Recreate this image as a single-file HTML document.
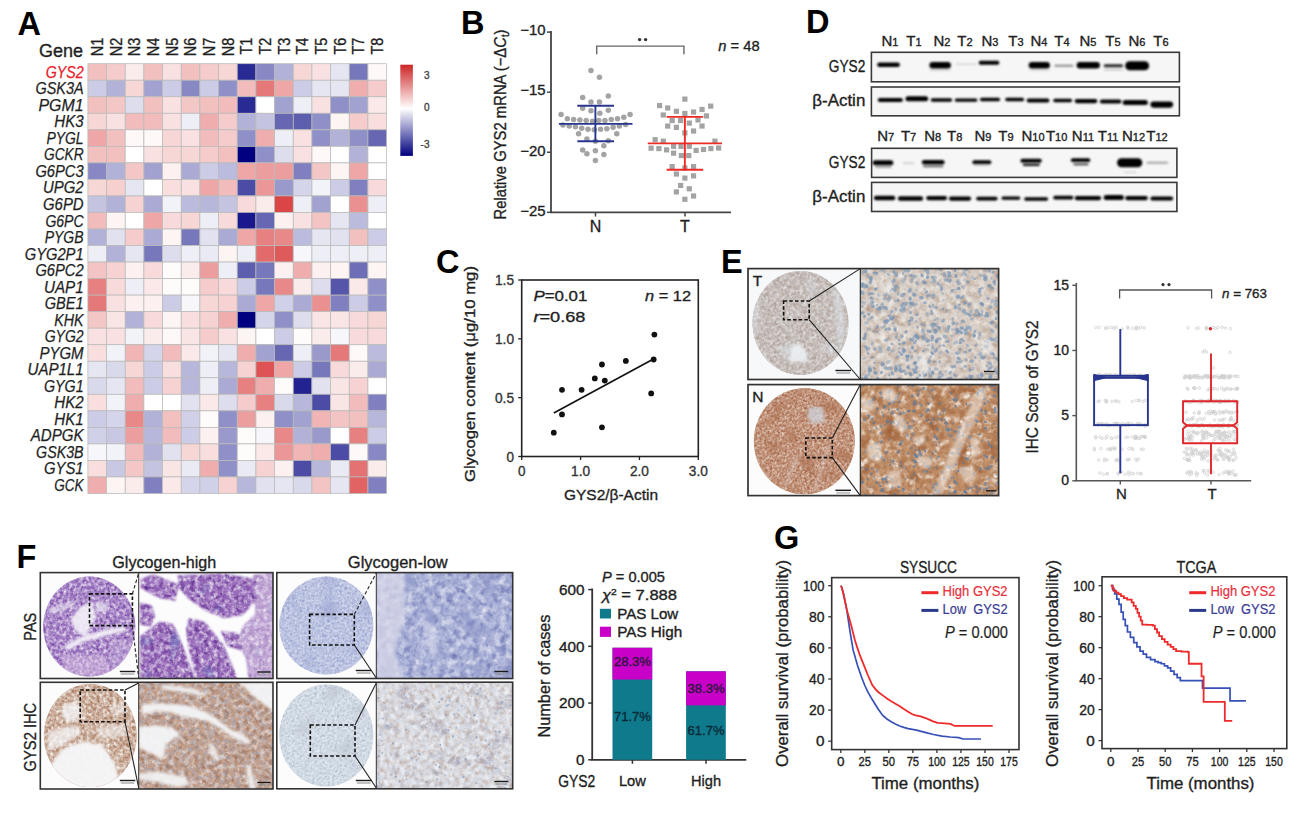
<!DOCTYPE html>
<html><head><meta charset="utf-8"><style>
html,body{margin:0;padding:0;background:#fff;width:1307px;height:813px;overflow:hidden;}
svg{display:block;font-family:"Liberation Sans", sans-serif;}
</style></head><body>
<svg width="1307" height="813" viewBox="0 0 1307 813">
<rect width="1307" height="813" fill="#fff"/>
<text x="17.50" y="34.50" font-size="32.5" text-anchor="start" fill="#000" font-weight="bold" >A</text>
<text x="83.00" y="56.50" font-size="18.5" text-anchor="end" fill="#1f1f1f" stroke="#1f1f1f" stroke-width="0.35" textLength="44" lengthAdjust="spacingAndGlyphs" >Gene</text>
<text transform="translate(103.04,37.70) rotate(-90)" x="0" y="0" font-size="17" text-anchor="end" fill="#1f1f1f" stroke="#1f1f1f" stroke-width="0.35" textLength="18.5" lengthAdjust="spacingAndGlyphs" >N1</text>
<text transform="translate(121.70,37.70) rotate(-90)" x="0" y="0" font-size="17" text-anchor="end" fill="#1f1f1f" stroke="#1f1f1f" stroke-width="0.35" textLength="18.5" lengthAdjust="spacingAndGlyphs" >N2</text>
<text transform="translate(140.38,37.70) rotate(-90)" x="0" y="0" font-size="17" text-anchor="end" fill="#1f1f1f" stroke="#1f1f1f" stroke-width="0.35" textLength="18.5" lengthAdjust="spacingAndGlyphs" >N3</text>
<text transform="translate(159.05,37.70) rotate(-90)" x="0" y="0" font-size="17" text-anchor="end" fill="#1f1f1f" stroke="#1f1f1f" stroke-width="0.35" textLength="18.5" lengthAdjust="spacingAndGlyphs" >N4</text>
<text transform="translate(177.72,37.70) rotate(-90)" x="0" y="0" font-size="17" text-anchor="end" fill="#1f1f1f" stroke="#1f1f1f" stroke-width="0.35" textLength="18.5" lengthAdjust="spacingAndGlyphs" >N5</text>
<text transform="translate(196.39,37.70) rotate(-90)" x="0" y="0" font-size="17" text-anchor="end" fill="#1f1f1f" stroke="#1f1f1f" stroke-width="0.35" textLength="18.5" lengthAdjust="spacingAndGlyphs" >N6</text>
<text transform="translate(215.06,37.70) rotate(-90)" x="0" y="0" font-size="17" text-anchor="end" fill="#1f1f1f" stroke="#1f1f1f" stroke-width="0.35" textLength="18.5" lengthAdjust="spacingAndGlyphs" >N7</text>
<text transform="translate(233.73,37.70) rotate(-90)" x="0" y="0" font-size="17" text-anchor="end" fill="#1f1f1f" stroke="#1f1f1f" stroke-width="0.35" textLength="18.5" lengthAdjust="spacingAndGlyphs" >N8</text>
<text transform="translate(252.40,37.70) rotate(-90)" x="0" y="0" font-size="17" text-anchor="end" fill="#1f1f1f" stroke="#1f1f1f" stroke-width="0.35" textLength="16.9" lengthAdjust="spacingAndGlyphs" >T1</text>
<text transform="translate(271.06,37.70) rotate(-90)" x="0" y="0" font-size="17" text-anchor="end" fill="#1f1f1f" stroke="#1f1f1f" stroke-width="0.35" textLength="16.9" lengthAdjust="spacingAndGlyphs" >T2</text>
<text transform="translate(289.74,37.70) rotate(-90)" x="0" y="0" font-size="17" text-anchor="end" fill="#1f1f1f" stroke="#1f1f1f" stroke-width="0.35" textLength="16.9" lengthAdjust="spacingAndGlyphs" >T3</text>
<text transform="translate(308.41,37.70) rotate(-90)" x="0" y="0" font-size="17" text-anchor="end" fill="#1f1f1f" stroke="#1f1f1f" stroke-width="0.35" textLength="16.9" lengthAdjust="spacingAndGlyphs" >T4</text>
<text transform="translate(327.08,37.70) rotate(-90)" x="0" y="0" font-size="17" text-anchor="end" fill="#1f1f1f" stroke="#1f1f1f" stroke-width="0.35" textLength="16.9" lengthAdjust="spacingAndGlyphs" >T5</text>
<text transform="translate(345.75,37.70) rotate(-90)" x="0" y="0" font-size="17" text-anchor="end" fill="#1f1f1f" stroke="#1f1f1f" stroke-width="0.35" textLength="16.9" lengthAdjust="spacingAndGlyphs" >T6</text>
<text transform="translate(364.42,37.70) rotate(-90)" x="0" y="0" font-size="17" text-anchor="end" fill="#1f1f1f" stroke="#1f1f1f" stroke-width="0.35" textLength="16.9" lengthAdjust="spacingAndGlyphs" >T7</text>
<text transform="translate(383.09,37.70) rotate(-90)" x="0" y="0" font-size="17" text-anchor="end" fill="#1f1f1f" stroke="#1f1f1f" stroke-width="0.35" textLength="16.9" lengthAdjust="spacingAndGlyphs" >T8</text>
<text x="83.60" y="77.77" font-size="16" text-anchor="end" fill="#e8202a" stroke="#e8202a" stroke-width="0.25" font-style="italic" textLength="37.9" lengthAdjust="spacingAndGlyphs" >GYS2</text>
<text x="83.60" y="94.30" font-size="16" text-anchor="end" fill="#1f1f1f" stroke="#1f1f1f" stroke-width="0.25" font-style="italic" textLength="48.2" lengthAdjust="spacingAndGlyphs" >GSK3A</text>
<text x="83.60" y="110.83" font-size="16" text-anchor="end" fill="#1f1f1f" stroke="#1f1f1f" stroke-width="0.25" font-style="italic" textLength="45.1" lengthAdjust="spacingAndGlyphs" >PGM1</text>
<text x="83.60" y="127.36" font-size="16" text-anchor="end" fill="#1f1f1f" stroke="#1f1f1f" stroke-width="0.25" font-style="italic" textLength="29.3" lengthAdjust="spacingAndGlyphs" >HK3</text>
<text x="83.60" y="143.89" font-size="16" text-anchor="end" fill="#1f1f1f" stroke="#1f1f1f" stroke-width="0.25" font-style="italic" textLength="37.2" lengthAdjust="spacingAndGlyphs" >PYGL</text>
<text x="83.60" y="160.42" font-size="16" text-anchor="end" fill="#1f1f1f" stroke="#1f1f1f" stroke-width="0.25" font-style="italic" textLength="39.6" lengthAdjust="spacingAndGlyphs" >GCKR</text>
<text x="83.60" y="176.95" font-size="16" text-anchor="end" fill="#1f1f1f" stroke="#1f1f1f" stroke-width="0.25" font-style="italic" textLength="48.2" lengthAdjust="spacingAndGlyphs" >G6PC3</text>
<text x="83.60" y="193.48" font-size="16" text-anchor="end" fill="#1f1f1f" stroke="#1f1f1f" stroke-width="0.25" font-style="italic" textLength="40.6" lengthAdjust="spacingAndGlyphs" >UPG2</text>
<text x="83.60" y="210.00" font-size="16" text-anchor="end" fill="#1f1f1f" stroke="#1f1f1f" stroke-width="0.25" font-style="italic" textLength="40.6" lengthAdjust="spacingAndGlyphs" >G6PD</text>
<text x="83.60" y="226.54" font-size="16" text-anchor="end" fill="#1f1f1f" stroke="#1f1f1f" stroke-width="0.25" font-style="italic" textLength="38.2" lengthAdjust="spacingAndGlyphs" >G6PC</text>
<text x="83.60" y="243.06" font-size="16" text-anchor="end" fill="#1f1f1f" stroke="#1f1f1f" stroke-width="0.25" font-style="italic" textLength="38.9" lengthAdjust="spacingAndGlyphs" >PYGB</text>
<text x="83.60" y="259.60" font-size="16" text-anchor="end" fill="#1f1f1f" stroke="#1f1f1f" stroke-width="0.25" font-style="italic" textLength="58.9" lengthAdjust="spacingAndGlyphs" >GYG2P1</text>
<text x="83.60" y="276.12" font-size="16" text-anchor="end" fill="#1f1f1f" stroke="#1f1f1f" stroke-width="0.25" font-style="italic" textLength="48.2" lengthAdjust="spacingAndGlyphs" >G6PC2</text>
<text x="83.60" y="292.66" font-size="16" text-anchor="end" fill="#1f1f1f" stroke="#1f1f1f" stroke-width="0.25" font-style="italic" textLength="39.6" lengthAdjust="spacingAndGlyphs" >UAP1</text>
<text x="83.60" y="309.19" font-size="16" text-anchor="end" fill="#1f1f1f" stroke="#1f1f1f" stroke-width="0.25" font-style="italic" textLength="38.9" lengthAdjust="spacingAndGlyphs" >GBE1</text>
<text x="83.60" y="325.72" font-size="16" text-anchor="end" fill="#1f1f1f" stroke="#1f1f1f" stroke-width="0.25" font-style="italic" textLength="29.3" lengthAdjust="spacingAndGlyphs" >KHK</text>
<text x="83.60" y="342.25" font-size="16" text-anchor="end" fill="#1f1f1f" stroke="#1f1f1f" stroke-width="0.25" font-style="italic" textLength="38.9" lengthAdjust="spacingAndGlyphs" >GYG2</text>
<text x="83.60" y="358.78" font-size="16" text-anchor="end" fill="#1f1f1f" stroke="#1f1f1f" stroke-width="0.25" font-style="italic" textLength="44.1" lengthAdjust="spacingAndGlyphs" >PYGM</text>
<text x="83.60" y="375.31" font-size="16" text-anchor="end" fill="#1f1f1f" stroke="#1f1f1f" stroke-width="0.25" font-style="italic" textLength="56.1" lengthAdjust="spacingAndGlyphs" >UAP1L1</text>
<text x="83.60" y="391.84" font-size="16" text-anchor="end" fill="#1f1f1f" stroke="#1f1f1f" stroke-width="0.25" font-style="italic" textLength="39.6" lengthAdjust="spacingAndGlyphs" >GYG1</text>
<text x="83.60" y="408.37" font-size="16" text-anchor="end" fill="#1f1f1f" stroke="#1f1f1f" stroke-width="0.25" font-style="italic" textLength="29.3" lengthAdjust="spacingAndGlyphs" >HK2</text>
<text x="83.60" y="424.90" font-size="16" text-anchor="end" fill="#1f1f1f" stroke="#1f1f1f" stroke-width="0.25" font-style="italic" textLength="29.3" lengthAdjust="spacingAndGlyphs" >HK1</text>
<text x="83.60" y="441.43" font-size="16" text-anchor="end" fill="#1f1f1f" stroke="#1f1f1f" stroke-width="0.25" font-style="italic" textLength="52.8" lengthAdjust="spacingAndGlyphs" >ADPGK</text>
<text x="83.60" y="457.96" font-size="16" text-anchor="end" fill="#1f1f1f" stroke="#1f1f1f" stroke-width="0.25" font-style="italic" textLength="47.5" lengthAdjust="spacingAndGlyphs" >GSK3B</text>
<text x="83.60" y="474.49" font-size="16" text-anchor="end" fill="#1f1f1f" stroke="#1f1f1f" stroke-width="0.25" font-style="italic" textLength="39.6" lengthAdjust="spacingAndGlyphs" >GYS1</text>
<text x="83.60" y="491.02" font-size="16" text-anchor="end" fill="#1f1f1f" stroke="#1f1f1f" stroke-width="0.25" font-style="italic" textLength="29.3" lengthAdjust="spacingAndGlyphs" >GCK</text>
<g stroke="#b4b4b4" stroke-width="0.8">
<rect x="87.90" y="63.70" width="18.67" height="16.53" fill="#f3c0c0" stroke="#bababa" stroke-width="0.75" />
<rect x="106.57" y="63.70" width="18.67" height="16.53" fill="#f5cbcb" stroke="#bababa" stroke-width="0.75" />
<rect x="125.24" y="63.70" width="18.67" height="16.53" fill="#fbecec" stroke="#bababa" stroke-width="0.75" />
<rect x="143.91" y="63.70" width="18.67" height="16.53" fill="#f3c0c0" stroke="#bababa" stroke-width="0.75" />
<rect x="162.58" y="63.70" width="18.67" height="16.53" fill="#f9e1e1" stroke="#bababa" stroke-width="0.75" />
<rect x="181.25" y="63.70" width="18.67" height="16.53" fill="#f3c0c0" stroke="#bababa" stroke-width="0.75" />
<rect x="199.92" y="63.70" width="18.67" height="16.53" fill="#f5cbcb" stroke="#bababa" stroke-width="0.75" />
<rect x="218.59" y="63.70" width="18.67" height="16.53" fill="#f7d6d6" stroke="#bababa" stroke-width="0.75" />
<rect x="237.26" y="63.70" width="18.67" height="16.53" fill="#2a2a95" stroke="#bababa" stroke-width="0.75" />
<rect x="255.93" y="63.70" width="18.67" height="16.53" fill="#8888c4" stroke="#bababa" stroke-width="0.75" />
<rect x="274.60" y="63.70" width="18.67" height="16.53" fill="#b2b2d9" stroke="#bababa" stroke-width="0.75" />
<rect x="293.27" y="63.70" width="18.67" height="16.53" fill="#f7d6d6" stroke="#bababa" stroke-width="0.75" />
<rect x="311.94" y="63.70" width="18.67" height="16.53" fill="#f9e1e1" stroke="#bababa" stroke-width="0.75" />
<rect x="330.61" y="63.70" width="18.67" height="16.53" fill="#e6e6f2" stroke="#bababa" stroke-width="0.75" />
<rect x="349.28" y="63.70" width="18.67" height="16.53" fill="#7777bb" stroke="#bababa" stroke-width="0.75" />
<rect x="367.95" y="63.70" width="18.67" height="16.53" fill="#fef8f8" stroke="#bababa" stroke-width="0.75" />
<rect x="87.90" y="80.23" width="18.67" height="16.53" fill="#cccce6" stroke="#bababa" stroke-width="0.75" />
<rect x="106.57" y="80.23" width="18.67" height="16.53" fill="#b2b2d9" stroke="#bababa" stroke-width="0.75" />
<rect x="125.24" y="80.23" width="18.67" height="16.53" fill="#f7d6d6" stroke="#bababa" stroke-width="0.75" />
<rect x="143.91" y="80.23" width="18.67" height="16.53" fill="#a2a2d0" stroke="#bababa" stroke-width="0.75" />
<rect x="162.58" y="80.23" width="18.67" height="16.53" fill="#cccce6" stroke="#bababa" stroke-width="0.75" />
<rect x="181.25" y="80.23" width="18.67" height="16.53" fill="#8888c4" stroke="#bababa" stroke-width="0.75" />
<rect x="199.92" y="80.23" width="18.67" height="16.53" fill="#cccce6" stroke="#bababa" stroke-width="0.75" />
<rect x="218.59" y="80.23" width="18.67" height="16.53" fill="#9090c8" stroke="#bababa" stroke-width="0.75" />
<rect x="237.26" y="80.23" width="18.67" height="16.53" fill="#f2bcbc" stroke="#bababa" stroke-width="0.75" />
<rect x="255.93" y="80.23" width="18.67" height="16.53" fill="#e57979" stroke="#bababa" stroke-width="0.75" />
<rect x="274.60" y="80.23" width="18.67" height="16.53" fill="#eea6a6" stroke="#bababa" stroke-width="0.75" />
<rect x="293.27" y="80.23" width="18.67" height="16.53" fill="#cccce6" stroke="#bababa" stroke-width="0.75" />
<rect x="311.94" y="80.23" width="18.67" height="16.53" fill="#e6e6f2" stroke="#bababa" stroke-width="0.75" />
<rect x="330.61" y="80.23" width="18.67" height="16.53" fill="#e6e6f2" stroke="#bababa" stroke-width="0.75" />
<rect x="349.28" y="80.23" width="18.67" height="16.53" fill="#efadad" stroke="#bababa" stroke-width="0.75" />
<rect x="367.95" y="80.23" width="18.67" height="16.53" fill="#f5cbcb" stroke="#bababa" stroke-width="0.75" />
<rect x="87.90" y="96.76" width="18.67" height="16.53" fill="#f3c0c0" stroke="#bababa" stroke-width="0.75" />
<rect x="106.57" y="96.76" width="18.67" height="16.53" fill="#f4c7c7" stroke="#bababa" stroke-width="0.75" />
<rect x="125.24" y="96.76" width="18.67" height="16.53" fill="#ddddee" stroke="#bababa" stroke-width="0.75" />
<rect x="143.91" y="96.76" width="18.67" height="16.53" fill="#f3c0c0" stroke="#bababa" stroke-width="0.75" />
<rect x="162.58" y="96.76" width="18.67" height="16.53" fill="#f9e1e1" stroke="#bababa" stroke-width="0.75" />
<rect x="181.25" y="96.76" width="18.67" height="16.53" fill="#f4c7c7" stroke="#bababa" stroke-width="0.75" />
<rect x="199.92" y="96.76" width="18.67" height="16.53" fill="#f3c0c0" stroke="#bababa" stroke-width="0.75" />
<rect x="218.59" y="96.76" width="18.67" height="16.53" fill="#f2bcbc" stroke="#bababa" stroke-width="0.75" />
<rect x="237.26" y="96.76" width="18.67" height="16.53" fill="#2a2a95" stroke="#bababa" stroke-width="0.75" />
<rect x="255.93" y="96.76" width="18.67" height="16.53" fill="#ffffff" stroke="#bababa" stroke-width="0.75" />
<rect x="274.60" y="96.76" width="18.67" height="16.53" fill="#a2a2d0" stroke="#bababa" stroke-width="0.75" />
<rect x="293.27" y="96.76" width="18.67" height="16.53" fill="#eeeef7" stroke="#bababa" stroke-width="0.75" />
<rect x="311.94" y="96.76" width="18.67" height="16.53" fill="#f9e1e1" stroke="#bababa" stroke-width="0.75" />
<rect x="330.61" y="96.76" width="18.67" height="16.53" fill="#9090c8" stroke="#bababa" stroke-width="0.75" />
<rect x="349.28" y="96.76" width="18.67" height="16.53" fill="#a2a2d0" stroke="#bababa" stroke-width="0.75" />
<rect x="367.95" y="96.76" width="18.67" height="16.53" fill="#fbe9e9" stroke="#bababa" stroke-width="0.75" />
<rect x="87.90" y="113.29" width="18.67" height="16.53" fill="#f7d6d6" stroke="#bababa" stroke-width="0.75" />
<rect x="106.57" y="113.29" width="18.67" height="16.53" fill="#f9e1e1" stroke="#bababa" stroke-width="0.75" />
<rect x="125.24" y="113.29" width="18.67" height="16.53" fill="#f2bcbc" stroke="#bababa" stroke-width="0.75" />
<rect x="143.91" y="113.29" width="18.67" height="16.53" fill="#f2bcbc" stroke="#bababa" stroke-width="0.75" />
<rect x="162.58" y="113.29" width="18.67" height="16.53" fill="#f9e1e1" stroke="#bababa" stroke-width="0.75" />
<rect x="181.25" y="113.29" width="18.67" height="16.53" fill="#eeeef7" stroke="#bababa" stroke-width="0.75" />
<rect x="199.92" y="113.29" width="18.67" height="16.53" fill="#efadad" stroke="#bababa" stroke-width="0.75" />
<rect x="218.59" y="113.29" width="18.67" height="16.53" fill="#f5cbcb" stroke="#bababa" stroke-width="0.75" />
<rect x="237.26" y="113.29" width="18.67" height="16.53" fill="#b2b2d9" stroke="#bababa" stroke-width="0.75" />
<rect x="255.93" y="113.29" width="18.67" height="16.53" fill="#c4c4e1" stroke="#bababa" stroke-width="0.75" />
<rect x="274.60" y="113.29" width="18.67" height="16.53" fill="#6666b3" stroke="#bababa" stroke-width="0.75" />
<rect x="293.27" y="113.29" width="18.67" height="16.53" fill="#5e5eaf" stroke="#bababa" stroke-width="0.75" />
<rect x="311.94" y="113.29" width="18.67" height="16.53" fill="#9090c8" stroke="#bababa" stroke-width="0.75" />
<rect x="330.61" y="113.29" width="18.67" height="16.53" fill="#fdf4f4" stroke="#bababa" stroke-width="0.75" />
<rect x="349.28" y="113.29" width="18.67" height="16.53" fill="#f5cbcb" stroke="#bababa" stroke-width="0.75" />
<rect x="367.95" y="113.29" width="18.67" height="16.53" fill="#f9dede" stroke="#bababa" stroke-width="0.75" />
<rect x="87.90" y="129.82" width="18.67" height="16.53" fill="#eea6a6" stroke="#bababa" stroke-width="0.75" />
<rect x="106.57" y="129.82" width="18.67" height="16.53" fill="#f3c0c0" stroke="#bababa" stroke-width="0.75" />
<rect x="125.24" y="129.82" width="18.67" height="16.53" fill="#fef8f8" stroke="#bababa" stroke-width="0.75" />
<rect x="143.91" y="129.82" width="18.67" height="16.53" fill="#fef8f8" stroke="#bababa" stroke-width="0.75" />
<rect x="162.58" y="129.82" width="18.67" height="16.53" fill="#f7d6d6" stroke="#bababa" stroke-width="0.75" />
<rect x="181.25" y="129.82" width="18.67" height="16.53" fill="#f9e1e1" stroke="#bababa" stroke-width="0.75" />
<rect x="199.92" y="129.82" width="18.67" height="16.53" fill="#f2bcbc" stroke="#bababa" stroke-width="0.75" />
<rect x="218.59" y="129.82" width="18.67" height="16.53" fill="#f5cbcb" stroke="#bababa" stroke-width="0.75" />
<rect x="237.26" y="129.82" width="18.67" height="16.53" fill="#9090c8" stroke="#bababa" stroke-width="0.75" />
<rect x="255.93" y="129.82" width="18.67" height="16.53" fill="#efadad" stroke="#bababa" stroke-width="0.75" />
<rect x="274.60" y="129.82" width="18.67" height="16.53" fill="#eeeef7" stroke="#bababa" stroke-width="0.75" />
<rect x="293.27" y="129.82" width="18.67" height="16.53" fill="#f9e1e1" stroke="#bababa" stroke-width="0.75" />
<rect x="311.94" y="129.82" width="18.67" height="16.53" fill="#9090c8" stroke="#bababa" stroke-width="0.75" />
<rect x="330.61" y="129.82" width="18.67" height="16.53" fill="#b2b2d9" stroke="#bababa" stroke-width="0.75" />
<rect x="349.28" y="129.82" width="18.67" height="16.53" fill="#9090c8" stroke="#bababa" stroke-width="0.75" />
<rect x="367.95" y="129.82" width="18.67" height="16.53" fill="#6666b3" stroke="#bababa" stroke-width="0.75" />
<rect x="87.90" y="146.35" width="18.67" height="16.53" fill="#f3c0c0" stroke="#bababa" stroke-width="0.75" />
<rect x="106.57" y="146.35" width="18.67" height="16.53" fill="#f3c0c0" stroke="#bababa" stroke-width="0.75" />
<rect x="125.24" y="146.35" width="18.67" height="16.53" fill="#ffffff" stroke="#bababa" stroke-width="0.75" />
<rect x="143.91" y="146.35" width="18.67" height="16.53" fill="#f9e1e1" stroke="#bababa" stroke-width="0.75" />
<rect x="162.58" y="146.35" width="18.67" height="16.53" fill="#f7d6d6" stroke="#bababa" stroke-width="0.75" />
<rect x="181.25" y="146.35" width="18.67" height="16.53" fill="#f7d6d6" stroke="#bababa" stroke-width="0.75" />
<rect x="199.92" y="146.35" width="18.67" height="16.53" fill="#f5cbcb" stroke="#bababa" stroke-width="0.75" />
<rect x="218.59" y="146.35" width="18.67" height="16.53" fill="#f3c0c0" stroke="#bababa" stroke-width="0.75" />
<rect x="237.26" y="146.35" width="18.67" height="16.53" fill="#000080" stroke="#bababa" stroke-width="0.75" />
<rect x="255.93" y="146.35" width="18.67" height="16.53" fill="#9090c8" stroke="#bababa" stroke-width="0.75" />
<rect x="274.60" y="146.35" width="18.67" height="16.53" fill="#ddddee" stroke="#bababa" stroke-width="0.75" />
<rect x="293.27" y="146.35" width="18.67" height="16.53" fill="#f9e1e1" stroke="#bababa" stroke-width="0.75" />
<rect x="311.94" y="146.35" width="18.67" height="16.53" fill="#fef8f8" stroke="#bababa" stroke-width="0.75" />
<rect x="330.61" y="146.35" width="18.67" height="16.53" fill="#ffffff" stroke="#bababa" stroke-width="0.75" />
<rect x="349.28" y="146.35" width="18.67" height="16.53" fill="#b2b2d9" stroke="#bababa" stroke-width="0.75" />
<rect x="367.95" y="146.35" width="18.67" height="16.53" fill="#ffffff" stroke="#bababa" stroke-width="0.75" />
<rect x="87.90" y="162.88" width="18.67" height="16.53" fill="#8888c4" stroke="#bababa" stroke-width="0.75" />
<rect x="106.57" y="162.88" width="18.67" height="16.53" fill="#b2b2d9" stroke="#bababa" stroke-width="0.75" />
<rect x="125.24" y="162.88" width="18.67" height="16.53" fill="#f4c7c7" stroke="#bababa" stroke-width="0.75" />
<rect x="143.91" y="162.88" width="18.67" height="16.53" fill="#a2a2d0" stroke="#bababa" stroke-width="0.75" />
<rect x="162.58" y="162.88" width="18.67" height="16.53" fill="#fcf0f0" stroke="#bababa" stroke-width="0.75" />
<rect x="181.25" y="162.88" width="18.67" height="16.53" fill="#aaaad5" stroke="#bababa" stroke-width="0.75" />
<rect x="199.92" y="162.88" width="18.67" height="16.53" fill="#cccce6" stroke="#bababa" stroke-width="0.75" />
<rect x="218.59" y="162.88" width="18.67" height="16.53" fill="#bbbbdd" stroke="#bababa" stroke-width="0.75" />
<rect x="237.26" y="162.88" width="18.67" height="16.53" fill="#eea6a6" stroke="#bababa" stroke-width="0.75" />
<rect x="255.93" y="162.88" width="18.67" height="16.53" fill="#ec9e9e" stroke="#bababa" stroke-width="0.75" />
<rect x="274.60" y="162.88" width="18.67" height="16.53" fill="#ec9e9e" stroke="#bababa" stroke-width="0.75" />
<rect x="293.27" y="162.88" width="18.67" height="16.53" fill="#8080c0" stroke="#bababa" stroke-width="0.75" />
<rect x="311.94" y="162.88" width="18.67" height="16.53" fill="#f4c7c7" stroke="#bababa" stroke-width="0.75" />
<rect x="330.61" y="162.88" width="18.67" height="16.53" fill="#fdf4f4" stroke="#bababa" stroke-width="0.75" />
<rect x="349.28" y="162.88" width="18.67" height="16.53" fill="#eea6a6" stroke="#bababa" stroke-width="0.75" />
<rect x="367.95" y="162.88" width="18.67" height="16.53" fill="#ffffff" stroke="#bababa" stroke-width="0.75" />
<rect x="87.90" y="179.41" width="18.67" height="16.53" fill="#f7d6d6" stroke="#bababa" stroke-width="0.75" />
<rect x="106.57" y="179.41" width="18.67" height="16.53" fill="#f6cfcf" stroke="#bababa" stroke-width="0.75" />
<rect x="125.24" y="179.41" width="18.67" height="16.53" fill="#e6e6f2" stroke="#bababa" stroke-width="0.75" />
<rect x="143.91" y="179.41" width="18.67" height="16.53" fill="#ffffff" stroke="#bababa" stroke-width="0.75" />
<rect x="162.58" y="179.41" width="18.67" height="16.53" fill="#f9dede" stroke="#bababa" stroke-width="0.75" />
<rect x="181.25" y="179.41" width="18.67" height="16.53" fill="#f9e1e1" stroke="#bababa" stroke-width="0.75" />
<rect x="199.92" y="179.41" width="18.67" height="16.53" fill="#eea6a6" stroke="#bababa" stroke-width="0.75" />
<rect x="218.59" y="179.41" width="18.67" height="16.53" fill="#f2bcbc" stroke="#bababa" stroke-width="0.75" />
<rect x="237.26" y="179.41" width="18.67" height="16.53" fill="#4c4ca6" stroke="#bababa" stroke-width="0.75" />
<rect x="255.93" y="179.41" width="18.67" height="16.53" fill="#eb9797" stroke="#bababa" stroke-width="0.75" />
<rect x="274.60" y="179.41" width="18.67" height="16.53" fill="#9999cc" stroke="#bababa" stroke-width="0.75" />
<rect x="293.27" y="179.41" width="18.67" height="16.53" fill="#d4d4ea" stroke="#bababa" stroke-width="0.75" />
<rect x="311.94" y="179.41" width="18.67" height="16.53" fill="#f2f2f9" stroke="#bababa" stroke-width="0.75" />
<rect x="330.61" y="179.41" width="18.67" height="16.53" fill="#cccce6" stroke="#bababa" stroke-width="0.75" />
<rect x="349.28" y="179.41" width="18.67" height="16.53" fill="#8080c0" stroke="#bababa" stroke-width="0.75" />
<rect x="367.95" y="179.41" width="18.67" height="16.53" fill="#f8dada" stroke="#bababa" stroke-width="0.75" />
<rect x="87.90" y="195.94" width="18.67" height="16.53" fill="#c4c4e1" stroke="#bababa" stroke-width="0.75" />
<rect x="106.57" y="195.94" width="18.67" height="16.53" fill="#b2b2d9" stroke="#bababa" stroke-width="0.75" />
<rect x="125.24" y="195.94" width="18.67" height="16.53" fill="#f6d2d2" stroke="#bababa" stroke-width="0.75" />
<rect x="143.91" y="195.94" width="18.67" height="16.53" fill="#aaaad5" stroke="#bababa" stroke-width="0.75" />
<rect x="162.58" y="195.94" width="18.67" height="16.53" fill="#f2f2f9" stroke="#bababa" stroke-width="0.75" />
<rect x="181.25" y="195.94" width="18.67" height="16.53" fill="#bbbbdd" stroke="#bababa" stroke-width="0.75" />
<rect x="199.92" y="195.94" width="18.67" height="16.53" fill="#b7b7db" stroke="#bababa" stroke-width="0.75" />
<rect x="218.59" y="195.94" width="18.67" height="16.53" fill="#c4c4e1" stroke="#bababa" stroke-width="0.75" />
<rect x="237.26" y="195.94" width="18.67" height="16.53" fill="#f8dada" stroke="#bababa" stroke-width="0.75" />
<rect x="255.93" y="195.94" width="18.67" height="16.53" fill="#fbecec" stroke="#bababa" stroke-width="0.75" />
<rect x="274.60" y="195.94" width="18.67" height="16.53" fill="#db4545" stroke="#bababa" stroke-width="0.75" />
<rect x="293.27" y="195.94" width="18.67" height="16.53" fill="#eeeef7" stroke="#bababa" stroke-width="0.75" />
<rect x="311.94" y="195.94" width="18.67" height="16.53" fill="#a2a2d0" stroke="#bababa" stroke-width="0.75" />
<rect x="330.61" y="195.94" width="18.67" height="16.53" fill="#ffffff" stroke="#bababa" stroke-width="0.75" />
<rect x="349.28" y="195.94" width="18.67" height="16.53" fill="#ea9090" stroke="#bababa" stroke-width="0.75" />
<rect x="367.95" y="195.94" width="18.67" height="16.53" fill="#eeeef7" stroke="#bababa" stroke-width="0.75" />
<rect x="87.90" y="212.47" width="18.67" height="16.53" fill="#f2bcbc" stroke="#bababa" stroke-width="0.75" />
<rect x="106.57" y="212.47" width="18.67" height="16.53" fill="#fdf4f4" stroke="#bababa" stroke-width="0.75" />
<rect x="125.24" y="212.47" width="18.67" height="16.53" fill="#ffffff" stroke="#bababa" stroke-width="0.75" />
<rect x="143.91" y="212.47" width="18.67" height="16.53" fill="#eea6a6" stroke="#bababa" stroke-width="0.75" />
<rect x="162.58" y="212.47" width="18.67" height="16.53" fill="#f8dada" stroke="#bababa" stroke-width="0.75" />
<rect x="181.25" y="212.47" width="18.67" height="16.53" fill="#f7d6d6" stroke="#bababa" stroke-width="0.75" />
<rect x="199.92" y="212.47" width="18.67" height="16.53" fill="#eeeef7" stroke="#bababa" stroke-width="0.75" />
<rect x="218.59" y="212.47" width="18.67" height="16.53" fill="#f8dada" stroke="#bababa" stroke-width="0.75" />
<rect x="237.26" y="212.47" width="18.67" height="16.53" fill="#19198d" stroke="#bababa" stroke-width="0.75" />
<rect x="255.93" y="212.47" width="18.67" height="16.53" fill="#6666b3" stroke="#bababa" stroke-width="0.75" />
<rect x="274.60" y="212.47" width="18.67" height="16.53" fill="#fcf0f0" stroke="#bababa" stroke-width="0.75" />
<rect x="293.27" y="212.47" width="18.67" height="16.53" fill="#f9e1e1" stroke="#bababa" stroke-width="0.75" />
<rect x="311.94" y="212.47" width="18.67" height="16.53" fill="#f4c4c4" stroke="#bababa" stroke-width="0.75" />
<rect x="330.61" y="212.47" width="18.67" height="16.53" fill="#e6e6f2" stroke="#bababa" stroke-width="0.75" />
<rect x="349.28" y="212.47" width="18.67" height="16.53" fill="#bbbbdd" stroke="#bababa" stroke-width="0.75" />
<rect x="367.95" y="212.47" width="18.67" height="16.53" fill="#ffffff" stroke="#bababa" stroke-width="0.75" />
<rect x="87.90" y="229.00" width="18.67" height="16.53" fill="#b2b2d9" stroke="#bababa" stroke-width="0.75" />
<rect x="106.57" y="229.00" width="18.67" height="16.53" fill="#e1e1f0" stroke="#bababa" stroke-width="0.75" />
<rect x="125.24" y="229.00" width="18.67" height="16.53" fill="#f5cbcb" stroke="#bababa" stroke-width="0.75" />
<rect x="143.91" y="229.00" width="18.67" height="16.53" fill="#aaaad5" stroke="#bababa" stroke-width="0.75" />
<rect x="162.58" y="229.00" width="18.67" height="16.53" fill="#fdf4f4" stroke="#bababa" stroke-width="0.75" />
<rect x="181.25" y="229.00" width="18.67" height="16.53" fill="#7777bb" stroke="#bababa" stroke-width="0.75" />
<rect x="199.92" y="229.00" width="18.67" height="16.53" fill="#e1e1f0" stroke="#bababa" stroke-width="0.75" />
<rect x="218.59" y="229.00" width="18.67" height="16.53" fill="#aaaad5" stroke="#bababa" stroke-width="0.75" />
<rect x="237.26" y="229.00" width="18.67" height="16.53" fill="#eea6a6" stroke="#bababa" stroke-width="0.75" />
<rect x="255.93" y="229.00" width="18.67" height="16.53" fill="#e78181" stroke="#bababa" stroke-width="0.75" />
<rect x="274.60" y="229.00" width="18.67" height="16.53" fill="#e88888" stroke="#bababa" stroke-width="0.75" />
<rect x="293.27" y="229.00" width="18.67" height="16.53" fill="#bbbbdd" stroke="#bababa" stroke-width="0.75" />
<rect x="311.94" y="229.00" width="18.67" height="16.53" fill="#e6e6f2" stroke="#bababa" stroke-width="0.75" />
<rect x="330.61" y="229.00" width="18.67" height="16.53" fill="#e1e1f0" stroke="#bababa" stroke-width="0.75" />
<rect x="349.28" y="229.00" width="18.67" height="16.53" fill="#f3c0c0" stroke="#bababa" stroke-width="0.75" />
<rect x="367.95" y="229.00" width="18.67" height="16.53" fill="#cccce6" stroke="#bababa" stroke-width="0.75" />
<rect x="87.90" y="245.53" width="18.67" height="16.53" fill="#eeeef7" stroke="#bababa" stroke-width="0.75" />
<rect x="106.57" y="245.53" width="18.67" height="16.53" fill="#b2b2d9" stroke="#bababa" stroke-width="0.75" />
<rect x="125.24" y="245.53" width="18.67" height="16.53" fill="#e6e6f2" stroke="#bababa" stroke-width="0.75" />
<rect x="143.91" y="245.53" width="18.67" height="16.53" fill="#7777bb" stroke="#bababa" stroke-width="0.75" />
<rect x="162.58" y="245.53" width="18.67" height="16.53" fill="#ddddee" stroke="#bababa" stroke-width="0.75" />
<rect x="181.25" y="245.53" width="18.67" height="16.53" fill="#eeeef7" stroke="#bababa" stroke-width="0.75" />
<rect x="199.92" y="245.53" width="18.67" height="16.53" fill="#eaeaf4" stroke="#bababa" stroke-width="0.75" />
<rect x="218.59" y="245.53" width="18.67" height="16.53" fill="#fdf4f4" stroke="#bababa" stroke-width="0.75" />
<rect x="237.26" y="245.53" width="18.67" height="16.53" fill="#eeeef7" stroke="#bababa" stroke-width="0.75" />
<rect x="255.93" y="245.53" width="18.67" height="16.53" fill="#e26a6a" stroke="#bababa" stroke-width="0.75" />
<rect x="274.60" y="245.53" width="18.67" height="16.53" fill="#df5b5b" stroke="#bababa" stroke-width="0.75" />
<rect x="293.27" y="245.53" width="18.67" height="16.53" fill="#f6f6fb" stroke="#bababa" stroke-width="0.75" />
<rect x="311.94" y="245.53" width="18.67" height="16.53" fill="#eeeef7" stroke="#bababa" stroke-width="0.75" />
<rect x="330.61" y="245.53" width="18.67" height="16.53" fill="#eeeef7" stroke="#bababa" stroke-width="0.75" />
<rect x="349.28" y="245.53" width="18.67" height="16.53" fill="#eeeef7" stroke="#bababa" stroke-width="0.75" />
<rect x="367.95" y="245.53" width="18.67" height="16.53" fill="#eeeef7" stroke="#bababa" stroke-width="0.75" />
<rect x="87.90" y="262.06" width="18.67" height="16.53" fill="#f4c4c4" stroke="#bababa" stroke-width="0.75" />
<rect x="106.57" y="262.06" width="18.67" height="16.53" fill="#f6d2d2" stroke="#bababa" stroke-width="0.75" />
<rect x="125.24" y="262.06" width="18.67" height="16.53" fill="#fcf0f0" stroke="#bababa" stroke-width="0.75" />
<rect x="143.91" y="262.06" width="18.67" height="16.53" fill="#f8dada" stroke="#bababa" stroke-width="0.75" />
<rect x="162.58" y="262.06" width="18.67" height="16.53" fill="#fefbfb" stroke="#bababa" stroke-width="0.75" />
<rect x="181.25" y="262.06" width="18.67" height="16.53" fill="#fbecec" stroke="#bababa" stroke-width="0.75" />
<rect x="199.92" y="262.06" width="18.67" height="16.53" fill="#ec9e9e" stroke="#bababa" stroke-width="0.75" />
<rect x="218.59" y="262.06" width="18.67" height="16.53" fill="#eeeef7" stroke="#bababa" stroke-width="0.75" />
<rect x="237.26" y="262.06" width="18.67" height="16.53" fill="#5e5eaf" stroke="#bababa" stroke-width="0.75" />
<rect x="255.93" y="262.06" width="18.67" height="16.53" fill="#7777bb" stroke="#bababa" stroke-width="0.75" />
<rect x="274.60" y="262.06" width="18.67" height="16.53" fill="#fcf0f0" stroke="#bababa" stroke-width="0.75" />
<rect x="293.27" y="262.06" width="18.67" height="16.53" fill="#efadad" stroke="#bababa" stroke-width="0.75" />
<rect x="311.94" y="262.06" width="18.67" height="16.53" fill="#fcf0f0" stroke="#bababa" stroke-width="0.75" />
<rect x="330.61" y="262.06" width="18.67" height="16.53" fill="#fdf4f4" stroke="#bababa" stroke-width="0.75" />
<rect x="349.28" y="262.06" width="18.67" height="16.53" fill="#6e6eb7" stroke="#bababa" stroke-width="0.75" />
<rect x="367.95" y="262.06" width="18.67" height="16.53" fill="#fdf4f4" stroke="#bababa" stroke-width="0.75" />
<rect x="87.90" y="278.59" width="18.67" height="16.53" fill="#e78181" stroke="#bababa" stroke-width="0.75" />
<rect x="106.57" y="278.59" width="18.67" height="16.53" fill="#f8dada" stroke="#bababa" stroke-width="0.75" />
<rect x="125.24" y="278.59" width="18.67" height="16.53" fill="#eeeef7" stroke="#bababa" stroke-width="0.75" />
<rect x="143.91" y="278.59" width="18.67" height="16.53" fill="#fbe9e9" stroke="#bababa" stroke-width="0.75" />
<rect x="162.58" y="278.59" width="18.67" height="16.53" fill="#fefbfb" stroke="#bababa" stroke-width="0.75" />
<rect x="181.25" y="278.59" width="18.67" height="16.53" fill="#fefbfb" stroke="#bababa" stroke-width="0.75" />
<rect x="199.92" y="278.59" width="18.67" height="16.53" fill="#f5cbcb" stroke="#bababa" stroke-width="0.75" />
<rect x="218.59" y="278.59" width="18.67" height="16.53" fill="#f8dada" stroke="#bababa" stroke-width="0.75" />
<rect x="237.26" y="278.59" width="18.67" height="16.53" fill="#cccce6" stroke="#bababa" stroke-width="0.75" />
<rect x="255.93" y="278.59" width="18.67" height="16.53" fill="#7777bb" stroke="#bababa" stroke-width="0.75" />
<rect x="274.60" y="278.59" width="18.67" height="16.53" fill="#e88888" stroke="#bababa" stroke-width="0.75" />
<rect x="293.27" y="278.59" width="18.67" height="16.53" fill="#fbecec" stroke="#bababa" stroke-width="0.75" />
<rect x="311.94" y="278.59" width="18.67" height="16.53" fill="#ddddee" stroke="#bababa" stroke-width="0.75" />
<rect x="330.61" y="278.59" width="18.67" height="16.53" fill="#5555aa" stroke="#bababa" stroke-width="0.75" />
<rect x="349.28" y="278.59" width="18.67" height="16.53" fill="#fbe9e9" stroke="#bababa" stroke-width="0.75" />
<rect x="367.95" y="278.59" width="18.67" height="16.53" fill="#9090c8" stroke="#bababa" stroke-width="0.75" />
<rect x="87.90" y="295.12" width="18.67" height="16.53" fill="#e57979" stroke="#bababa" stroke-width="0.75" />
<rect x="106.57" y="295.12" width="18.67" height="16.53" fill="#f9e1e1" stroke="#bababa" stroke-width="0.75" />
<rect x="125.24" y="295.12" width="18.67" height="16.53" fill="#fcf0f0" stroke="#bababa" stroke-width="0.75" />
<rect x="143.91" y="295.12" width="18.67" height="16.53" fill="#fcf0f0" stroke="#bababa" stroke-width="0.75" />
<rect x="162.58" y="295.12" width="18.67" height="16.53" fill="#cccce6" stroke="#bababa" stroke-width="0.75" />
<rect x="181.25" y="295.12" width="18.67" height="16.53" fill="#f6f6fb" stroke="#bababa" stroke-width="0.75" />
<rect x="199.92" y="295.12" width="18.67" height="16.53" fill="#f7d6d6" stroke="#bababa" stroke-width="0.75" />
<rect x="218.59" y="295.12" width="18.67" height="16.53" fill="#f6d2d2" stroke="#bababa" stroke-width="0.75" />
<rect x="237.26" y="295.12" width="18.67" height="16.53" fill="#aaaad5" stroke="#bababa" stroke-width="0.75" />
<rect x="255.93" y="295.12" width="18.67" height="16.53" fill="#eea6a6" stroke="#bababa" stroke-width="0.75" />
<rect x="274.60" y="295.12" width="18.67" height="16.53" fill="#d0d0e8" stroke="#bababa" stroke-width="0.75" />
<rect x="293.27" y="295.12" width="18.67" height="16.53" fill="#aaaad5" stroke="#bababa" stroke-width="0.75" />
<rect x="311.94" y="295.12" width="18.67" height="16.53" fill="#ea9090" stroke="#bababa" stroke-width="0.75" />
<rect x="330.61" y="295.12" width="18.67" height="16.53" fill="#8080c0" stroke="#bababa" stroke-width="0.75" />
<rect x="349.28" y="295.12" width="18.67" height="16.53" fill="#cccce6" stroke="#bababa" stroke-width="0.75" />
<rect x="367.95" y="295.12" width="18.67" height="16.53" fill="#9090c8" stroke="#bababa" stroke-width="0.75" />
<rect x="87.90" y="311.65" width="18.67" height="16.53" fill="#f4c7c7" stroke="#bababa" stroke-width="0.75" />
<rect x="106.57" y="311.65" width="18.67" height="16.53" fill="#fae5e5" stroke="#bababa" stroke-width="0.75" />
<rect x="125.24" y="311.65" width="18.67" height="16.53" fill="#b2b2d9" stroke="#bababa" stroke-width="0.75" />
<rect x="143.91" y="311.65" width="18.67" height="16.53" fill="#f8dada" stroke="#bababa" stroke-width="0.75" />
<rect x="162.58" y="311.65" width="18.67" height="16.53" fill="#fdf4f4" stroke="#bababa" stroke-width="0.75" />
<rect x="181.25" y="311.65" width="18.67" height="16.53" fill="#f9dede" stroke="#bababa" stroke-width="0.75" />
<rect x="199.92" y="311.65" width="18.67" height="16.53" fill="#f6d2d2" stroke="#bababa" stroke-width="0.75" />
<rect x="218.59" y="311.65" width="18.67" height="16.53" fill="#efadad" stroke="#bababa" stroke-width="0.75" />
<rect x="237.26" y="311.65" width="18.67" height="16.53" fill="#000080" stroke="#bababa" stroke-width="0.75" />
<rect x="255.93" y="311.65" width="18.67" height="16.53" fill="#d4d4ea" stroke="#bababa" stroke-width="0.75" />
<rect x="274.60" y="311.65" width="18.67" height="16.53" fill="#9090c8" stroke="#bababa" stroke-width="0.75" />
<rect x="293.27" y="311.65" width="18.67" height="16.53" fill="#ddddee" stroke="#bababa" stroke-width="0.75" />
<rect x="311.94" y="311.65" width="18.67" height="16.53" fill="#fae5e5" stroke="#bababa" stroke-width="0.75" />
<rect x="330.61" y="311.65" width="18.67" height="16.53" fill="#fae5e5" stroke="#bababa" stroke-width="0.75" />
<rect x="349.28" y="311.65" width="18.67" height="16.53" fill="#f8dada" stroke="#bababa" stroke-width="0.75" />
<rect x="367.95" y="311.65" width="18.67" height="16.53" fill="#f7d6d6" stroke="#bababa" stroke-width="0.75" />
<rect x="87.90" y="328.18" width="18.67" height="16.53" fill="#f9e1e1" stroke="#bababa" stroke-width="0.75" />
<rect x="106.57" y="328.18" width="18.67" height="16.53" fill="#f9e1e1" stroke="#bababa" stroke-width="0.75" />
<rect x="125.24" y="328.18" width="18.67" height="16.53" fill="#f2f2f9" stroke="#bababa" stroke-width="0.75" />
<rect x="143.91" y="328.18" width="18.67" height="16.53" fill="#fbecec" stroke="#bababa" stroke-width="0.75" />
<rect x="162.58" y="328.18" width="18.67" height="16.53" fill="#fef8f8" stroke="#bababa" stroke-width="0.75" />
<rect x="181.25" y="328.18" width="18.67" height="16.53" fill="#fae5e5" stroke="#bababa" stroke-width="0.75" />
<rect x="199.92" y="328.18" width="18.67" height="16.53" fill="#f5cbcb" stroke="#bababa" stroke-width="0.75" />
<rect x="218.59" y="328.18" width="18.67" height="16.53" fill="#f9e1e1" stroke="#bababa" stroke-width="0.75" />
<rect x="237.26" y="328.18" width="18.67" height="16.53" fill="#fdf4f4" stroke="#bababa" stroke-width="0.75" />
<rect x="255.93" y="328.18" width="18.67" height="16.53" fill="#ffffff" stroke="#bababa" stroke-width="0.75" />
<rect x="274.60" y="328.18" width="18.67" height="16.53" fill="#cccce6" stroke="#bababa" stroke-width="0.75" />
<rect x="293.27" y="328.18" width="18.67" height="16.53" fill="#fefbfb" stroke="#bababa" stroke-width="0.75" />
<rect x="311.94" y="328.18" width="18.67" height="16.53" fill="#fbecec" stroke="#bababa" stroke-width="0.75" />
<rect x="330.61" y="328.18" width="18.67" height="16.53" fill="#f6f6fb" stroke="#bababa" stroke-width="0.75" />
<rect x="349.28" y="328.18" width="18.67" height="16.53" fill="#f8dada" stroke="#bababa" stroke-width="0.75" />
<rect x="367.95" y="328.18" width="18.67" height="16.53" fill="#f8dada" stroke="#bababa" stroke-width="0.75" />
<rect x="87.90" y="344.71" width="18.67" height="16.53" fill="#f9dede" stroke="#bababa" stroke-width="0.75" />
<rect x="106.57" y="344.71" width="18.67" height="16.53" fill="#f2f2f9" stroke="#bababa" stroke-width="0.75" />
<rect x="125.24" y="344.71" width="18.67" height="16.53" fill="#f1b5b5" stroke="#bababa" stroke-width="0.75" />
<rect x="143.91" y="344.71" width="18.67" height="16.53" fill="#d4d4ea" stroke="#bababa" stroke-width="0.75" />
<rect x="162.58" y="344.71" width="18.67" height="16.53" fill="#f2bcbc" stroke="#bababa" stroke-width="0.75" />
<rect x="181.25" y="344.71" width="18.67" height="16.53" fill="#fbe9e9" stroke="#bababa" stroke-width="0.75" />
<rect x="199.92" y="344.71" width="18.67" height="16.53" fill="#f2f2f9" stroke="#bababa" stroke-width="0.75" />
<rect x="218.59" y="344.71" width="18.67" height="16.53" fill="#e6e6f2" stroke="#bababa" stroke-width="0.75" />
<rect x="237.26" y="344.71" width="18.67" height="16.53" fill="#efadad" stroke="#bababa" stroke-width="0.75" />
<rect x="255.93" y="344.71" width="18.67" height="16.53" fill="#a2a2d0" stroke="#bababa" stroke-width="0.75" />
<rect x="274.60" y="344.71" width="18.67" height="16.53" fill="#6666b3" stroke="#bababa" stroke-width="0.75" />
<rect x="293.27" y="344.71" width="18.67" height="16.53" fill="#eeeef7" stroke="#bababa" stroke-width="0.75" />
<rect x="311.94" y="344.71" width="18.67" height="16.53" fill="#9999cc" stroke="#bababa" stroke-width="0.75" />
<rect x="330.61" y="344.71" width="18.67" height="16.53" fill="#e57979" stroke="#bababa" stroke-width="0.75" />
<rect x="349.28" y="344.71" width="18.67" height="16.53" fill="#fef8f8" stroke="#bababa" stroke-width="0.75" />
<rect x="367.95" y="344.71" width="18.67" height="16.53" fill="#bbbbdd" stroke="#bababa" stroke-width="0.75" />
<rect x="87.90" y="361.24" width="18.67" height="16.53" fill="#e6e6f2" stroke="#bababa" stroke-width="0.75" />
<rect x="106.57" y="361.24" width="18.67" height="16.53" fill="#d9d9ec" stroke="#bababa" stroke-width="0.75" />
<rect x="125.24" y="361.24" width="18.67" height="16.53" fill="#f7d6d6" stroke="#bababa" stroke-width="0.75" />
<rect x="143.91" y="361.24" width="18.67" height="16.53" fill="#cccce6" stroke="#bababa" stroke-width="0.75" />
<rect x="162.58" y="361.24" width="18.67" height="16.53" fill="#f9dede" stroke="#bababa" stroke-width="0.75" />
<rect x="181.25" y="361.24" width="18.67" height="16.53" fill="#b7b7db" stroke="#bababa" stroke-width="0.75" />
<rect x="199.92" y="361.24" width="18.67" height="16.53" fill="#eeeef7" stroke="#bababa" stroke-width="0.75" />
<rect x="218.59" y="361.24" width="18.67" height="16.53" fill="#b7b7db" stroke="#bababa" stroke-width="0.75" />
<rect x="237.26" y="361.24" width="18.67" height="16.53" fill="#f6d2d2" stroke="#bababa" stroke-width="0.75" />
<rect x="255.93" y="361.24" width="18.67" height="16.53" fill="#de5454" stroke="#bababa" stroke-width="0.75" />
<rect x="274.60" y="361.24" width="18.67" height="16.53" fill="#eea6a6" stroke="#bababa" stroke-width="0.75" />
<rect x="293.27" y="361.24" width="18.67" height="16.53" fill="#cccce6" stroke="#bababa" stroke-width="0.75" />
<rect x="311.94" y="361.24" width="18.67" height="16.53" fill="#7777bb" stroke="#bababa" stroke-width="0.75" />
<rect x="330.61" y="361.24" width="18.67" height="16.53" fill="#f8dada" stroke="#bababa" stroke-width="0.75" />
<rect x="349.28" y="361.24" width="18.67" height="16.53" fill="#fbecec" stroke="#bababa" stroke-width="0.75" />
<rect x="367.95" y="361.24" width="18.67" height="16.53" fill="#aaaad5" stroke="#bababa" stroke-width="0.75" />
<rect x="87.90" y="377.77" width="18.67" height="16.53" fill="#d9d9ec" stroke="#bababa" stroke-width="0.75" />
<rect x="106.57" y="377.77" width="18.67" height="16.53" fill="#e6e6f2" stroke="#bababa" stroke-width="0.75" />
<rect x="125.24" y="377.77" width="18.67" height="16.53" fill="#f2bcbc" stroke="#bababa" stroke-width="0.75" />
<rect x="143.91" y="377.77" width="18.67" height="16.53" fill="#cccce6" stroke="#bababa" stroke-width="0.75" />
<rect x="162.58" y="377.77" width="18.67" height="16.53" fill="#f6d2d2" stroke="#bababa" stroke-width="0.75" />
<rect x="181.25" y="377.77" width="18.67" height="16.53" fill="#b7b7db" stroke="#bababa" stroke-width="0.75" />
<rect x="199.92" y="377.77" width="18.67" height="16.53" fill="#eeeef7" stroke="#bababa" stroke-width="0.75" />
<rect x="218.59" y="377.77" width="18.67" height="16.53" fill="#aaaad5" stroke="#bababa" stroke-width="0.75" />
<rect x="237.26" y="377.77" width="18.67" height="16.53" fill="#e78181" stroke="#bababa" stroke-width="0.75" />
<rect x="255.93" y="377.77" width="18.67" height="16.53" fill="#efadad" stroke="#bababa" stroke-width="0.75" />
<rect x="274.60" y="377.77" width="18.67" height="16.53" fill="#fefbfb" stroke="#bababa" stroke-width="0.75" />
<rect x="293.27" y="377.77" width="18.67" height="16.53" fill="#222291" stroke="#bababa" stroke-width="0.75" />
<rect x="311.94" y="377.77" width="18.67" height="16.53" fill="#e1e1f0" stroke="#bababa" stroke-width="0.75" />
<rect x="330.61" y="377.77" width="18.67" height="16.53" fill="#fae5e5" stroke="#bababa" stroke-width="0.75" />
<rect x="349.28" y="377.77" width="18.67" height="16.53" fill="#f6d2d2" stroke="#bababa" stroke-width="0.75" />
<rect x="367.95" y="377.77" width="18.67" height="16.53" fill="#ffffff" stroke="#bababa" stroke-width="0.75" />
<rect x="87.90" y="394.30" width="18.67" height="16.53" fill="#f9dede" stroke="#bababa" stroke-width="0.75" />
<rect x="106.57" y="394.30" width="18.67" height="16.53" fill="#f2f2f9" stroke="#bababa" stroke-width="0.75" />
<rect x="125.24" y="394.30" width="18.67" height="16.53" fill="#efadad" stroke="#bababa" stroke-width="0.75" />
<rect x="143.91" y="394.30" width="18.67" height="16.53" fill="#ffffff" stroke="#bababa" stroke-width="0.75" />
<rect x="162.58" y="394.30" width="18.67" height="16.53" fill="#ffffff" stroke="#bababa" stroke-width="0.75" />
<rect x="181.25" y="394.30" width="18.67" height="16.53" fill="#e1e1f0" stroke="#bababa" stroke-width="0.75" />
<rect x="199.92" y="394.30" width="18.67" height="16.53" fill="#fbe9e9" stroke="#bababa" stroke-width="0.75" />
<rect x="218.59" y="394.30" width="18.67" height="16.53" fill="#ddddee" stroke="#bababa" stroke-width="0.75" />
<rect x="237.26" y="394.30" width="18.67" height="16.53" fill="#f5cbcb" stroke="#bababa" stroke-width="0.75" />
<rect x="255.93" y="394.30" width="18.67" height="16.53" fill="#e78181" stroke="#bababa" stroke-width="0.75" />
<rect x="274.60" y="394.30" width="18.67" height="16.53" fill="#d9d9ec" stroke="#bababa" stroke-width="0.75" />
<rect x="293.27" y="394.30" width="18.67" height="16.53" fill="#b7b7db" stroke="#bababa" stroke-width="0.75" />
<rect x="311.94" y="394.30" width="18.67" height="16.53" fill="#4c4ca6" stroke="#bababa" stroke-width="0.75" />
<rect x="330.61" y="394.30" width="18.67" height="16.53" fill="#fae5e5" stroke="#bababa" stroke-width="0.75" />
<rect x="349.28" y="394.30" width="18.67" height="16.53" fill="#f2bcbc" stroke="#bababa" stroke-width="0.75" />
<rect x="367.95" y="394.30" width="18.67" height="16.53" fill="#8080c0" stroke="#bababa" stroke-width="0.75" />
<rect x="87.90" y="410.83" width="18.67" height="16.53" fill="#cccce6" stroke="#bababa" stroke-width="0.75" />
<rect x="106.57" y="410.83" width="18.67" height="16.53" fill="#d4d4ea" stroke="#bababa" stroke-width="0.75" />
<rect x="125.24" y="410.83" width="18.67" height="16.53" fill="#e88888" stroke="#bababa" stroke-width="0.75" />
<rect x="143.91" y="410.83" width="18.67" height="16.53" fill="#b2b2d9" stroke="#bababa" stroke-width="0.75" />
<rect x="162.58" y="410.83" width="18.67" height="16.53" fill="#f3c0c0" stroke="#bababa" stroke-width="0.75" />
<rect x="181.25" y="410.83" width="18.67" height="16.53" fill="#d0d0e8" stroke="#bababa" stroke-width="0.75" />
<rect x="199.92" y="410.83" width="18.67" height="16.53" fill="#fefbfb" stroke="#bababa" stroke-width="0.75" />
<rect x="218.59" y="410.83" width="18.67" height="16.53" fill="#9090c8" stroke="#bababa" stroke-width="0.75" />
<rect x="237.26" y="410.83" width="18.67" height="16.53" fill="#ec9e9e" stroke="#bababa" stroke-width="0.75" />
<rect x="255.93" y="410.83" width="18.67" height="16.53" fill="#fcf0f0" stroke="#bababa" stroke-width="0.75" />
<rect x="274.60" y="410.83" width="18.67" height="16.53" fill="#9090c8" stroke="#bababa" stroke-width="0.75" />
<rect x="293.27" y="410.83" width="18.67" height="16.53" fill="#a2a2d0" stroke="#bababa" stroke-width="0.75" />
<rect x="311.94" y="410.83" width="18.67" height="16.53" fill="#f1b5b5" stroke="#bababa" stroke-width="0.75" />
<rect x="330.61" y="410.83" width="18.67" height="16.53" fill="#f4c4c4" stroke="#bababa" stroke-width="0.75" />
<rect x="349.28" y="410.83" width="18.67" height="16.53" fill="#f3c0c0" stroke="#bababa" stroke-width="0.75" />
<rect x="367.95" y="410.83" width="18.67" height="16.53" fill="#b7b7db" stroke="#bababa" stroke-width="0.75" />
<rect x="87.90" y="427.36" width="18.67" height="16.53" fill="#d0d0e8" stroke="#bababa" stroke-width="0.75" />
<rect x="106.57" y="427.36" width="18.67" height="16.53" fill="#c8c8e3" stroke="#bababa" stroke-width="0.75" />
<rect x="125.24" y="427.36" width="18.67" height="16.53" fill="#ec9e9e" stroke="#bababa" stroke-width="0.75" />
<rect x="143.91" y="427.36" width="18.67" height="16.53" fill="#b7b7db" stroke="#bababa" stroke-width="0.75" />
<rect x="162.58" y="427.36" width="18.67" height="16.53" fill="#f2bcbc" stroke="#bababa" stroke-width="0.75" />
<rect x="181.25" y="427.36" width="18.67" height="16.53" fill="#cccce6" stroke="#bababa" stroke-width="0.75" />
<rect x="199.92" y="427.36" width="18.67" height="16.53" fill="#fcf0f0" stroke="#bababa" stroke-width="0.75" />
<rect x="218.59" y="427.36" width="18.67" height="16.53" fill="#9999cc" stroke="#bababa" stroke-width="0.75" />
<rect x="237.26" y="427.36" width="18.67" height="16.53" fill="#fefbfb" stroke="#bababa" stroke-width="0.75" />
<rect x="255.93" y="427.36" width="18.67" height="16.53" fill="#f6f6fb" stroke="#bababa" stroke-width="0.75" />
<rect x="274.60" y="427.36" width="18.67" height="16.53" fill="#e88888" stroke="#bababa" stroke-width="0.75" />
<rect x="293.27" y="427.36" width="18.67" height="16.53" fill="#b2b2d9" stroke="#bababa" stroke-width="0.75" />
<rect x="311.94" y="427.36" width="18.67" height="16.53" fill="#9999cc" stroke="#bababa" stroke-width="0.75" />
<rect x="330.61" y="427.36" width="18.67" height="16.53" fill="#ffffff" stroke="#bababa" stroke-width="0.75" />
<rect x="349.28" y="427.36" width="18.67" height="16.53" fill="#e78181" stroke="#bababa" stroke-width="0.75" />
<rect x="367.95" y="427.36" width="18.67" height="16.53" fill="#cccce6" stroke="#bababa" stroke-width="0.75" />
<rect x="87.90" y="443.89" width="18.67" height="16.53" fill="#f6f6fb" stroke="#bababa" stroke-width="0.75" />
<rect x="106.57" y="443.89" width="18.67" height="16.53" fill="#f2f2f9" stroke="#bababa" stroke-width="0.75" />
<rect x="125.24" y="443.89" width="18.67" height="16.53" fill="#f2bcbc" stroke="#bababa" stroke-width="0.75" />
<rect x="143.91" y="443.89" width="18.67" height="16.53" fill="#b2b2d9" stroke="#bababa" stroke-width="0.75" />
<rect x="162.58" y="443.89" width="18.67" height="16.53" fill="#e1e1f0" stroke="#bababa" stroke-width="0.75" />
<rect x="181.25" y="443.89" width="18.67" height="16.53" fill="#f7d6d6" stroke="#bababa" stroke-width="0.75" />
<rect x="199.92" y="443.89" width="18.67" height="16.53" fill="#f9dede" stroke="#bababa" stroke-width="0.75" />
<rect x="218.59" y="443.89" width="18.67" height="16.53" fill="#9090c8" stroke="#bababa" stroke-width="0.75" />
<rect x="237.26" y="443.89" width="18.67" height="16.53" fill="#fefbfb" stroke="#bababa" stroke-width="0.75" />
<rect x="255.93" y="443.89" width="18.67" height="16.53" fill="#fbe9e9" stroke="#bababa" stroke-width="0.75" />
<rect x="274.60" y="443.89" width="18.67" height="16.53" fill="#eb9797" stroke="#bababa" stroke-width="0.75" />
<rect x="293.27" y="443.89" width="18.67" height="16.53" fill="#f1b5b5" stroke="#bababa" stroke-width="0.75" />
<rect x="311.94" y="443.89" width="18.67" height="16.53" fill="#efadad" stroke="#bababa" stroke-width="0.75" />
<rect x="330.61" y="443.89" width="18.67" height="16.53" fill="#4c4ca6" stroke="#bababa" stroke-width="0.75" />
<rect x="349.28" y="443.89" width="18.67" height="16.53" fill="#fef8f8" stroke="#bababa" stroke-width="0.75" />
<rect x="367.95" y="443.89" width="18.67" height="16.53" fill="#8888c4" stroke="#bababa" stroke-width="0.75" />
<rect x="87.90" y="460.42" width="18.67" height="16.53" fill="#f9dede" stroke="#bababa" stroke-width="0.75" />
<rect x="106.57" y="460.42" width="18.67" height="16.53" fill="#c8c8e3" stroke="#bababa" stroke-width="0.75" />
<rect x="125.24" y="460.42" width="18.67" height="16.53" fill="#f4c7c7" stroke="#bababa" stroke-width="0.75" />
<rect x="143.91" y="460.42" width="18.67" height="16.53" fill="#c4c4e1" stroke="#bababa" stroke-width="0.75" />
<rect x="162.58" y="460.42" width="18.67" height="16.53" fill="#fae5e5" stroke="#bababa" stroke-width="0.75" />
<rect x="181.25" y="460.42" width="18.67" height="16.53" fill="#eaeaf4" stroke="#bababa" stroke-width="0.75" />
<rect x="199.92" y="460.42" width="18.67" height="16.53" fill="#efadad" stroke="#bababa" stroke-width="0.75" />
<rect x="218.59" y="460.42" width="18.67" height="16.53" fill="#9090c8" stroke="#bababa" stroke-width="0.75" />
<rect x="237.26" y="460.42" width="18.67" height="16.53" fill="#eaeaf4" stroke="#bababa" stroke-width="0.75" />
<rect x="255.93" y="460.42" width="18.67" height="16.53" fill="#f6d2d2" stroke="#bababa" stroke-width="0.75" />
<rect x="274.60" y="460.42" width="18.67" height="16.53" fill="#fcf0f0" stroke="#bababa" stroke-width="0.75" />
<rect x="293.27" y="460.42" width="18.67" height="16.53" fill="#4c4ca6" stroke="#bababa" stroke-width="0.75" />
<rect x="311.94" y="460.42" width="18.67" height="16.53" fill="#b7b7db" stroke="#bababa" stroke-width="0.75" />
<rect x="330.61" y="460.42" width="18.67" height="16.53" fill="#eaeaf4" stroke="#bababa" stroke-width="0.75" />
<rect x="349.28" y="460.42" width="18.67" height="16.53" fill="#e47272" stroke="#bababa" stroke-width="0.75" />
<rect x="367.95" y="460.42" width="18.67" height="16.53" fill="#fbecec" stroke="#bababa" stroke-width="0.75" />
<rect x="87.90" y="476.95" width="18.67" height="16.53" fill="#efadad" stroke="#bababa" stroke-width="0.75" />
<rect x="106.57" y="476.95" width="18.67" height="16.53" fill="#fdf4f4" stroke="#bababa" stroke-width="0.75" />
<rect x="125.24" y="476.95" width="18.67" height="16.53" fill="#fbecec" stroke="#bababa" stroke-width="0.75" />
<rect x="143.91" y="476.95" width="18.67" height="16.53" fill="#8080c0" stroke="#bababa" stroke-width="0.75" />
<rect x="162.58" y="476.95" width="18.67" height="16.53" fill="#fbe9e9" stroke="#bababa" stroke-width="0.75" />
<rect x="181.25" y="476.95" width="18.67" height="16.53" fill="#d4d4ea" stroke="#bababa" stroke-width="0.75" />
<rect x="199.92" y="476.95" width="18.67" height="16.53" fill="#d0d0e8" stroke="#bababa" stroke-width="0.75" />
<rect x="218.59" y="476.95" width="18.67" height="16.53" fill="#f6d2d2" stroke="#bababa" stroke-width="0.75" />
<rect x="237.26" y="476.95" width="18.67" height="16.53" fill="#b7b7db" stroke="#bababa" stroke-width="0.75" />
<rect x="255.93" y="476.95" width="18.67" height="16.53" fill="#e1e1f0" stroke="#bababa" stroke-width="0.75" />
<rect x="274.60" y="476.95" width="18.67" height="16.53" fill="#e6e6f2" stroke="#bababa" stroke-width="0.75" />
<rect x="293.27" y="476.95" width="18.67" height="16.53" fill="#d9d9ec" stroke="#bababa" stroke-width="0.75" />
<rect x="311.94" y="476.95" width="18.67" height="16.53" fill="#f4c4c4" stroke="#bababa" stroke-width="0.75" />
<rect x="330.61" y="476.95" width="18.67" height="16.53" fill="#e6e6f2" stroke="#bababa" stroke-width="0.75" />
<rect x="349.28" y="476.95" width="18.67" height="16.53" fill="#e16363" stroke="#bababa" stroke-width="0.75" />
<rect x="367.95" y="476.95" width="18.67" height="16.53" fill="#8080c0" stroke="#bababa" stroke-width="0.75" />
</g>
<defs><linearGradient id="cb" x1="0" y1="0" x2="0" y2="1"><stop offset="0" stop-color="#cd2626"/><stop offset="0.48" stop-color="#ffffff"/><stop offset="1" stop-color="#000080"/></linearGradient></defs>
<rect x="400.30" y="64.70" width="12.60" height="91.20" fill="url(#cb)" stroke="none" stroke-width="1" />
<text x="426.70" y="78.50" font-size="10" text-anchor="middle" fill="#444" stroke="#444" stroke-width="0.35" >3</text>
<text x="426.70" y="110.50" font-size="10" text-anchor="middle" fill="#444" stroke="#444" stroke-width="0.35" >0</text>
<text x="425.00" y="148.00" font-size="10" text-anchor="middle" fill="#444" stroke="#444" stroke-width="0.35" >-3</text>
<text x="461.00" y="34.00" font-size="32.5" text-anchor="start" fill="#000" font-weight="bold" >B</text>
<line x1="551.00" y1="31.00" x2="551.00" y2="212.40" stroke="#444" stroke-width="1.8" />
<line x1="550.00" y1="212.40" x2="731.00" y2="212.40" stroke="#444" stroke-width="1.8" />
<line x1="547.00" y1="32.10" x2="551.00" y2="32.10" stroke="#444" stroke-width="1.5" />
<text x="545.50" y="35.40" font-size="14.5" text-anchor="end" fill="#1f1f1f" stroke="#1f1f1f" stroke-width="0.35" textLength="25.3" lengthAdjust="spacingAndGlyphs" >−10</text>
<line x1="547.00" y1="92.17" x2="551.00" y2="92.17" stroke="#444" stroke-width="1.5" />
<text x="545.50" y="95.47" font-size="14.5" text-anchor="end" fill="#1f1f1f" stroke="#1f1f1f" stroke-width="0.35" textLength="25.3" lengthAdjust="spacingAndGlyphs" >−15</text>
<line x1="547.00" y1="152.23" x2="551.00" y2="152.23" stroke="#444" stroke-width="1.5" />
<text x="545.50" y="155.53" font-size="14.5" text-anchor="end" fill="#1f1f1f" stroke="#1f1f1f" stroke-width="0.35" textLength="25.3" lengthAdjust="spacingAndGlyphs" >−20</text>
<line x1="547.00" y1="212.30" x2="551.00" y2="212.30" stroke="#444" stroke-width="1.5" />
<text x="545.50" y="215.60" font-size="14.5" text-anchor="end" fill="#1f1f1f" stroke="#1f1f1f" stroke-width="0.35" textLength="25.3" lengthAdjust="spacingAndGlyphs" >−25</text>
<line x1="595.50" y1="212.40" x2="595.50" y2="216.50" stroke="#444" stroke-width="1.5" />
<text x="595.50" y="231.80" font-size="16" text-anchor="middle" fill="#1f1f1f" stroke="#1f1f1f" stroke-width="0.35" >N</text>
<line x1="685.00" y1="212.40" x2="685.00" y2="216.50" stroke="#444" stroke-width="1.5" />
<text x="685.00" y="231.80" font-size="16" text-anchor="middle" fill="#1f1f1f" stroke="#1f1f1f" stroke-width="0.35" >T</text>
<polyline points="596.7,54.2 596.7,46.1 683.9,46.1 683.9,54.2" fill="none" stroke="#666" stroke-width="1.4"/>
<circle cx="639.6" cy="39.6" r="1.7" fill="#333"/><circle cx="645.6" cy="39.6" r="1.7" fill="#333"/>
<text x="718.30" y="50.60" font-size="15" text-anchor="start" fill="#1f1f1f" stroke="#1f1f1f" stroke-width="0.35" textLength="41.3" lengthAdjust="spacingAndGlyphs" ><tspan font-style="italic">n</tspan> = 48</text>
<text transform="translate(505.50,124.50) rotate(-90)" x="0" y="0" font-size="16" text-anchor="middle" fill="#1f1f1f" stroke="#1f1f1f" stroke-width="0.35" textLength="190" lengthAdjust="spacingAndGlyphs" >Relative GYS2 mRNA (−Δ<tspan font-style="italic">C</tspan><tspan font-size="10" dy="3">t</tspan><tspan dy="-3">)</tspan></text>
<g fill="#a3a3a3">
<circle cx="590.96" cy="70.52" r="2.75"/>
<circle cx="599.45" cy="77.16" r="2.75"/>
<circle cx="582.66" cy="97.45" r="2.75"/>
<circle cx="608.30" cy="95.98" r="2.75"/>
<circle cx="590.96" cy="102.07" r="2.75"/>
<circle cx="599.45" cy="102.07" r="2.75"/>
<circle cx="582.66" cy="108.34" r="2.75"/>
<circle cx="590.96" cy="110.74" r="2.75"/>
<circle cx="599.82" cy="113.14" r="2.75"/>
<circle cx="608.30" cy="110.18" r="2.75"/>
<circle cx="561.07" cy="114.61" r="2.75"/>
<circle cx="567.34" cy="118.67" r="2.75"/>
<circle cx="573.62" cy="119.41" r="2.75"/>
<circle cx="579.89" cy="119.96" r="2.75"/>
<circle cx="586.16" cy="120.52" r="2.75"/>
<circle cx="592.44" cy="121.25" r="2.75"/>
<circle cx="598.71" cy="120.52" r="2.75"/>
<circle cx="604.98" cy="120.52" r="2.75"/>
<circle cx="611.25" cy="119.41" r="2.75"/>
<circle cx="617.53" cy="118.67" r="2.75"/>
<circle cx="623.80" cy="117.20" r="2.75"/>
<circle cx="630.07" cy="114.61" r="2.75"/>
<circle cx="562.92" cy="124.94" r="2.75"/>
<circle cx="569.19" cy="126.05" r="2.75"/>
<circle cx="575.46" cy="126.79" r="2.75"/>
<circle cx="581.73" cy="128.27" r="2.75"/>
<circle cx="588.01" cy="129.19" r="2.75"/>
<circle cx="594.28" cy="129.74" r="2.75"/>
<circle cx="600.55" cy="129.19" r="2.75"/>
<circle cx="606.83" cy="128.63" r="2.75"/>
<circle cx="613.10" cy="127.34" r="2.75"/>
<circle cx="619.37" cy="126.05" r="2.75"/>
<circle cx="625.65" cy="124.58" r="2.75"/>
<circle cx="578.60" cy="133.80" r="2.75"/>
<circle cx="616.79" cy="133.80" r="2.75"/>
<circle cx="586.90" cy="138.97" r="2.75"/>
<circle cx="608.30" cy="140.81" r="2.75"/>
<circle cx="595.39" cy="141.18" r="2.75"/>
<circle cx="603.87" cy="145.79" r="2.75"/>
<circle cx="582.66" cy="150.04" r="2.75"/>
<circle cx="586.90" cy="153.73" r="2.75"/>
<circle cx="595.39" cy="150.77" r="2.75"/>
<circle cx="603.87" cy="154.46" r="2.75"/>
<circle cx="595.39" cy="160.55" r="2.75"/>
<rect x="682.27" y="96.51" width="5.2" height="5.2"/>
<rect x="656.99" y="102.97" width="5.2" height="5.2"/>
<rect x="665.11" y="105.37" width="5.2" height="5.2"/>
<rect x="708.10" y="103.53" width="5.2" height="5.2"/>
<rect x="673.78" y="108.69" width="5.2" height="5.2"/>
<rect x="682.27" y="110.91" width="5.2" height="5.2"/>
<rect x="690.94" y="109.43" width="5.2" height="5.2"/>
<rect x="699.43" y="106.85" width="5.2" height="5.2"/>
<rect x="660.68" y="112.38" width="5.2" height="5.2"/>
<rect x="703.86" y="113.30" width="5.2" height="5.2"/>
<rect x="669.54" y="117.92" width="5.2" height="5.2"/>
<rect x="678.03" y="117.92" width="5.2" height="5.2"/>
<rect x="686.70" y="120.50" width="5.2" height="5.2"/>
<rect x="695.37" y="117.36" width="5.2" height="5.2"/>
<rect x="665.11" y="123.45" width="5.2" height="5.2"/>
<rect x="673.78" y="124.74" width="5.2" height="5.2"/>
<rect x="699.43" y="123.45" width="5.2" height="5.2"/>
<rect x="682.27" y="130.28" width="5.2" height="5.2"/>
<rect x="690.94" y="128.43" width="5.2" height="5.2"/>
<rect x="652.57" y="137.10" width="5.2" height="5.2"/>
<rect x="660.68" y="138.58" width="5.2" height="5.2"/>
<rect x="712.34" y="138.58" width="5.2" height="5.2"/>
<rect x="648.51" y="145.59" width="5.2" height="5.2"/>
<rect x="656.26" y="145.96" width="5.2" height="5.2"/>
<rect x="664.01" y="147.25" width="5.2" height="5.2"/>
<rect x="671.02" y="143.75" width="5.2" height="5.2"/>
<rect x="678.40" y="143.75" width="5.2" height="5.2"/>
<rect x="686.70" y="143.75" width="5.2" height="5.2"/>
<rect x="693.53" y="147.81" width="5.2" height="5.2"/>
<rect x="700.91" y="146.88" width="5.2" height="5.2"/>
<rect x="708.29" y="145.96" width="5.2" height="5.2"/>
<rect x="716.03" y="145.41" width="5.2" height="5.2"/>
<rect x="671.02" y="150.57" width="5.2" height="5.2"/>
<rect x="678.77" y="152.97" width="5.2" height="5.2"/>
<rect x="686.15" y="152.97" width="5.2" height="5.2"/>
<rect x="669.54" y="164.04" width="5.2" height="5.2"/>
<rect x="682.27" y="165.33" width="5.2" height="5.2"/>
<rect x="690.94" y="164.04" width="5.2" height="5.2"/>
<rect x="673.78" y="171.42" width="5.2" height="5.2"/>
<rect x="682.27" y="175.48" width="5.2" height="5.2"/>
<rect x="690.94" y="173.27" width="5.2" height="5.2"/>
<rect x="678.03" y="182.86" width="5.2" height="5.2"/>
<rect x="686.70" y="186.18" width="5.2" height="5.2"/>
<rect x="673.78" y="189.32" width="5.2" height="5.2"/>
<rect x="690.94" y="193.38" width="5.2" height="5.2"/>
<rect x="682.27" y="196.70" width="5.2" height="5.2"/>
</g>
<line x1="558.86" y1="123.84" x2="632.47" y2="123.84" stroke="#28348f" stroke-width="1.9" />
<line x1="577.31" y1="105.76" x2="614.02" y2="105.76" stroke="#28348f" stroke-width="1.9" />
<line x1="577.31" y1="141.18" x2="614.02" y2="141.18" stroke="#28348f" stroke-width="1.9" />
<line x1="595.39" y1="105.76" x2="595.39" y2="141.18" stroke="#28348f" stroke-width="1.9" />
<line x1="647.79" y1="143.39" x2="721.96" y2="143.39" stroke="#ee2a24" stroke-width="1.9" />
<line x1="666.61" y1="116.83" x2="703.14" y2="116.83" stroke="#ee2a24" stroke-width="1.9" />
<line x1="666.61" y1="169.78" x2="703.14" y2="169.78" stroke="#ee2a24" stroke-width="1.9" />
<line x1="684.87" y1="116.83" x2="684.87" y2="169.78" stroke="#ee2a24" stroke-width="1.9" />
<text x="436.00" y="273.00" font-size="32.5" text-anchor="start" fill="#000" font-weight="bold" >C</text>
<rect x="521.70" y="280.00" width="176.60" height="176.50" fill="none" stroke="#222" stroke-width="1.6" />
<line x1="518.20" y1="456.50" x2="521.70" y2="456.50" stroke="#222" stroke-width="1.3" />
<text x="514.00" y="461.70" font-size="14.5" text-anchor="end" fill="#333" stroke="#333" stroke-width="0.35" textLength="7.5" lengthAdjust="spacingAndGlyphs" >0</text>
<line x1="518.20" y1="397.67" x2="521.70" y2="397.67" stroke="#222" stroke-width="1.3" />
<text x="514.00" y="402.87" font-size="14.5" text-anchor="end" fill="#333" stroke="#333" stroke-width="0.35" textLength="19" lengthAdjust="spacingAndGlyphs" >0.5</text>
<line x1="518.20" y1="338.83" x2="521.70" y2="338.83" stroke="#222" stroke-width="1.3" />
<text x="514.00" y="344.03" font-size="14.5" text-anchor="end" fill="#333" stroke="#333" stroke-width="0.35" textLength="19" lengthAdjust="spacingAndGlyphs" >1.0</text>
<line x1="518.20" y1="280.00" x2="521.70" y2="280.00" stroke="#222" stroke-width="1.3" />
<text x="514.00" y="285.20" font-size="14.5" text-anchor="end" fill="#333" stroke="#333" stroke-width="0.35" textLength="19" lengthAdjust="spacingAndGlyphs" >1.5</text>
<line x1="521.70" y1="456.50" x2="521.70" y2="460.00" stroke="#222" stroke-width="1.3" />
<text x="521.70" y="475.80" font-size="14.5" text-anchor="middle" fill="#333" stroke="#333" stroke-width="0.35" textLength="7.5" lengthAdjust="spacingAndGlyphs" >0</text>
<line x1="580.57" y1="456.50" x2="580.57" y2="460.00" stroke="#222" stroke-width="1.3" />
<text x="580.57" y="475.80" font-size="14.5" text-anchor="middle" fill="#333" stroke="#333" stroke-width="0.35" textLength="19" lengthAdjust="spacingAndGlyphs" >1.0</text>
<line x1="639.43" y1="456.50" x2="639.43" y2="460.00" stroke="#222" stroke-width="1.3" />
<text x="639.43" y="475.80" font-size="14.5" text-anchor="middle" fill="#333" stroke="#333" stroke-width="0.35" textLength="19" lengthAdjust="spacingAndGlyphs" >2.0</text>
<line x1="698.30" y1="456.50" x2="698.30" y2="460.00" stroke="#222" stroke-width="1.3" />
<text x="698.30" y="475.80" font-size="14.5" text-anchor="middle" fill="#333" stroke="#333" stroke-width="0.35" textLength="19" lengthAdjust="spacingAndGlyphs" >3.0</text>
<text x="611.00" y="499.50" font-size="15.5" text-anchor="middle" fill="#1f1f1f" stroke="#1f1f1f" stroke-width="0.35" textLength="94" lengthAdjust="spacingAndGlyphs" >GYS2/β-Actin</text>
<text transform="translate(475.00,374.00) rotate(-90)" x="0" y="0" font-size="15" text-anchor="middle" fill="#1f1f1f" stroke="#1f1f1f" stroke-width="0.35" textLength="216" lengthAdjust="spacingAndGlyphs" >Glycogen content (μg/10 mg)</text>
<text x="533.40" y="300.50" font-size="15" text-anchor="start" fill="#1f1f1f" stroke="#1f1f1f" stroke-width="0.35" textLength="54" lengthAdjust="spacingAndGlyphs" ><tspan font-style="italic">P</tspan>=0.01</text>
<text x="533.40" y="322.00" font-size="15" text-anchor="start" fill="#1f1f1f" stroke="#1f1f1f" stroke-width="0.35" textLength="52" lengthAdjust="spacingAndGlyphs" ><tspan font-style="italic">r</tspan>=0.68</text>
<text x="645.00" y="300.50" font-size="15" text-anchor="start" fill="#1f1f1f" stroke="#1f1f1f" stroke-width="0.35" textLength="46" lengthAdjust="spacingAndGlyphs" ><tspan font-style="italic">n</tspan> = 12</text>
<circle cx="553.79" cy="432.64" r="2.9" fill="#111"/>
<circle cx="561.99" cy="389.83" r="2.9" fill="#111"/>
<circle cx="561.99" cy="414.45" r="2.9" fill="#111"/>
<circle cx="581.61" cy="389.83" r="2.9" fill="#111"/>
<circle cx="594.81" cy="378.41" r="2.9" fill="#111"/>
<circle cx="601.95" cy="364.50" r="2.9" fill="#111"/>
<circle cx="604.80" cy="380.55" r="2.9" fill="#111"/>
<circle cx="601.95" cy="427.29" r="2.9" fill="#111"/>
<circle cx="625.85" cy="360.93" r="2.9" fill="#111"/>
<circle cx="654.39" cy="334.53" r="2.9" fill="#111"/>
<circle cx="653.68" cy="359.50" r="2.9" fill="#111"/>
<circle cx="651.18" cy="393.40" r="2.9" fill="#111"/>
<line x1="553.79" y1="413.02" x2="654.39" y2="358.43" stroke="#111" stroke-width="1.6" />
<text x="806.00" y="33.30" font-size="32.5" text-anchor="start" fill="#000" font-weight="bold" >D</text>
<rect x="871.40" y="52.30" width="308.00" height="29.50" fill="#f6f6f6" stroke="#3a3a3a" stroke-width="1.6" />
<rect x="871.40" y="87.00" width="308.00" height="28.80" fill="#f6f6f6" stroke="#3a3a3a" stroke-width="1.6" />
<rect x="871.60" y="148.30" width="305.30" height="29.10" fill="#f6f6f6" stroke="#3a3a3a" stroke-width="1.6" />
<rect x="871.60" y="182.40" width="305.30" height="29.10" fill="#f6f6f6" stroke="#3a3a3a" stroke-width="1.6" />
<text x="890.00" y="45.50" font-size="15" text-anchor="middle" fill="#222" stroke="#222" stroke-width="0.35" >N<tspan font-size="11">1</tspan></text>
<text x="914.00" y="45.50" font-size="15" text-anchor="middle" fill="#222" stroke="#222" stroke-width="0.35" >T<tspan font-size="11">1</tspan></text>
<text x="942.00" y="45.50" font-size="15" text-anchor="middle" fill="#222" stroke="#222" stroke-width="0.35" >N<tspan font-size="11">2</tspan></text>
<text x="965.00" y="45.50" font-size="15" text-anchor="middle" fill="#222" stroke="#222" stroke-width="0.35" >T<tspan font-size="11">2</tspan></text>
<text x="990.00" y="45.50" font-size="15" text-anchor="middle" fill="#222" stroke="#222" stroke-width="0.35" >N<tspan font-size="11">3</tspan></text>
<text x="1016.00" y="45.50" font-size="15" text-anchor="middle" fill="#222" stroke="#222" stroke-width="0.35" >T<tspan font-size="11">3</tspan></text>
<text x="1039.00" y="45.50" font-size="15" text-anchor="middle" fill="#222" stroke="#222" stroke-width="0.35" >N<tspan font-size="11">4</tspan></text>
<text x="1062.00" y="45.50" font-size="15" text-anchor="middle" fill="#222" stroke="#222" stroke-width="0.35" >T<tspan font-size="11">4</tspan></text>
<text x="1088.00" y="45.50" font-size="15" text-anchor="middle" fill="#222" stroke="#222" stroke-width="0.35" >N<tspan font-size="11">5</tspan></text>
<text x="1113.00" y="45.50" font-size="15" text-anchor="middle" fill="#222" stroke="#222" stroke-width="0.35" >T<tspan font-size="11">5</tspan></text>
<text x="1137.00" y="45.50" font-size="15" text-anchor="middle" fill="#222" stroke="#222" stroke-width="0.35" >N<tspan font-size="11">6</tspan></text>
<text x="1161.00" y="45.50" font-size="15" text-anchor="middle" fill="#222" stroke="#222" stroke-width="0.35" >T<tspan font-size="11">6</tspan></text>
<text x="885.70" y="140.50" font-size="15" text-anchor="middle" fill="#222" stroke="#222" stroke-width="0.35" >N<tspan font-size="11">7</tspan></text>
<text x="908.60" y="140.50" font-size="15" text-anchor="middle" fill="#222" stroke="#222" stroke-width="0.35" >T<tspan font-size="11">7</tspan></text>
<text x="932.70" y="140.50" font-size="15" text-anchor="middle" fill="#222" stroke="#222" stroke-width="0.35" >N<tspan font-size="11">8</tspan></text>
<text x="954.70" y="140.50" font-size="15" text-anchor="middle" fill="#222" stroke="#222" stroke-width="0.35" >T<tspan font-size="11">8</tspan></text>
<text x="983.00" y="140.50" font-size="15" text-anchor="middle" fill="#222" stroke="#222" stroke-width="0.35" >N<tspan font-size="11">9</tspan></text>
<text x="1006.00" y="140.50" font-size="15" text-anchor="middle" fill="#222" stroke="#222" stroke-width="0.35" >T<tspan font-size="11">9</tspan></text>
<text x="1033.00" y="140.50" font-size="15" text-anchor="middle" fill="#222" stroke="#222" stroke-width="0.35" >N<tspan font-size="11">10</tspan></text>
<text x="1056.60" y="140.50" font-size="15" text-anchor="middle" fill="#222" stroke="#222" stroke-width="0.35" >T<tspan font-size="11">10</tspan></text>
<text x="1083.00" y="140.50" font-size="15" text-anchor="middle" fill="#222" stroke="#222" stroke-width="0.35" >N<tspan font-size="11">11</tspan></text>
<text x="1108.00" y="140.50" font-size="15" text-anchor="middle" fill="#222" stroke="#222" stroke-width="0.35" >T<tspan font-size="11">11</tspan></text>
<text x="1133.50" y="140.50" font-size="15" text-anchor="middle" fill="#222" stroke="#222" stroke-width="0.35" >N<tspan font-size="11">12</tspan></text>
<text x="1157.00" y="140.50" font-size="15" text-anchor="middle" fill="#222" stroke="#222" stroke-width="0.35" >T<tspan font-size="11">12</tspan></text>
<text x="865.30" y="72.00" font-size="16" text-anchor="end" fill="#1f1f1f" stroke="#1f1f1f" stroke-width="0.35" textLength="36.5" lengthAdjust="spacingAndGlyphs" >GYS2</text>
<text x="865.30" y="106.30" font-size="16" text-anchor="end" fill="#1f1f1f" stroke="#1f1f1f" stroke-width="0.35" textLength="53" lengthAdjust="spacingAndGlyphs" >β-Actin</text>
<text x="865.30" y="167.50" font-size="16" text-anchor="end" fill="#1f1f1f" stroke="#1f1f1f" stroke-width="0.35" textLength="36.5" lengthAdjust="spacingAndGlyphs" >GYS2</text>
<text x="865.30" y="201.80" font-size="16" text-anchor="end" fill="#1f1f1f" stroke="#1f1f1f" stroke-width="0.35" textLength="53" lengthAdjust="spacingAndGlyphs" >β-Actin</text>
<defs><filter id="blur1" x="-20%" y="-100%" width="140%" height="300%"><feGaussianBlur stdDeviation="1.0"/></filter></defs>
<rect x="877.17" y="62.42" width="22.73" height="4.55" rx="2.27" ry="2.27" fill="#000" fill-opacity="1.0" filter="url(#blur1)"/>
<rect x="929.44" y="61.92" width="21.46" height="6.57" rx="3.28" ry="3.28" fill="#000" fill-opacity="1.0" filter="url(#blur1)"/>
<rect x="955.96" y="63.43" width="20.20" height="1.52" rx="0.76" ry="0.76" fill="#000" fill-opacity="0.15" filter="url(#blur1)"/>
<rect x="978.69" y="60.66" width="20.71" height="4.04" rx="2.02" ry="2.02" fill="#000" fill-opacity="1.0" filter="url(#blur1)"/>
<rect x="1028.69" y="61.92" width="21.21" height="6.57" rx="3.28" ry="3.28" fill="#000" fill-opacity="1.0" filter="url(#blur1)"/>
<rect x="1054.44" y="64.70" width="18.94" height="2.02" rx="1.01" ry="1.01" fill="#000" fill-opacity="0.45" filter="url(#blur1)"/>
<rect x="1076.67" y="61.92" width="23.23" height="6.57" rx="3.28" ry="3.28" fill="#000" fill-opacity="1.0" filter="url(#blur1)"/>
<rect x="1103.69" y="64.19" width="19.44" height="3.03" rx="1.52" ry="1.52" fill="#000" fill-opacity="0.85" filter="url(#blur1)"/>
<rect x="1125.15" y="61.16" width="23.99" height="9.09" rx="4.55" ry="4.55" fill="#000" fill-opacity="1.0" filter="url(#blur1)"/>
<rect x="929.44" y="69.49" width="21.46" height="1.52" rx="0.76" ry="0.76" fill="#000" fill-opacity="0.15" filter="url(#blur1)"/>
<rect x="1028.69" y="69.49" width="21.21" height="1.52" rx="0.76" ry="0.76" fill="#000" fill-opacity="0.12" filter="url(#blur1)"/>
<rect x="1103.69" y="69.00" width="19.44" height="1.50" rx="0.75" ry="0.75" fill="#000" fill-opacity="0.2" filter="url(#blur1)"/>
<rect x="877.68" y="98.03" width="25.25" height="4.04" rx="2.02" ry="2.02" fill="#000" fill-opacity="1.0" filter="url(#blur1)"/>
<rect x="905.45" y="96.26" width="22.73" height="5.05" rx="2.53" ry="2.53" fill="#000" fill-opacity="1.0" filter="url(#blur1)"/>
<rect x="930.71" y="98.28" width="21.46" height="3.54" rx="1.77" ry="1.77" fill="#000" fill-opacity="1.0" filter="url(#blur1)"/>
<rect x="954.70" y="98.41" width="22.73" height="3.28" rx="1.64" ry="1.64" fill="#000" fill-opacity="1.0" filter="url(#blur1)"/>
<rect x="979.95" y="97.78" width="20.20" height="3.54" rx="1.77" ry="1.77" fill="#000" fill-opacity="1.0" filter="url(#blur1)"/>
<rect x="1005.20" y="97.78" width="18.94" height="3.54" rx="1.77" ry="1.77" fill="#000" fill-opacity="1.0" filter="url(#blur1)"/>
<rect x="1026.67" y="98.54" width="22.73" height="4.04" rx="2.02" ry="2.02" fill="#000" fill-opacity="1.0" filter="url(#blur1)"/>
<rect x="1053.18" y="98.79" width="18.94" height="3.54" rx="1.77" ry="1.77" fill="#000" fill-opacity="1.0" filter="url(#blur1)"/>
<rect x="1074.65" y="98.91" width="22.73" height="4.29" rx="2.15" ry="2.15" fill="#000" fill-opacity="1.0" filter="url(#blur1)"/>
<rect x="1099.90" y="99.55" width="21.46" height="4.04" rx="2.02" ry="2.02" fill="#000" fill-opacity="1.0" filter="url(#blur1)"/>
<rect x="1122.63" y="100.05" width="25.25" height="5.05" rx="2.53" ry="2.53" fill="#000" fill-opacity="1.0" filter="url(#blur1)"/>
<rect x="1150.40" y="101.57" width="22.73" height="6.06" rx="3.03" ry="3.03" fill="#000" fill-opacity="1.0" filter="url(#blur1)"/>
<rect x="872.63" y="160.20" width="20.71" height="5.05" rx="2.53" ry="2.53" fill="#000" fill-opacity="1.0" filter="url(#blur1)"/>
<rect x="875.15" y="165.76" width="16.41" height="2.02" rx="1.01" ry="1.01" fill="#000" fill-opacity="0.4" filter="url(#blur1)"/>
<rect x="902.93" y="162.47" width="11.36" height="1.52" rx="0.76" ry="0.76" fill="#000" fill-opacity="0.2" filter="url(#blur1)"/>
<rect x="921.87" y="159.95" width="22.73" height="4.55" rx="2.27" ry="2.27" fill="#000" fill-opacity="1.0" filter="url(#blur1)"/>
<rect x="923.13" y="165.25" width="20.20" height="2.02" rx="1.01" ry="1.01" fill="#000" fill-opacity="0.6" filter="url(#blur1)"/>
<rect x="972.37" y="160.33" width="18.94" height="3.79" rx="1.89" ry="1.89" fill="#000" fill-opacity="1.0" filter="url(#blur1)"/>
<rect x="973.64" y="164.50" width="16.41" height="1.50" rx="0.75" ry="0.75" fill="#000" fill-opacity="0.25" filter="url(#blur1)"/>
<rect x="1020.35" y="158.69" width="21.46" height="4.04" rx="2.02" ry="2.02" fill="#000" fill-opacity="1.0" filter="url(#blur1)"/>
<rect x="1022.88" y="163.48" width="16.92" height="2.53" rx="1.26" ry="1.26" fill="#000" fill-opacity="0.9" filter="url(#blur1)"/>
<rect x="1070.86" y="158.31" width="19.44" height="3.79" rx="1.89" ry="1.89" fill="#000" fill-opacity="1.0" filter="url(#blur1)"/>
<rect x="1073.38" y="163.23" width="15.15" height="2.02" rx="1.01" ry="1.01" fill="#000" fill-opacity="0.75" filter="url(#blur1)"/>
<rect x="1117.07" y="158.18" width="25.25" height="9.09" rx="4.55" ry="4.55" fill="#000" fill-opacity="1.0" filter="url(#blur1)"/>
<rect x="1146.62" y="161.72" width="21.46" height="2.02" rx="1.01" ry="1.01" fill="#000" fill-opacity="0.35" filter="url(#blur1)"/>
<rect x="1123.89" y="171.57" width="12.63" height="1.52" rx="0.76" ry="0.76" fill="#000" fill-opacity="0.15" filter="url(#blur1)"/>
<rect x="873.89" y="195.81" width="21.46" height="4.55" rx="2.27" ry="2.27" fill="#000" fill-opacity="1.0" filter="url(#blur1)"/>
<rect x="897.88" y="196.31" width="25.25" height="4.55" rx="2.27" ry="2.27" fill="#000" fill-opacity="1.0" filter="url(#blur1)"/>
<rect x="926.16" y="195.93" width="20.96" height="4.29" rx="2.15" ry="2.15" fill="#000" fill-opacity="1.0" filter="url(#blur1)"/>
<rect x="948.89" y="196.44" width="22.22" height="4.29" rx="2.15" ry="2.15" fill="#000" fill-opacity="1.0" filter="url(#blur1)"/>
<rect x="976.16" y="196.69" width="21.46" height="3.79" rx="1.89" ry="1.89" fill="#000" fill-opacity="1.0" filter="url(#blur1)"/>
<rect x="1001.41" y="196.44" width="18.94" height="3.28" rx="1.64" ry="1.64" fill="#000" fill-opacity="1.0" filter="url(#blur1)"/>
<rect x="1024.14" y="197.32" width="23.99" height="3.54" rx="1.77" ry="1.77" fill="#000" fill-opacity="1.0" filter="url(#blur1)"/>
<rect x="1053.18" y="195.68" width="20.20" height="3.79" rx="1.89" ry="1.89" fill="#000" fill-opacity="1.0" filter="url(#blur1)"/>
<rect x="1074.65" y="195.93" width="26.52" height="4.29" rx="2.15" ry="2.15" fill="#000" fill-opacity="1.0" filter="url(#blur1)"/>
<rect x="1103.69" y="195.05" width="20.20" height="5.05" rx="2.53" ry="2.53" fill="#000" fill-opacity="1.0" filter="url(#blur1)"/>
<rect x="1125.15" y="195.93" width="22.73" height="4.29" rx="2.15" ry="2.15" fill="#000" fill-opacity="1.0" filter="url(#blur1)"/>
<rect x="1150.40" y="196.57" width="22.73" height="4.04" rx="2.02" ry="2.02" fill="#000" fill-opacity="1.0" filter="url(#blur1)"/>
<text x="721.00" y="272.50" font-size="32.5" text-anchor="start" fill="#000" font-weight="bold" >E</text>
<defs><filter id="pblur" x="-10%" y="-10%" width="120%" height="120%"><feGaussianBlur stdDeviation="1.5"/></filter></defs>
<rect x="748.00" y="268.60" width="250.60" height="110.90" fill="#f6f8fa" stroke="none" stroke-width="1" />
<clipPath id="cc1"><ellipse cx="800.50" cy="323.00" rx="48.00" ry="52.00"/></clipPath>
<g clip-path="url(#cc1)"><rect x="748.00" y="268.00" width="112.00" height="112.00" fill="#c4bab4"/></g>
<filter id="nf1" x="748.00" y="268.00" width="112.00" height="112.00" filterUnits="userSpaceOnUse" color-interpolation-filters="sRGB"><feTurbulence type="fractalNoise" baseFrequency="0.35" numOctaves="2" seed="3"/><feColorMatrix type="matrix" values="0 0 0 0 0.627 0 0 0 0 0.565 0 0 0 0 0.541 1.6 0 0 0 -0.6"/></filter>
<g clip-path="url(#cc1)" opacity="1.0"><rect x="748.00" y="268.00" width="112.00" height="112.00" filter="url(#nf1)"/></g>
<filter id="nf2" x="748.00" y="268.00" width="112.00" height="112.00" filterUnits="userSpaceOnUse" color-interpolation-filters="sRGB"><feTurbulence type="fractalNoise" baseFrequency="0.3" numOctaves="2" seed="4"/><feColorMatrix type="matrix" values="0 0 0 0 0.933 0 0 0 0 0.949 0 0 0 0 0.965 1.6 0 0 0 -0.62"/></filter>
<g clip-path="url(#cc1)" opacity="1.0"><rect x="748.00" y="268.00" width="112.00" height="112.00" filter="url(#nf2)"/></g>
<filter id="nf3" x="748.00" y="268.00" width="112.00" height="112.00" filterUnits="userSpaceOnUse" color-interpolation-filters="sRGB"><feTurbulence type="fractalNoise" baseFrequency="0.05" numOctaves="1" seed="5"/><feColorMatrix type="matrix" values="0 0 0 0 0.875 0 0 0 0 0.902 0 0 0 0 0.933 2.5 0 0 0 -1.55"/></filter>
<g clip-path="url(#cc1)" opacity="1.0"><rect x="748.00" y="268.00" width="112.00" height="112.00" filter="url(#nf3)"/></g>
<g clip-path="url(#cc1)"><polygon points="792,347 800,343 806,351 808,362 789,362" fill="#eef2f6" opacity="0.85" filter="url(#pblur)"/></g>
<g clip-path="url(#cc1)"><polygon points="832,285 842,300 846,330 840,352 836,330 834,300" fill="#dfe6ee" opacity="0.5" filter="url(#pblur)"/></g>
<g clip-path="url(#cc1)"><polygon points="752,318 756,300 760,300 757,330 754,340" fill="#dfe6ee" opacity="0.45" filter="url(#pblur)"/></g>
<clipPath id="cc2"><rect x="860.30" y="268.60" width="138.30" height="110.90"/></clipPath>
<g clip-path="url(#cc2)"><rect x="860.30" y="268.60" width="138.30" height="110.90" fill="#d4cac2"/></g>
<filter id="nf4" x="860.30" y="268.60" width="138.30" height="110.90" filterUnits="userSpaceOnUse" color-interpolation-filters="sRGB"><feTurbulence type="fractalNoise" baseFrequency="0.15" numOctaves="3" seed="6"/><feColorMatrix type="matrix" values="0 0 0 0 0.690 0 0 0 0 0.580 0 0 0 0 0.502 1.7 0 0 0 -0.7"/></filter>
<g clip-path="url(#cc2)" opacity="1.0"><rect x="860.30" y="268.60" width="138.30" height="110.90" filter="url(#nf4)"/></g>
<filter id="nf5" x="860.30" y="268.60" width="138.30" height="110.90" filterUnits="userSpaceOnUse" color-interpolation-filters="sRGB"><feTurbulence type="fractalNoise" baseFrequency="0.15" numOctaves="3" seed="7"/><feColorMatrix type="matrix" values="0 0 0 0 0.957 0 0 0 0 0.949 0 0 0 0 0.933 1.8 0 0 0 -0.7"/></filter>
<g clip-path="url(#cc2)" opacity="1.0"><rect x="860.30" y="268.60" width="138.30" height="110.90" filter="url(#nf5)"/></g>
<g clip-path="url(#cc2)" fill="#7894b4">
<ellipse transform="rotate(84 922.9 330.7)" cx="922.9" cy="330.7" rx="2.51" ry="1.88" opacity="0.58"/>
<ellipse transform="rotate(113 941.5 289.1)" cx="941.5" cy="289.1" rx="2.01" ry="1.51" opacity="0.71"/>
<ellipse transform="rotate(146 873.3 302.2)" cx="873.3" cy="302.2" rx="1.51" ry="1.13" opacity="0.66"/>
<ellipse transform="rotate(118 866.1 377.5)" cx="866.1" cy="377.5" rx="2.56" ry="1.92" opacity="0.63"/>
<ellipse transform="rotate(11 882.1 270.3)" cx="882.1" cy="270.3" rx="2.03" ry="1.53" opacity="0.44"/>
<ellipse transform="rotate(79 893.8 271.9)" cx="893.8" cy="271.9" rx="1.96" ry="1.47" opacity="0.73"/>
<ellipse transform="rotate(119 932.1 339.6)" cx="932.1" cy="339.6" rx="2.00" ry="1.50" opacity="0.56"/>
<ellipse transform="rotate(151 898.8 379.2)" cx="898.8" cy="379.2" rx="2.59" ry="1.95" opacity="0.67"/>
<ellipse transform="rotate(13 903.9 294.1)" cx="903.9" cy="294.1" rx="1.75" ry="1.31" opacity="0.69"/>
<ellipse transform="rotate(172 915.7 362.5)" cx="915.7" cy="362.5" rx="1.86" ry="1.40" opacity="0.73"/>
<ellipse transform="rotate(85 860.4 291.9)" cx="860.4" cy="291.9" rx="2.49" ry="1.87" opacity="0.79"/>
<ellipse transform="rotate(140 915.3 276.7)" cx="915.3" cy="276.7" rx="2.16" ry="1.62" opacity="0.47"/>
<ellipse transform="rotate(136 872.4 305.5)" cx="872.4" cy="305.5" rx="2.56" ry="1.92" opacity="0.40"/>
<ellipse transform="rotate(143 894.4 279.8)" cx="894.4" cy="279.8" rx="1.47" ry="1.10" opacity="0.43"/>
<ellipse transform="rotate(132 937.7 318.2)" cx="937.7" cy="318.2" rx="1.63" ry="1.22" opacity="0.41"/>
<ellipse transform="rotate(38 949.3 281.5)" cx="949.3" cy="281.5" rx="1.90" ry="1.43" opacity="0.47"/>
<ellipse transform="rotate(159 994.6 357.7)" cx="994.6" cy="357.7" rx="1.76" ry="1.32" opacity="0.44"/>
<ellipse transform="rotate(18 914.8 363.4)" cx="914.8" cy="363.4" rx="2.17" ry="1.63" opacity="0.80"/>
<ellipse transform="rotate(59 889.8 297.2)" cx="889.8" cy="297.2" rx="2.33" ry="1.75" opacity="0.48"/>
<ellipse transform="rotate(44 870.5 278.6)" cx="870.5" cy="278.6" rx="2.10" ry="1.57" opacity="0.62"/>
<ellipse transform="rotate(87 911.7 318.9)" cx="911.7" cy="318.9" rx="2.55" ry="1.91" opacity="0.61"/>
<ellipse transform="rotate(164 980.1 288.9)" cx="980.1" cy="288.9" rx="1.58" ry="1.19" opacity="0.72"/>
<ellipse transform="rotate(169 894.8 289.6)" cx="894.8" cy="289.6" rx="2.29" ry="1.72" opacity="0.44"/>
<ellipse transform="rotate(76 991.7 366.4)" cx="991.7" cy="366.4" rx="2.12" ry="1.59" opacity="0.40"/>
<ellipse transform="rotate(127 865.7 375.4)" cx="865.7" cy="375.4" rx="1.69" ry="1.26" opacity="0.47"/>
<ellipse transform="rotate(32 974.2 334.7)" cx="974.2" cy="334.7" rx="1.75" ry="1.31" opacity="0.67"/>
<ellipse transform="rotate(153 869.8 293.9)" cx="869.8" cy="293.9" rx="2.07" ry="1.55" opacity="0.63"/>
<ellipse transform="rotate(3 899.1 370.3)" cx="899.1" cy="370.3" rx="1.64" ry="1.23" opacity="0.47"/>
<ellipse transform="rotate(66 921.9 275.3)" cx="921.9" cy="275.3" rx="1.61" ry="1.21" opacity="0.61"/>
<ellipse transform="rotate(176 878.5 308.8)" cx="878.5" cy="308.8" rx="2.47" ry="1.85" opacity="0.65"/>
<ellipse transform="rotate(6 955.9 333.4)" cx="955.9" cy="333.4" rx="1.57" ry="1.18" opacity="0.36"/>
<ellipse transform="rotate(4 986.2 346.3)" cx="986.2" cy="346.3" rx="2.56" ry="1.92" opacity="0.64"/>
<ellipse transform="rotate(180 927.0 349.6)" cx="927.0" cy="349.6" rx="1.78" ry="1.34" opacity="0.38"/>
<ellipse transform="rotate(133 935.8 350.3)" cx="935.8" cy="350.3" rx="2.48" ry="1.86" opacity="0.67"/>
<ellipse transform="rotate(123 970.0 370.1)" cx="970.0" cy="370.1" rx="1.82" ry="1.37" opacity="0.76"/>
<ellipse transform="rotate(155 980.8 314.9)" cx="980.8" cy="314.9" rx="2.35" ry="1.76" opacity="0.61"/>
<ellipse transform="rotate(110 946.7 311.0)" cx="946.7" cy="311.0" rx="2.10" ry="1.57" opacity="0.39"/>
<ellipse transform="rotate(131 948.7 378.8)" cx="948.7" cy="378.8" rx="2.46" ry="1.84" opacity="0.52"/>
<ellipse transform="rotate(151 962.0 333.0)" cx="962.0" cy="333.0" rx="1.93" ry="1.45" opacity="0.39"/>
<ellipse transform="rotate(87 964.1 271.9)" cx="964.1" cy="271.9" rx="2.12" ry="1.59" opacity="0.45"/>
<ellipse transform="rotate(166 956.9 323.7)" cx="956.9" cy="323.7" rx="2.14" ry="1.60" opacity="0.47"/>
<ellipse transform="rotate(36 861.9 302.0)" cx="861.9" cy="302.0" rx="2.21" ry="1.66" opacity="0.43"/>
<ellipse transform="rotate(161 985.6 341.8)" cx="985.6" cy="341.8" rx="1.93" ry="1.45" opacity="0.50"/>
<ellipse transform="rotate(145 952.4 290.6)" cx="952.4" cy="290.6" rx="1.92" ry="1.44" opacity="0.76"/>
<ellipse transform="rotate(57 982.0 311.2)" cx="982.0" cy="311.2" rx="2.10" ry="1.57" opacity="0.41"/>
<ellipse transform="rotate(128 929.0 361.4)" cx="929.0" cy="361.4" rx="2.42" ry="1.81" opacity="0.78"/>
<ellipse transform="rotate(50 898.6 287.4)" cx="898.6" cy="287.4" rx="1.94" ry="1.46" opacity="0.45"/>
<ellipse transform="rotate(57 917.6 338.0)" cx="917.6" cy="338.0" rx="1.99" ry="1.49" opacity="0.73"/>
<ellipse transform="rotate(6 996.1 318.8)" cx="996.1" cy="318.8" rx="1.49" ry="1.12" opacity="0.74"/>
<ellipse transform="rotate(56 866.0 347.2)" cx="866.0" cy="347.2" rx="2.08" ry="1.56" opacity="0.71"/>
<ellipse transform="rotate(4 862.9 283.7)" cx="862.9" cy="283.7" rx="1.95" ry="1.46" opacity="0.72"/>
<ellipse transform="rotate(113 893.1 284.2)" cx="893.1" cy="284.2" rx="1.46" ry="1.09" opacity="0.55"/>
<ellipse transform="rotate(173 947.4 341.2)" cx="947.4" cy="341.2" rx="2.37" ry="1.78" opacity="0.66"/>
<ellipse transform="rotate(2 887.9 321.3)" cx="887.9" cy="321.3" rx="1.61" ry="1.21" opacity="0.56"/>
<ellipse transform="rotate(62 959.1 288.5)" cx="959.1" cy="288.5" rx="1.73" ry="1.30" opacity="0.66"/>
<ellipse transform="rotate(71 932.3 336.7)" cx="932.3" cy="336.7" rx="2.31" ry="1.73" opacity="0.71"/>
<ellipse transform="rotate(130 985.6 278.3)" cx="985.6" cy="278.3" rx="2.52" ry="1.89" opacity="0.41"/>
<ellipse transform="rotate(68 923.0 338.0)" cx="923.0" cy="338.0" rx="2.49" ry="1.87" opacity="0.61"/>
<ellipse transform="rotate(83 981.9 357.0)" cx="981.9" cy="357.0" rx="2.53" ry="1.90" opacity="0.64"/>
<ellipse transform="rotate(115 888.6 348.7)" cx="888.6" cy="348.7" rx="2.38" ry="1.79" opacity="0.67"/>
<ellipse transform="rotate(176 889.8 368.4)" cx="889.8" cy="368.4" rx="2.58" ry="1.93" opacity="0.59"/>
<ellipse transform="rotate(154 969.7 304.1)" cx="969.7" cy="304.1" rx="2.49" ry="1.87" opacity="0.51"/>
<ellipse transform="rotate(138 871.7 317.5)" cx="871.7" cy="317.5" rx="2.06" ry="1.55" opacity="0.57"/>
<ellipse transform="rotate(144 864.2 358.3)" cx="864.2" cy="358.3" rx="1.48" ry="1.11" opacity="0.43"/>
<ellipse transform="rotate(27 906.6 356.0)" cx="906.6" cy="356.0" rx="1.57" ry="1.18" opacity="0.58"/>
<ellipse transform="rotate(170 960.4 361.8)" cx="960.4" cy="361.8" rx="2.23" ry="1.67" opacity="0.57"/>
<ellipse transform="rotate(95 991.6 278.1)" cx="991.6" cy="278.1" rx="1.67" ry="1.25" opacity="0.48"/>
<ellipse transform="rotate(152 961.1 339.5)" cx="961.1" cy="339.5" rx="2.03" ry="1.52" opacity="0.60"/>
<ellipse transform="rotate(162 903.4 310.9)" cx="903.4" cy="310.9" rx="2.41" ry="1.81" opacity="0.44"/>
<ellipse transform="rotate(103 978.0 376.0)" cx="978.0" cy="376.0" rx="2.03" ry="1.52" opacity="0.44"/>
<ellipse transform="rotate(5 934.4 324.4)" cx="934.4" cy="324.4" rx="2.13" ry="1.59" opacity="0.79"/>
<ellipse transform="rotate(101 931.7 313.0)" cx="931.7" cy="313.0" rx="2.36" ry="1.77" opacity="0.57"/>
<ellipse transform="rotate(74 955.9 275.9)" cx="955.9" cy="275.9" rx="2.05" ry="1.53" opacity="0.78"/>
<ellipse transform="rotate(23 988.0 298.5)" cx="988.0" cy="298.5" rx="1.97" ry="1.48" opacity="0.55"/>
<ellipse transform="rotate(57 973.1 368.5)" cx="973.1" cy="368.5" rx="1.97" ry="1.48" opacity="0.44"/>
<ellipse transform="rotate(140 945.8 371.2)" cx="945.8" cy="371.2" rx="1.56" ry="1.17" opacity="0.36"/>
<ellipse transform="rotate(58 887.1 293.8)" cx="887.1" cy="293.8" rx="2.22" ry="1.67" opacity="0.51"/>
<ellipse transform="rotate(22 946.0 280.2)" cx="946.0" cy="280.2" rx="2.28" ry="1.71" opacity="0.58"/>
<ellipse transform="rotate(79 895.0 290.5)" cx="895.0" cy="290.5" rx="2.04" ry="1.53" opacity="0.52"/>
<ellipse transform="rotate(37 917.5 327.3)" cx="917.5" cy="327.3" rx="1.59" ry="1.19" opacity="0.63"/>
<ellipse transform="rotate(110 948.6 327.3)" cx="948.6" cy="327.3" rx="2.42" ry="1.82" opacity="0.74"/>
<ellipse transform="rotate(162 892.5 350.8)" cx="892.5" cy="350.8" rx="2.37" ry="1.78" opacity="0.49"/>
<ellipse transform="rotate(180 903.9 370.9)" cx="903.9" cy="370.9" rx="1.66" ry="1.25" opacity="0.75"/>
<ellipse transform="rotate(47 878.8 295.1)" cx="878.8" cy="295.1" rx="2.27" ry="1.70" opacity="0.39"/>
<ellipse transform="rotate(23 975.4 315.4)" cx="975.4" cy="315.4" rx="2.35" ry="1.76" opacity="0.53"/>
<ellipse transform="rotate(123 955.1 270.6)" cx="955.1" cy="270.6" rx="1.64" ry="1.23" opacity="0.76"/>
<ellipse transform="rotate(136 994.2 281.4)" cx="994.2" cy="281.4" rx="2.01" ry="1.51" opacity="0.58"/>
<ellipse transform="rotate(19 955.1 289.6)" cx="955.1" cy="289.6" rx="1.48" ry="1.11" opacity="0.37"/>
<ellipse transform="rotate(26 936.6 325.7)" cx="936.6" cy="325.7" rx="2.08" ry="1.56" opacity="0.43"/>
<ellipse transform="rotate(167 888.5 361.8)" cx="888.5" cy="361.8" rx="2.59" ry="1.94" opacity="0.39"/>
<ellipse transform="rotate(138 868.9 374.1)" cx="868.9" cy="374.1" rx="1.95" ry="1.47" opacity="0.50"/>
<ellipse transform="rotate(108 924.9 325.7)" cx="924.9" cy="325.7" rx="1.92" ry="1.44" opacity="0.36"/>
<ellipse transform="rotate(82 957.3 362.2)" cx="957.3" cy="362.2" rx="1.62" ry="1.21" opacity="0.68"/>
<ellipse transform="rotate(92 916.4 290.2)" cx="916.4" cy="290.2" rx="1.60" ry="1.20" opacity="0.36"/>
<ellipse transform="rotate(155 983.8 357.5)" cx="983.8" cy="357.5" rx="2.25" ry="1.68" opacity="0.63"/>
<ellipse transform="rotate(177 916.2 335.1)" cx="916.2" cy="335.1" rx="2.01" ry="1.50" opacity="0.71"/>
<ellipse transform="rotate(140 896.0 369.7)" cx="896.0" cy="369.7" rx="2.29" ry="1.72" opacity="0.72"/>
<ellipse transform="rotate(125 916.4 368.0)" cx="916.4" cy="368.0" rx="2.46" ry="1.84" opacity="0.70"/>
<ellipse transform="rotate(13 966.1 313.6)" cx="966.1" cy="313.6" rx="2.27" ry="1.70" opacity="0.50"/>
<ellipse transform="rotate(115 925.1 269.8)" cx="925.1" cy="269.8" rx="1.83" ry="1.37" opacity="0.63"/>
<ellipse transform="rotate(61 892.4 373.4)" cx="892.4" cy="373.4" rx="2.20" ry="1.65" opacity="0.65"/>
<ellipse transform="rotate(180 939.1 327.7)" cx="939.1" cy="327.7" rx="1.87" ry="1.40" opacity="0.64"/>
<ellipse transform="rotate(4 957.3 353.1)" cx="957.3" cy="353.1" rx="2.58" ry="1.93" opacity="0.63"/>
<ellipse transform="rotate(9 962.5 297.1)" cx="962.5" cy="297.1" rx="1.88" ry="1.41" opacity="0.44"/>
<ellipse transform="rotate(163 912.3 279.5)" cx="912.3" cy="279.5" rx="1.70" ry="1.28" opacity="0.60"/>
<ellipse transform="rotate(179 930.5 375.9)" cx="930.5" cy="375.9" rx="2.08" ry="1.56" opacity="0.64"/>
<ellipse transform="rotate(137 972.3 277.1)" cx="972.3" cy="277.1" rx="2.12" ry="1.59" opacity="0.37"/>
<ellipse transform="rotate(30 988.9 286.3)" cx="988.9" cy="286.3" rx="1.97" ry="1.47" opacity="0.57"/>
<ellipse transform="rotate(76 944.8 275.1)" cx="944.8" cy="275.1" rx="2.53" ry="1.90" opacity="0.59"/>
<ellipse transform="rotate(118 943.0 309.1)" cx="943.0" cy="309.1" rx="1.74" ry="1.31" opacity="0.60"/>
<ellipse transform="rotate(3 899.5 348.1)" cx="899.5" cy="348.1" rx="1.76" ry="1.32" opacity="0.46"/>
<ellipse transform="rotate(70 866.2 286.0)" cx="866.2" cy="286.0" rx="2.31" ry="1.73" opacity="0.75"/>
<ellipse transform="rotate(170 963.8 274.2)" cx="963.8" cy="274.2" rx="2.59" ry="1.94" opacity="0.38"/>
<ellipse transform="rotate(175 985.5 316.2)" cx="985.5" cy="316.2" rx="1.97" ry="1.48" opacity="0.46"/>
<ellipse transform="rotate(84 932.7 372.5)" cx="932.7" cy="372.5" rx="2.27" ry="1.70" opacity="0.79"/>
<ellipse transform="rotate(112 973.2 335.5)" cx="973.2" cy="335.5" rx="1.54" ry="1.15" opacity="0.56"/>
<ellipse transform="rotate(22 888.5 274.4)" cx="888.5" cy="274.4" rx="2.03" ry="1.53" opacity="0.55"/>
<ellipse transform="rotate(105 952.7 319.1)" cx="952.7" cy="319.1" rx="1.71" ry="1.29" opacity="0.54"/>
<ellipse transform="rotate(171 967.9 327.5)" cx="967.9" cy="327.5" rx="2.60" ry="1.95" opacity="0.68"/>
<ellipse transform="rotate(141 893.3 281.2)" cx="893.3" cy="281.2" rx="2.47" ry="1.85" opacity="0.63"/>
<ellipse transform="rotate(102 910.0 298.7)" cx="910.0" cy="298.7" rx="2.22" ry="1.67" opacity="0.62"/>
<ellipse transform="rotate(45 947.9 352.1)" cx="947.9" cy="352.1" rx="1.63" ry="1.22" opacity="0.79"/>
<ellipse transform="rotate(11 986.9 366.1)" cx="986.9" cy="366.1" rx="1.45" ry="1.09" opacity="0.47"/>
<ellipse transform="rotate(97 919.1 337.7)" cx="919.1" cy="337.7" rx="1.52" ry="1.14" opacity="0.38"/>
<ellipse transform="rotate(114 872.3 343.6)" cx="872.3" cy="343.6" rx="2.06" ry="1.55" opacity="0.52"/>
<ellipse transform="rotate(134 926.5 292.0)" cx="926.5" cy="292.0" rx="1.81" ry="1.36" opacity="0.73"/>
<ellipse transform="rotate(112 870.6 281.9)" cx="870.6" cy="281.9" rx="2.37" ry="1.78" opacity="0.70"/>
<ellipse transform="rotate(146 889.8 315.7)" cx="889.8" cy="315.7" rx="1.71" ry="1.28" opacity="0.52"/>
<ellipse transform="rotate(99 950.7 378.3)" cx="950.7" cy="378.3" rx="1.79" ry="1.34" opacity="0.69"/>
<ellipse transform="rotate(17 987.7 316.0)" cx="987.7" cy="316.0" rx="1.84" ry="1.38" opacity="0.74"/>
<ellipse transform="rotate(87 871.2 277.8)" cx="871.2" cy="277.8" rx="2.08" ry="1.56" opacity="0.66"/>
<ellipse transform="rotate(38 901.6 354.6)" cx="901.6" cy="354.6" rx="1.49" ry="1.12" opacity="0.65"/>
<ellipse transform="rotate(125 871.6 302.3)" cx="871.6" cy="302.3" rx="2.27" ry="1.70" opacity="0.48"/>
<ellipse transform="rotate(66 880.1 308.3)" cx="880.1" cy="308.3" rx="2.27" ry="1.70" opacity="0.40"/>
<ellipse transform="rotate(169 958.4 331.7)" cx="958.4" cy="331.7" rx="2.50" ry="1.88" opacity="0.76"/>
<ellipse transform="rotate(57 920.9 357.7)" cx="920.9" cy="357.7" rx="1.77" ry="1.32" opacity="0.53"/>
<ellipse transform="rotate(65 989.6 367.8)" cx="989.6" cy="367.8" rx="1.70" ry="1.27" opacity="0.51"/>
<ellipse transform="rotate(35 910.5 312.5)" cx="910.5" cy="312.5" rx="1.87" ry="1.40" opacity="0.60"/>
<ellipse transform="rotate(101 970.5 328.5)" cx="970.5" cy="328.5" rx="2.40" ry="1.80" opacity="0.43"/>
<ellipse transform="rotate(4 965.3 366.3)" cx="965.3" cy="366.3" rx="1.74" ry="1.30" opacity="0.58"/>
<ellipse transform="rotate(117 935.6 331.5)" cx="935.6" cy="331.5" rx="2.56" ry="1.92" opacity="0.71"/>
<ellipse transform="rotate(15 869.2 329.2)" cx="869.2" cy="329.2" rx="2.35" ry="1.76" opacity="0.39"/>
<ellipse transform="rotate(114 962.2 368.3)" cx="962.2" cy="368.3" rx="1.50" ry="1.13" opacity="0.41"/>
<ellipse transform="rotate(40 963.4 340.6)" cx="963.4" cy="340.6" rx="1.69" ry="1.27" opacity="0.69"/>
<ellipse transform="rotate(61 932.4 353.4)" cx="932.4" cy="353.4" rx="1.87" ry="1.40" opacity="0.79"/>
<ellipse transform="rotate(130 953.3 323.3)" cx="953.3" cy="323.3" rx="2.04" ry="1.53" opacity="0.67"/>
<ellipse transform="rotate(120 986.8 314.1)" cx="986.8" cy="314.1" rx="2.39" ry="1.79" opacity="0.73"/>
<ellipse transform="rotate(172 971.8 361.1)" cx="971.8" cy="361.1" rx="2.47" ry="1.85" opacity="0.64"/>
<ellipse transform="rotate(76 932.7 347.3)" cx="932.7" cy="347.3" rx="2.36" ry="1.77" opacity="0.54"/>
<ellipse transform="rotate(68 880.5 350.8)" cx="880.5" cy="350.8" rx="2.59" ry="1.94" opacity="0.43"/>
<ellipse transform="rotate(175 888.6 315.7)" cx="888.6" cy="315.7" rx="1.75" ry="1.31" opacity="0.38"/>
<ellipse transform="rotate(140 903.0 281.3)" cx="903.0" cy="281.3" rx="2.18" ry="1.63" opacity="0.43"/>
<ellipse transform="rotate(164 868.9 319.5)" cx="868.9" cy="319.5" rx="2.10" ry="1.58" opacity="0.37"/>
<ellipse transform="rotate(42 875.3 289.1)" cx="875.3" cy="289.1" rx="1.66" ry="1.25" opacity="0.67"/>
<ellipse transform="rotate(51 942.6 293.4)" cx="942.6" cy="293.4" rx="1.62" ry="1.22" opacity="0.43"/>
<ellipse transform="rotate(147 965.1 303.2)" cx="965.1" cy="303.2" rx="2.06" ry="1.54" opacity="0.57"/>
<ellipse transform="rotate(62 896.3 367.0)" cx="896.3" cy="367.0" rx="2.50" ry="1.87" opacity="0.60"/>
<ellipse transform="rotate(9 992.7 322.1)" cx="992.7" cy="322.1" rx="1.67" ry="1.25" opacity="0.78"/>
<ellipse transform="rotate(93 971.1 311.3)" cx="971.1" cy="311.3" rx="2.03" ry="1.52" opacity="0.47"/>
<ellipse transform="rotate(2 997.3 341.5)" cx="997.3" cy="341.5" rx="1.69" ry="1.26" opacity="0.56"/>
<ellipse transform="rotate(109 911.7 357.0)" cx="911.7" cy="357.0" rx="2.26" ry="1.69" opacity="0.42"/>
<ellipse transform="rotate(156 882.0 304.3)" cx="882.0" cy="304.3" rx="1.71" ry="1.28" opacity="0.58"/>
<ellipse transform="rotate(96 948.4 378.7)" cx="948.4" cy="378.7" rx="1.72" ry="1.29" opacity="0.42"/>
<ellipse transform="rotate(152 966.8 268.8)" cx="966.8" cy="268.8" rx="2.39" ry="1.79" opacity="0.72"/>
<ellipse transform="rotate(17 871.7 298.5)" cx="871.7" cy="298.5" rx="2.26" ry="1.69" opacity="0.57"/>
<ellipse transform="rotate(154 925.1 374.6)" cx="925.1" cy="374.6" rx="2.10" ry="1.58" opacity="0.49"/>
<ellipse transform="rotate(16 969.5 314.8)" cx="969.5" cy="314.8" rx="2.50" ry="1.88" opacity="0.72"/>
<ellipse transform="rotate(28 889.1 328.9)" cx="889.1" cy="328.9" rx="2.03" ry="1.52" opacity="0.72"/>
<ellipse transform="rotate(55 903.4 303.1)" cx="903.4" cy="303.1" rx="1.49" ry="1.12" opacity="0.56"/>
<ellipse transform="rotate(19 959.2 308.5)" cx="959.2" cy="308.5" rx="2.22" ry="1.67" opacity="0.53"/>
<ellipse transform="rotate(118 924.2 375.8)" cx="924.2" cy="375.8" rx="2.40" ry="1.80" opacity="0.36"/>
<ellipse transform="rotate(102 912.5 347.3)" cx="912.5" cy="347.3" rx="1.68" ry="1.26" opacity="0.56"/>
<ellipse transform="rotate(37 861.7 378.6)" cx="861.7" cy="378.6" rx="2.36" ry="1.77" opacity="0.63"/>
<ellipse transform="rotate(54 900.5 310.3)" cx="900.5" cy="310.3" rx="2.05" ry="1.54" opacity="0.50"/>
<ellipse transform="rotate(36 914.5 342.5)" cx="914.5" cy="342.5" rx="1.71" ry="1.28" opacity="0.68"/>
<ellipse transform="rotate(130 905.9 373.4)" cx="905.9" cy="373.4" rx="2.08" ry="1.56" opacity="0.50"/>
<ellipse transform="rotate(17 974.7 278.8)" cx="974.7" cy="278.8" rx="1.57" ry="1.18" opacity="0.65"/>
<ellipse transform="rotate(151 958.3 288.5)" cx="958.3" cy="288.5" rx="1.88" ry="1.41" opacity="0.62"/>
<ellipse transform="rotate(22 872.8 293.7)" cx="872.8" cy="293.7" rx="1.59" ry="1.19" opacity="0.53"/>
<ellipse transform="rotate(92 870.4 370.7)" cx="870.4" cy="370.7" rx="1.91" ry="1.43" opacity="0.64"/>
<ellipse transform="rotate(60 966.4 359.7)" cx="966.4" cy="359.7" rx="1.86" ry="1.40" opacity="0.54"/>
<ellipse transform="rotate(177 862.4 313.0)" cx="862.4" cy="313.0" rx="2.24" ry="1.68" opacity="0.71"/>
<ellipse transform="rotate(60 951.6 336.1)" cx="951.6" cy="336.1" rx="1.42" ry="1.07" opacity="0.50"/>
<ellipse transform="rotate(92 950.3 280.4)" cx="950.3" cy="280.4" rx="1.85" ry="1.39" opacity="0.70"/>
<ellipse transform="rotate(138 974.4 336.4)" cx="974.4" cy="336.4" rx="1.59" ry="1.19" opacity="0.76"/>
<ellipse transform="rotate(26 936.1 307.7)" cx="936.1" cy="307.7" rx="2.00" ry="1.50" opacity="0.67"/>
<ellipse transform="rotate(150 996.8 325.8)" cx="996.8" cy="325.8" rx="2.26" ry="1.69" opacity="0.44"/>
<ellipse transform="rotate(15 991.0 338.1)" cx="991.0" cy="338.1" rx="1.64" ry="1.23" opacity="0.46"/>
<ellipse transform="rotate(167 940.0 345.9)" cx="940.0" cy="345.9" rx="1.80" ry="1.35" opacity="0.51"/>
<ellipse transform="rotate(24 924.3 282.4)" cx="924.3" cy="282.4" rx="2.57" ry="1.93" opacity="0.76"/>
<ellipse transform="rotate(48 935.5 330.8)" cx="935.5" cy="330.8" rx="2.07" ry="1.55" opacity="0.76"/>
<ellipse transform="rotate(22 997.5 359.3)" cx="997.5" cy="359.3" rx="2.12" ry="1.59" opacity="0.72"/>
<ellipse transform="rotate(103 900.2 368.1)" cx="900.2" cy="368.1" rx="1.69" ry="1.27" opacity="0.72"/>
<ellipse transform="rotate(6 886.0 329.4)" cx="886.0" cy="329.4" rx="1.49" ry="1.12" opacity="0.43"/>
<ellipse transform="rotate(55 996.8 372.8)" cx="996.8" cy="372.8" rx="2.19" ry="1.64" opacity="0.65"/>
<ellipse transform="rotate(145 962.3 310.9)" cx="962.3" cy="310.9" rx="2.11" ry="1.58" opacity="0.36"/>
<ellipse transform="rotate(70 887.9 320.5)" cx="887.9" cy="320.5" rx="1.57" ry="1.18" opacity="0.61"/>
<ellipse transform="rotate(102 884.3 326.2)" cx="884.3" cy="326.2" rx="1.72" ry="1.29" opacity="0.50"/>
<ellipse transform="rotate(26 949.0 272.8)" cx="949.0" cy="272.8" rx="2.21" ry="1.65" opacity="0.78"/>
<ellipse transform="rotate(112 943.3 320.7)" cx="943.3" cy="320.7" rx="1.89" ry="1.42" opacity="0.66"/>
<ellipse transform="rotate(179 965.1 352.0)" cx="965.1" cy="352.0" rx="1.98" ry="1.49" opacity="0.73"/>
<ellipse transform="rotate(102 978.6 314.0)" cx="978.6" cy="314.0" rx="1.92" ry="1.44" opacity="0.76"/>
<ellipse transform="rotate(163 933.0 326.8)" cx="933.0" cy="326.8" rx="1.92" ry="1.44" opacity="0.49"/>
<ellipse transform="rotate(132 867.9 349.1)" cx="867.9" cy="349.1" rx="2.48" ry="1.86" opacity="0.62"/>
<ellipse transform="rotate(13 964.3 302.4)" cx="964.3" cy="302.4" rx="2.11" ry="1.58" opacity="0.41"/>
<ellipse transform="rotate(9 922.1 324.3)" cx="922.1" cy="324.3" rx="1.88" ry="1.41" opacity="0.66"/>
<ellipse transform="rotate(71 933.1 295.1)" cx="933.1" cy="295.1" rx="1.77" ry="1.33" opacity="0.46"/>
<ellipse transform="rotate(120 869.8 369.7)" cx="869.8" cy="369.7" rx="2.56" ry="1.92" opacity="0.74"/>
<ellipse transform="rotate(134 918.6 357.9)" cx="918.6" cy="357.9" rx="1.67" ry="1.25" opacity="0.61"/>
<ellipse transform="rotate(22 985.2 279.5)" cx="985.2" cy="279.5" rx="2.35" ry="1.76" opacity="0.59"/>
<ellipse transform="rotate(54 991.8 268.7)" cx="991.8" cy="268.7" rx="1.69" ry="1.27" opacity="0.50"/>
<ellipse transform="rotate(72 869.0 367.9)" cx="869.0" cy="367.9" rx="2.38" ry="1.78" opacity="0.51"/>
<ellipse transform="rotate(162 941.3 273.7)" cx="941.3" cy="273.7" rx="1.44" ry="1.08" opacity="0.49"/>
<ellipse transform="rotate(85 929.2 372.2)" cx="929.2" cy="372.2" rx="2.57" ry="1.93" opacity="0.44"/>
<ellipse transform="rotate(35 901.1 370.9)" cx="901.1" cy="370.9" rx="2.48" ry="1.86" opacity="0.73"/>
<ellipse transform="rotate(158 909.3 321.0)" cx="909.3" cy="321.0" rx="1.61" ry="1.20" opacity="0.80"/>
<ellipse transform="rotate(158 888.2 338.7)" cx="888.2" cy="338.7" rx="1.63" ry="1.22" opacity="0.37"/>
<ellipse transform="rotate(162 875.0 349.1)" cx="875.0" cy="349.1" rx="1.78" ry="1.33" opacity="0.74"/>
<ellipse transform="rotate(169 958.9 283.6)" cx="958.9" cy="283.6" rx="2.24" ry="1.68" opacity="0.55"/>
<ellipse transform="rotate(128 871.2 293.4)" cx="871.2" cy="293.4" rx="1.77" ry="1.33" opacity="0.44"/>
<ellipse transform="rotate(142 885.3 294.7)" cx="885.3" cy="294.7" rx="2.20" ry="1.65" opacity="0.52"/>
<ellipse transform="rotate(41 951.9 366.7)" cx="951.9" cy="366.7" rx="2.11" ry="1.58" opacity="0.49"/>
<ellipse transform="rotate(115 988.5 342.6)" cx="988.5" cy="342.6" rx="1.73" ry="1.30" opacity="0.39"/>
<ellipse transform="rotate(96 996.3 317.4)" cx="996.3" cy="317.4" rx="2.03" ry="1.53" opacity="0.37"/>
<ellipse transform="rotate(145 943.2 300.2)" cx="943.2" cy="300.2" rx="1.70" ry="1.28" opacity="0.39"/>
<ellipse transform="rotate(50 899.7 352.4)" cx="899.7" cy="352.4" rx="1.70" ry="1.27" opacity="0.60"/>
<ellipse transform="rotate(6 886.1 368.1)" cx="886.1" cy="368.1" rx="2.59" ry="1.94" opacity="0.56"/>
<ellipse transform="rotate(90 964.1 311.3)" cx="964.1" cy="311.3" rx="2.52" ry="1.89" opacity="0.43"/>
<ellipse transform="rotate(118 937.2 340.1)" cx="937.2" cy="340.1" rx="1.83" ry="1.37" opacity="0.70"/>
<ellipse transform="rotate(123 931.8 324.7)" cx="931.8" cy="324.7" rx="2.41" ry="1.81" opacity="0.58"/>
<ellipse transform="rotate(30 991.9 287.9)" cx="991.9" cy="287.9" rx="2.34" ry="1.75" opacity="0.62"/>
<ellipse transform="rotate(142 892.8 317.4)" cx="892.8" cy="317.4" rx="2.33" ry="1.75" opacity="0.71"/>
<ellipse transform="rotate(104 892.9 322.8)" cx="892.9" cy="322.8" rx="1.67" ry="1.25" opacity="0.57"/>
<ellipse transform="rotate(103 865.2 334.8)" cx="865.2" cy="334.8" rx="2.26" ry="1.69" opacity="0.74"/>
<ellipse transform="rotate(89 885.2 285.4)" cx="885.2" cy="285.4" rx="1.42" ry="1.07" opacity="0.55"/>
<ellipse transform="rotate(13 921.4 297.8)" cx="921.4" cy="297.8" rx="2.36" ry="1.77" opacity="0.76"/>
<ellipse transform="rotate(43 939.0 328.8)" cx="939.0" cy="328.8" rx="2.35" ry="1.76" opacity="0.42"/>
<ellipse transform="rotate(112 903.3 273.3)" cx="903.3" cy="273.3" rx="1.78" ry="1.33" opacity="0.59"/>
<ellipse transform="rotate(148 896.9 333.9)" cx="896.9" cy="333.9" rx="1.51" ry="1.13" opacity="0.43"/>
<ellipse transform="rotate(150 895.5 286.3)" cx="895.5" cy="286.3" rx="2.23" ry="1.67" opacity="0.70"/>
<ellipse transform="rotate(39 868.8 314.1)" cx="868.8" cy="314.1" rx="1.84" ry="1.38" opacity="0.79"/>
<ellipse transform="rotate(178 866.1 322.9)" cx="866.1" cy="322.9" rx="2.31" ry="1.74" opacity="0.42"/>
<ellipse transform="rotate(43 923.3 351.2)" cx="923.3" cy="351.2" rx="1.45" ry="1.09" opacity="0.75"/>
<ellipse transform="rotate(76 879.9 312.2)" cx="879.9" cy="312.2" rx="1.76" ry="1.32" opacity="0.38"/>
<ellipse transform="rotate(132 865.0 379.1)" cx="865.0" cy="379.1" rx="2.32" ry="1.74" opacity="0.45"/>
<ellipse transform="rotate(83 895.3 329.8)" cx="895.3" cy="329.8" rx="1.69" ry="1.27" opacity="0.77"/>
<ellipse transform="rotate(110 910.6 306.0)" cx="910.6" cy="306.0" rx="2.58" ry="1.93" opacity="0.37"/>
<ellipse transform="rotate(62 916.0 340.7)" cx="916.0" cy="340.7" rx="1.47" ry="1.10" opacity="0.66"/>
<ellipse transform="rotate(83 979.8 334.1)" cx="979.8" cy="334.1" rx="2.46" ry="1.85" opacity="0.53"/>
<ellipse transform="rotate(39 976.9 310.9)" cx="976.9" cy="310.9" rx="2.34" ry="1.75" opacity="0.51"/>
<ellipse transform="rotate(37 885.7 329.5)" cx="885.7" cy="329.5" rx="1.60" ry="1.20" opacity="0.45"/>
<ellipse transform="rotate(179 925.0 302.8)" cx="925.0" cy="302.8" rx="1.94" ry="1.45" opacity="0.66"/>
<ellipse transform="rotate(13 979.6 291.3)" cx="979.6" cy="291.3" rx="1.86" ry="1.39" opacity="0.66"/>
<ellipse transform="rotate(33 910.5 299.0)" cx="910.5" cy="299.0" rx="1.42" ry="1.07" opacity="0.47"/>
<ellipse transform="rotate(48 914.6 371.0)" cx="914.6" cy="371.0" rx="2.26" ry="1.69" opacity="0.51"/>
<ellipse transform="rotate(138 881.5 372.5)" cx="881.5" cy="372.5" rx="1.83" ry="1.37" opacity="0.68"/>
<ellipse transform="rotate(69 985.7 270.9)" cx="985.7" cy="270.9" rx="1.79" ry="1.34" opacity="0.39"/>
<ellipse transform="rotate(93 982.3 304.7)" cx="982.3" cy="304.7" rx="2.32" ry="1.74" opacity="0.37"/>
<ellipse transform="rotate(27 914.8 295.0)" cx="914.8" cy="295.0" rx="1.45" ry="1.09" opacity="0.62"/>
<ellipse transform="rotate(98 864.7 303.2)" cx="864.7" cy="303.2" rx="1.91" ry="1.43" opacity="0.41"/>
<ellipse transform="rotate(120 958.0 297.5)" cx="958.0" cy="297.5" rx="2.27" ry="1.70" opacity="0.42"/>
<ellipse transform="rotate(73 888.6 299.7)" cx="888.6" cy="299.7" rx="2.26" ry="1.69" opacity="0.52"/>
<ellipse transform="rotate(62 980.1 293.7)" cx="980.1" cy="293.7" rx="1.75" ry="1.31" opacity="0.45"/>
<ellipse transform="rotate(102 865.9 271.3)" cx="865.9" cy="271.3" rx="2.16" ry="1.62" opacity="0.71"/>
<ellipse transform="rotate(165 995.2 301.7)" cx="995.2" cy="301.7" rx="2.20" ry="1.65" opacity="0.45"/>
<ellipse transform="rotate(156 955.6 342.5)" cx="955.6" cy="342.5" rx="2.55" ry="1.91" opacity="0.46"/>
<ellipse transform="rotate(71 947.8 278.6)" cx="947.8" cy="278.6" rx="1.91" ry="1.43" opacity="0.38"/>
<ellipse transform="rotate(50 913.3 305.0)" cx="913.3" cy="305.0" rx="2.00" ry="1.50" opacity="0.42"/>
<ellipse transform="rotate(120 916.0 321.3)" cx="916.0" cy="321.3" rx="1.60" ry="1.20" opacity="0.46"/>
<ellipse transform="rotate(27 873.2 306.5)" cx="873.2" cy="306.5" rx="1.91" ry="1.43" opacity="0.61"/>
<ellipse transform="rotate(4 957.3 329.9)" cx="957.3" cy="329.9" rx="2.24" ry="1.68" opacity="0.53"/>
<ellipse transform="rotate(10 910.7 275.6)" cx="910.7" cy="275.6" rx="1.89" ry="1.41" opacity="0.57"/>
<ellipse transform="rotate(46 941.3 320.6)" cx="941.3" cy="320.6" rx="1.79" ry="1.34" opacity="0.36"/>
<ellipse transform="rotate(47 908.3 367.5)" cx="908.3" cy="367.5" rx="2.08" ry="1.56" opacity="0.65"/>
<ellipse transform="rotate(172 886.0 320.6)" cx="886.0" cy="320.6" rx="2.14" ry="1.60" opacity="0.51"/>
<ellipse transform="rotate(113 940.0 373.1)" cx="940.0" cy="373.1" rx="2.33" ry="1.74" opacity="0.63"/>
<ellipse transform="rotate(149 917.1 314.7)" cx="917.1" cy="314.7" rx="1.73" ry="1.30" opacity="0.75"/>
<ellipse transform="rotate(24 913.1 369.5)" cx="913.1" cy="369.5" rx="1.45" ry="1.08" opacity="0.58"/>
<ellipse transform="rotate(27 903.0 308.6)" cx="903.0" cy="308.6" rx="2.57" ry="1.93" opacity="0.44"/>
<ellipse transform="rotate(0 891.9 344.0)" cx="891.9" cy="344.0" rx="1.68" ry="1.26" opacity="0.59"/>
<ellipse transform="rotate(117 914.8 295.1)" cx="914.8" cy="295.1" rx="1.99" ry="1.49" opacity="0.60"/>
<ellipse transform="rotate(174 946.7 330.8)" cx="946.7" cy="330.8" rx="2.40" ry="1.80" opacity="0.50"/>
<ellipse transform="rotate(129 908.2 366.9)" cx="908.2" cy="366.9" rx="1.78" ry="1.33" opacity="0.66"/>
<ellipse transform="rotate(29 955.3 375.5)" cx="955.3" cy="375.5" rx="2.39" ry="1.79" opacity="0.63"/>
<ellipse transform="rotate(51 928.2 331.1)" cx="928.2" cy="331.1" rx="1.84" ry="1.38" opacity="0.69"/>
<ellipse transform="rotate(58 934.2 294.9)" cx="934.2" cy="294.9" rx="1.70" ry="1.27" opacity="0.43"/>
<ellipse transform="rotate(12 931.4 282.6)" cx="931.4" cy="282.6" rx="1.48" ry="1.11" opacity="0.40"/>
<ellipse transform="rotate(139 957.8 281.1)" cx="957.8" cy="281.1" rx="1.94" ry="1.46" opacity="0.57"/>
<ellipse transform="rotate(10 882.8 364.7)" cx="882.8" cy="364.7" rx="2.44" ry="1.83" opacity="0.46"/>
<ellipse transform="rotate(129 930.5 356.9)" cx="930.5" cy="356.9" rx="1.87" ry="1.40" opacity="0.46"/>
<ellipse transform="rotate(137 959.3 304.8)" cx="959.3" cy="304.8" rx="1.80" ry="1.35" opacity="0.73"/>
<ellipse transform="rotate(127 974.9 331.5)" cx="974.9" cy="331.5" rx="1.90" ry="1.43" opacity="0.63"/>
<ellipse transform="rotate(68 975.2 357.5)" cx="975.2" cy="357.5" rx="1.55" ry="1.16" opacity="0.65"/>
<ellipse transform="rotate(105 892.3 289.1)" cx="892.3" cy="289.1" rx="1.42" ry="1.06" opacity="0.77"/>
<ellipse transform="rotate(75 994.5 283.4)" cx="994.5" cy="283.4" rx="2.23" ry="1.67" opacity="0.63"/>
<ellipse transform="rotate(9 915.2 372.1)" cx="915.2" cy="372.1" rx="2.59" ry="1.94" opacity="0.67"/>
<ellipse transform="rotate(132 876.7 273.3)" cx="876.7" cy="273.3" rx="1.74" ry="1.31" opacity="0.80"/>
<ellipse transform="rotate(98 876.9 305.2)" cx="876.9" cy="305.2" rx="1.43" ry="1.07" opacity="0.57"/>
<ellipse transform="rotate(151 911.9 302.9)" cx="911.9" cy="302.9" rx="2.36" ry="1.77" opacity="0.48"/>
<ellipse transform="rotate(177 914.5 337.1)" cx="914.5" cy="337.1" rx="2.32" ry="1.74" opacity="0.53"/>
<ellipse transform="rotate(26 956.3 329.1)" cx="956.3" cy="329.1" rx="2.36" ry="1.77" opacity="0.43"/>
<ellipse transform="rotate(88 875.1 372.1)" cx="875.1" cy="372.1" rx="1.70" ry="1.28" opacity="0.40"/>
<ellipse transform="rotate(26 905.1 270.7)" cx="905.1" cy="270.7" rx="2.08" ry="1.56" opacity="0.63"/>
<ellipse transform="rotate(66 898.2 293.8)" cx="898.2" cy="293.8" rx="1.98" ry="1.48" opacity="0.47"/>
<ellipse transform="rotate(56 867.4 275.7)" cx="867.4" cy="275.7" rx="2.47" ry="1.85" opacity="0.39"/>
<ellipse transform="rotate(36 885.5 322.2)" cx="885.5" cy="322.2" rx="2.60" ry="1.95" opacity="0.74"/>
<ellipse transform="rotate(71 927.3 314.6)" cx="927.3" cy="314.6" rx="2.37" ry="1.78" opacity="0.38"/>
<ellipse transform="rotate(50 936.4 341.4)" cx="936.4" cy="341.4" rx="2.15" ry="1.61" opacity="0.77"/>
<ellipse transform="rotate(150 979.9 378.9)" cx="979.9" cy="378.9" rx="1.93" ry="1.45" opacity="0.68"/>
<ellipse transform="rotate(21 884.6 271.6)" cx="884.6" cy="271.6" rx="1.60" ry="1.20" opacity="0.38"/>
<ellipse transform="rotate(93 909.9 352.2)" cx="909.9" cy="352.2" rx="1.77" ry="1.33" opacity="0.35"/>
<ellipse transform="rotate(95 889.4 375.0)" cx="889.4" cy="375.0" rx="1.41" ry="1.06" opacity="0.71"/>
<ellipse transform="rotate(145 969.9 350.2)" cx="969.9" cy="350.2" rx="1.88" ry="1.41" opacity="0.72"/>
<ellipse transform="rotate(171 966.5 377.9)" cx="966.5" cy="377.9" rx="1.52" ry="1.14" opacity="0.53"/>
<ellipse transform="rotate(4 957.8 296.4)" cx="957.8" cy="296.4" rx="2.49" ry="1.87" opacity="0.61"/>
<ellipse transform="rotate(118 891.7 311.7)" cx="891.7" cy="311.7" rx="1.84" ry="1.38" opacity="0.71"/>
<ellipse transform="rotate(50 910.7 339.4)" cx="910.7" cy="339.4" rx="1.82" ry="1.37" opacity="0.76"/>
<ellipse transform="rotate(133 904.8 279.0)" cx="904.8" cy="279.0" rx="1.80" ry="1.35" opacity="0.45"/>
<ellipse transform="rotate(32 963.1 329.2)" cx="963.1" cy="329.2" rx="2.22" ry="1.66" opacity="0.40"/>
<ellipse transform="rotate(2 880.1 307.5)" cx="880.1" cy="307.5" rx="1.92" ry="1.44" opacity="0.58"/>
<ellipse transform="rotate(171 916.1 304.3)" cx="916.1" cy="304.3" rx="2.04" ry="1.53" opacity="0.44"/>
<ellipse transform="rotate(20 982.1 304.2)" cx="982.1" cy="304.2" rx="2.30" ry="1.73" opacity="0.79"/>
<ellipse transform="rotate(73 919.8 375.4)" cx="919.8" cy="375.4" rx="1.66" ry="1.25" opacity="0.67"/>
<ellipse transform="rotate(171 884.9 298.9)" cx="884.9" cy="298.9" rx="2.21" ry="1.66" opacity="0.50"/>
<ellipse transform="rotate(27 885.7 308.2)" cx="885.7" cy="308.2" rx="2.59" ry="1.94" opacity="0.64"/>
<ellipse transform="rotate(111 912.6 340.0)" cx="912.6" cy="340.0" rx="1.65" ry="1.24" opacity="0.75"/>
<ellipse transform="rotate(102 978.7 338.3)" cx="978.7" cy="338.3" rx="2.01" ry="1.50" opacity="0.40"/>
<ellipse transform="rotate(120 976.1 345.1)" cx="976.1" cy="345.1" rx="1.94" ry="1.46" opacity="0.54"/>
<ellipse transform="rotate(103 913.5 294.1)" cx="913.5" cy="294.1" rx="2.12" ry="1.59" opacity="0.58"/>
<ellipse transform="rotate(107 864.8 338.2)" cx="864.8" cy="338.2" rx="1.94" ry="1.45" opacity="0.62"/>
<ellipse transform="rotate(179 989.1 285.4)" cx="989.1" cy="285.4" rx="1.96" ry="1.47" opacity="0.68"/>
<ellipse transform="rotate(72 903.6 350.3)" cx="903.6" cy="350.3" rx="2.59" ry="1.94" opacity="0.74"/>
<ellipse transform="rotate(42 877.8 378.4)" cx="877.8" cy="378.4" rx="1.99" ry="1.49" opacity="0.73"/>
<ellipse transform="rotate(144 950.1 372.6)" cx="950.1" cy="372.6" rx="2.40" ry="1.80" opacity="0.58"/>
<ellipse transform="rotate(128 997.7 275.8)" cx="997.7" cy="275.8" rx="2.44" ry="1.83" opacity="0.46"/>
<ellipse transform="rotate(156 971.9 319.0)" cx="971.9" cy="319.0" rx="2.04" ry="1.53" opacity="0.44"/>
<ellipse transform="rotate(100 899.0 340.0)" cx="899.0" cy="340.0" rx="1.49" ry="1.12" opacity="0.70"/>
<ellipse transform="rotate(154 928.2 295.4)" cx="928.2" cy="295.4" rx="2.36" ry="1.77" opacity="0.70"/>
<ellipse transform="rotate(27 936.3 369.0)" cx="936.3" cy="369.0" rx="2.36" ry="1.77" opacity="0.51"/>
<ellipse transform="rotate(156 874.2 272.7)" cx="874.2" cy="272.7" rx="1.81" ry="1.36" opacity="0.73"/>
<ellipse transform="rotate(153 876.5 288.8)" cx="876.5" cy="288.8" rx="1.87" ry="1.40" opacity="0.63"/>
<ellipse transform="rotate(37 985.0 276.6)" cx="985.0" cy="276.6" rx="2.59" ry="1.94" opacity="0.63"/>
<ellipse transform="rotate(120 981.5 349.3)" cx="981.5" cy="349.3" rx="1.64" ry="1.23" opacity="0.54"/>
<ellipse transform="rotate(113 862.4 306.3)" cx="862.4" cy="306.3" rx="1.78" ry="1.33" opacity="0.48"/>
<ellipse transform="rotate(23 943.7 345.7)" cx="943.7" cy="345.7" rx="1.62" ry="1.21" opacity="0.66"/>
<ellipse transform="rotate(169 924.8 282.9)" cx="924.8" cy="282.9" rx="1.54" ry="1.15" opacity="0.62"/>
<ellipse transform="rotate(124 909.7 290.4)" cx="909.7" cy="290.4" rx="2.59" ry="1.95" opacity="0.68"/>
<ellipse transform="rotate(26 910.1 303.0)" cx="910.1" cy="303.0" rx="1.89" ry="1.42" opacity="0.63"/>
<ellipse transform="rotate(82 919.0 359.6)" cx="919.0" cy="359.6" rx="1.89" ry="1.42" opacity="0.58"/>
<ellipse transform="rotate(42 990.5 307.0)" cx="990.5" cy="307.0" rx="2.24" ry="1.68" opacity="0.61"/>
<ellipse transform="rotate(154 899.7 365.4)" cx="899.7" cy="365.4" rx="1.74" ry="1.31" opacity="0.65"/>
<ellipse transform="rotate(134 923.2 372.1)" cx="923.2" cy="372.1" rx="1.87" ry="1.40" opacity="0.62"/>
<ellipse transform="rotate(51 922.3 275.7)" cx="922.3" cy="275.7" rx="1.90" ry="1.43" opacity="0.55"/>
<ellipse transform="rotate(121 992.3 301.1)" cx="992.3" cy="301.1" rx="2.23" ry="1.68" opacity="0.46"/>
<ellipse transform="rotate(45 917.2 283.3)" cx="917.2" cy="283.3" rx="2.47" ry="1.86" opacity="0.54"/>
<ellipse transform="rotate(106 907.5 359.6)" cx="907.5" cy="359.6" rx="2.42" ry="1.82" opacity="0.60"/>
<ellipse transform="rotate(65 874.1 368.0)" cx="874.1" cy="368.0" rx="1.51" ry="1.13" opacity="0.52"/>
<ellipse transform="rotate(162 960.3 342.8)" cx="960.3" cy="342.8" rx="1.81" ry="1.36" opacity="0.78"/>
<ellipse transform="rotate(65 863.5 338.8)" cx="863.5" cy="338.8" rx="1.96" ry="1.47" opacity="0.56"/>
<ellipse transform="rotate(175 904.0 343.0)" cx="904.0" cy="343.0" rx="2.13" ry="1.59" opacity="0.79"/>
<ellipse transform="rotate(117 997.6 312.4)" cx="997.6" cy="312.4" rx="2.39" ry="1.80" opacity="0.67"/>
<ellipse transform="rotate(72 998.3 276.0)" cx="998.3" cy="276.0" rx="1.95" ry="1.47" opacity="0.65"/>
<ellipse transform="rotate(67 890.5 378.4)" cx="890.5" cy="378.4" rx="1.65" ry="1.24" opacity="0.41"/>
<ellipse transform="rotate(30 914.9 350.9)" cx="914.9" cy="350.9" rx="1.50" ry="1.13" opacity="0.64"/>
<ellipse transform="rotate(146 946.5 350.9)" cx="946.5" cy="350.9" rx="1.70" ry="1.28" opacity="0.68"/>
<ellipse transform="rotate(3 967.6 281.9)" cx="967.6" cy="281.9" rx="1.96" ry="1.47" opacity="0.74"/>
<ellipse transform="rotate(63 990.9 367.9)" cx="990.9" cy="367.9" rx="1.43" ry="1.07" opacity="0.59"/>
<ellipse transform="rotate(54 934.1 280.9)" cx="934.1" cy="280.9" rx="2.35" ry="1.76" opacity="0.58"/>
<ellipse transform="rotate(16 877.5 331.6)" cx="877.5" cy="331.6" rx="1.56" ry="1.17" opacity="0.58"/>
<ellipse transform="rotate(75 901.0 354.8)" cx="901.0" cy="354.8" rx="1.70" ry="1.27" opacity="0.37"/>
<ellipse transform="rotate(83 890.4 318.7)" cx="890.4" cy="318.7" rx="2.07" ry="1.55" opacity="0.73"/>
<ellipse transform="rotate(175 874.7 362.9)" cx="874.7" cy="362.9" rx="1.59" ry="1.19" opacity="0.59"/>
<ellipse transform="rotate(173 916.5 336.5)" cx="916.5" cy="336.5" rx="2.44" ry="1.83" opacity="0.54"/>
<ellipse transform="rotate(132 861.8 285.7)" cx="861.8" cy="285.7" rx="2.38" ry="1.79" opacity="0.67"/>
<ellipse transform="rotate(20 882.0 327.5)" cx="882.0" cy="327.5" rx="1.43" ry="1.08" opacity="0.49"/>
<ellipse transform="rotate(8 993.9 339.9)" cx="993.9" cy="339.9" rx="2.42" ry="1.81" opacity="0.54"/>
<ellipse transform="rotate(165 871.1 297.5)" cx="871.1" cy="297.5" rx="1.53" ry="1.15" opacity="0.50"/>
<ellipse transform="rotate(170 927.9 341.1)" cx="927.9" cy="341.1" rx="2.46" ry="1.85" opacity="0.61"/>
<ellipse transform="rotate(54 929.6 368.8)" cx="929.6" cy="368.8" rx="1.87" ry="1.41" opacity="0.68"/>
<ellipse transform="rotate(86 896.0 309.4)" cx="896.0" cy="309.4" rx="1.92" ry="1.44" opacity="0.51"/>
<ellipse transform="rotate(150 919.8 318.6)" cx="919.8" cy="318.6" rx="1.46" ry="1.09" opacity="0.38"/>
<ellipse transform="rotate(40 933.3 329.3)" cx="933.3" cy="329.3" rx="1.88" ry="1.41" opacity="0.39"/>
<ellipse transform="rotate(41 911.7 303.5)" cx="911.7" cy="303.5" rx="1.98" ry="1.49" opacity="0.69"/>
<ellipse transform="rotate(174 927.7 269.6)" cx="927.7" cy="269.6" rx="1.89" ry="1.42" opacity="0.35"/>
<ellipse transform="rotate(108 942.4 375.2)" cx="942.4" cy="375.2" rx="1.84" ry="1.38" opacity="0.52"/>
<ellipse transform="rotate(57 902.0 336.2)" cx="902.0" cy="336.2" rx="2.11" ry="1.58" opacity="0.57"/>
<ellipse transform="rotate(17 931.7 352.2)" cx="931.7" cy="352.2" rx="1.46" ry="1.10" opacity="0.46"/>
<ellipse transform="rotate(155 897.7 356.8)" cx="897.7" cy="356.8" rx="1.91" ry="1.43" opacity="0.53"/>
<ellipse transform="rotate(177 899.8 344.0)" cx="899.8" cy="344.0" rx="1.50" ry="1.13" opacity="0.72"/>
<ellipse transform="rotate(142 905.7 303.8)" cx="905.7" cy="303.8" rx="2.38" ry="1.79" opacity="0.64"/>
<ellipse transform="rotate(112 868.1 353.3)" cx="868.1" cy="353.3" rx="1.46" ry="1.09" opacity="0.60"/>
<ellipse transform="rotate(168 988.5 339.4)" cx="988.5" cy="339.4" rx="1.43" ry="1.07" opacity="0.69"/>
<ellipse transform="rotate(75 940.5 269.2)" cx="940.5" cy="269.2" rx="2.28" ry="1.71" opacity="0.66"/>
<ellipse transform="rotate(141 996.3 370.3)" cx="996.3" cy="370.3" rx="1.49" ry="1.12" opacity="0.55"/>
<ellipse transform="rotate(79 964.2 310.5)" cx="964.2" cy="310.5" rx="1.94" ry="1.45" opacity="0.40"/>
<ellipse transform="rotate(21 904.5 350.1)" cx="904.5" cy="350.1" rx="1.49" ry="1.11" opacity="0.73"/>
<ellipse transform="rotate(21 952.4 329.4)" cx="952.4" cy="329.4" rx="1.54" ry="1.15" opacity="0.49"/>
<ellipse transform="rotate(38 992.2 330.7)" cx="992.2" cy="330.7" rx="2.51" ry="1.88" opacity="0.54"/>
<ellipse transform="rotate(157 934.5 361.7)" cx="934.5" cy="361.7" rx="1.55" ry="1.16" opacity="0.56"/>
<ellipse transform="rotate(121 864.6 316.5)" cx="864.6" cy="316.5" rx="1.85" ry="1.39" opacity="0.77"/>
<ellipse transform="rotate(140 928.6 345.1)" cx="928.6" cy="345.1" rx="1.87" ry="1.40" opacity="0.40"/>
<ellipse transform="rotate(36 963.0 287.1)" cx="963.0" cy="287.1" rx="2.10" ry="1.58" opacity="0.51"/>
<ellipse transform="rotate(94 883.0 307.4)" cx="883.0" cy="307.4" rx="2.11" ry="1.58" opacity="0.52"/>
<ellipse transform="rotate(105 939.7 362.0)" cx="939.7" cy="362.0" rx="1.83" ry="1.37" opacity="0.57"/>
<ellipse transform="rotate(42 995.9 305.0)" cx="995.9" cy="305.0" rx="2.24" ry="1.68" opacity="0.47"/>
<ellipse transform="rotate(12 961.3 332.4)" cx="961.3" cy="332.4" rx="1.71" ry="1.28" opacity="0.72"/>
<ellipse transform="rotate(111 912.5 348.1)" cx="912.5" cy="348.1" rx="1.92" ry="1.44" opacity="0.60"/>
<ellipse transform="rotate(88 995.2 369.5)" cx="995.2" cy="369.5" rx="1.95" ry="1.46" opacity="0.45"/>
<ellipse transform="rotate(153 964.5 279.9)" cx="964.5" cy="279.9" rx="1.77" ry="1.33" opacity="0.37"/>
<ellipse transform="rotate(60 956.9 331.6)" cx="956.9" cy="331.6" rx="2.06" ry="1.55" opacity="0.42"/>
<ellipse transform="rotate(18 991.8 353.4)" cx="991.8" cy="353.4" rx="2.37" ry="1.78" opacity="0.70"/>
<ellipse transform="rotate(110 890.5 290.7)" cx="890.5" cy="290.7" rx="2.04" ry="1.53" opacity="0.40"/>
<ellipse transform="rotate(166 966.1 333.2)" cx="966.1" cy="333.2" rx="2.48" ry="1.86" opacity="0.66"/>
<ellipse transform="rotate(52 910.6 374.1)" cx="910.6" cy="374.1" rx="2.26" ry="1.70" opacity="0.74"/>
<ellipse transform="rotate(4 960.8 298.0)" cx="960.8" cy="298.0" rx="1.70" ry="1.27" opacity="0.59"/>
<ellipse transform="rotate(24 895.4 301.1)" cx="895.4" cy="301.1" rx="1.70" ry="1.28" opacity="0.57"/>
<ellipse transform="rotate(92 898.0 300.2)" cx="898.0" cy="300.2" rx="1.73" ry="1.30" opacity="0.74"/>
<ellipse transform="rotate(110 882.4 363.9)" cx="882.4" cy="363.9" rx="2.43" ry="1.82" opacity="0.59"/>
<ellipse transform="rotate(165 961.8 327.9)" cx="961.8" cy="327.9" rx="2.19" ry="1.64" opacity="0.70"/>
<ellipse transform="rotate(65 896.2 274.6)" cx="896.2" cy="274.6" rx="2.52" ry="1.89" opacity="0.70"/>
<ellipse transform="rotate(131 892.6 318.8)" cx="892.6" cy="318.8" rx="1.84" ry="1.38" opacity="0.77"/>
<ellipse transform="rotate(42 930.2 331.4)" cx="930.2" cy="331.4" rx="1.82" ry="1.36" opacity="0.78"/>
<ellipse transform="rotate(13 875.5 372.9)" cx="875.5" cy="372.9" rx="2.19" ry="1.64" opacity="0.76"/>
<ellipse transform="rotate(178 874.4 331.3)" cx="874.4" cy="331.3" rx="1.54" ry="1.16" opacity="0.49"/>
<ellipse transform="rotate(12 980.9 275.4)" cx="980.9" cy="275.4" rx="2.20" ry="1.65" opacity="0.36"/>
<ellipse transform="rotate(154 939.3 377.6)" cx="939.3" cy="377.6" rx="2.22" ry="1.67" opacity="0.70"/>
<ellipse transform="rotate(33 932.4 277.2)" cx="932.4" cy="277.2" rx="2.03" ry="1.52" opacity="0.59"/>
<ellipse transform="rotate(127 909.3 323.9)" cx="909.3" cy="323.9" rx="1.64" ry="1.23" opacity="0.54"/>
<ellipse transform="rotate(100 927.5 277.3)" cx="927.5" cy="277.3" rx="1.98" ry="1.49" opacity="0.79"/>
<ellipse transform="rotate(60 937.9 283.6)" cx="937.9" cy="283.6" rx="1.76" ry="1.32" opacity="0.67"/>
<ellipse transform="rotate(167 990.1 376.8)" cx="990.1" cy="376.8" rx="2.54" ry="1.90" opacity="0.74"/>
<ellipse transform="rotate(106 989.6 270.8)" cx="989.6" cy="270.8" rx="1.99" ry="1.49" opacity="0.66"/>
<ellipse transform="rotate(16 945.0 336.6)" cx="945.0" cy="336.6" rx="2.52" ry="1.89" opacity="0.58"/>
<ellipse transform="rotate(156 993.0 272.1)" cx="993.0" cy="272.1" rx="1.53" ry="1.15" opacity="0.78"/>
<ellipse transform="rotate(124 863.6 272.1)" cx="863.6" cy="272.1" rx="2.40" ry="1.80" opacity="0.58"/>
<ellipse transform="rotate(0 940.5 352.6)" cx="940.5" cy="352.6" rx="2.37" ry="1.78" opacity="0.38"/>
<ellipse transform="rotate(73 970.1 376.8)" cx="970.1" cy="376.8" rx="2.40" ry="1.80" opacity="0.50"/>
<ellipse transform="rotate(47 908.3 270.3)" cx="908.3" cy="270.3" rx="2.32" ry="1.74" opacity="0.61"/>
<ellipse transform="rotate(82 933.1 305.8)" cx="933.1" cy="305.8" rx="2.21" ry="1.66" opacity="0.46"/>
<ellipse transform="rotate(46 982.3 288.1)" cx="982.3" cy="288.1" rx="1.58" ry="1.18" opacity="0.57"/>
<ellipse transform="rotate(118 968.7 305.5)" cx="968.7" cy="305.5" rx="1.69" ry="1.26" opacity="0.47"/>
<ellipse transform="rotate(33 932.6 296.9)" cx="932.6" cy="296.9" rx="2.45" ry="1.84" opacity="0.45"/>
<ellipse transform="rotate(121 902.0 305.2)" cx="902.0" cy="305.2" rx="2.27" ry="1.70" opacity="0.71"/>
<ellipse transform="rotate(44 935.0 277.3)" cx="935.0" cy="277.3" rx="2.32" ry="1.74" opacity="0.45"/>
<ellipse transform="rotate(64 917.6 378.4)" cx="917.6" cy="378.4" rx="1.84" ry="1.38" opacity="0.76"/>
<ellipse transform="rotate(142 997.3 311.5)" cx="997.3" cy="311.5" rx="1.56" ry="1.17" opacity="0.70"/>
<ellipse transform="rotate(52 907.1 356.3)" cx="907.1" cy="356.3" rx="1.86" ry="1.39" opacity="0.62"/>
<ellipse transform="rotate(2 962.9 321.4)" cx="962.9" cy="321.4" rx="2.38" ry="1.79" opacity="0.57"/>
<ellipse transform="rotate(26 912.9 275.8)" cx="912.9" cy="275.8" rx="2.50" ry="1.87" opacity="0.44"/>
<ellipse transform="rotate(62 981.7 375.1)" cx="981.7" cy="375.1" rx="2.52" ry="1.89" opacity="0.77"/>
<ellipse transform="rotate(35 879.9 347.8)" cx="879.9" cy="347.8" rx="2.53" ry="1.90" opacity="0.41"/>
<ellipse transform="rotate(171 954.1 366.5)" cx="954.1" cy="366.5" rx="2.27" ry="1.70" opacity="0.55"/>
<ellipse transform="rotate(169 911.8 281.9)" cx="911.8" cy="281.9" rx="1.73" ry="1.30" opacity="0.38"/>
<ellipse transform="rotate(55 885.9 307.1)" cx="885.9" cy="307.1" rx="1.46" ry="1.09" opacity="0.43"/>
<ellipse transform="rotate(102 877.3 327.0)" cx="877.3" cy="327.0" rx="2.05" ry="1.54" opacity="0.69"/>
<ellipse transform="rotate(40 933.1 373.6)" cx="933.1" cy="373.6" rx="1.50" ry="1.12" opacity="0.38"/>
<ellipse transform="rotate(91 903.1 353.0)" cx="903.1" cy="353.0" rx="2.51" ry="1.88" opacity="0.42"/>
<ellipse transform="rotate(143 906.0 331.6)" cx="906.0" cy="331.6" rx="1.75" ry="1.31" opacity="0.79"/>
<ellipse transform="rotate(84 923.9 335.5)" cx="923.9" cy="335.5" rx="2.42" ry="1.81" opacity="0.44"/>
<ellipse transform="rotate(137 990.9 377.1)" cx="990.9" cy="377.1" rx="1.43" ry="1.07" opacity="0.53"/>
<ellipse transform="rotate(133 867.5 286.7)" cx="867.5" cy="286.7" rx="1.61" ry="1.21" opacity="0.45"/>
<ellipse transform="rotate(90 863.0 293.0)" cx="863.0" cy="293.0" rx="2.36" ry="1.77" opacity="0.64"/>
<ellipse transform="rotate(55 924.6 288.8)" cx="924.6" cy="288.8" rx="1.42" ry="1.06" opacity="0.37"/>
<ellipse transform="rotate(85 896.3 337.2)" cx="896.3" cy="337.2" rx="1.84" ry="1.38" opacity="0.63"/>
<ellipse transform="rotate(105 904.2 308.1)" cx="904.2" cy="308.1" rx="2.46" ry="1.85" opacity="0.54"/>
<ellipse transform="rotate(164 935.0 319.7)" cx="935.0" cy="319.7" rx="1.80" ry="1.35" opacity="0.46"/>
<ellipse transform="rotate(29 989.7 363.2)" cx="989.7" cy="363.2" rx="2.46" ry="1.84" opacity="0.58"/>
<ellipse transform="rotate(130 996.5 300.6)" cx="996.5" cy="300.6" rx="1.61" ry="1.20" opacity="0.46"/>
<ellipse transform="rotate(51 941.0 286.1)" cx="941.0" cy="286.1" rx="2.54" ry="1.90" opacity="0.39"/>
<ellipse transform="rotate(90 955.4 307.1)" cx="955.4" cy="307.1" rx="2.07" ry="1.55" opacity="0.77"/>
<ellipse transform="rotate(89 931.4 310.6)" cx="931.4" cy="310.6" rx="1.40" ry="1.05" opacity="0.47"/>
<ellipse transform="rotate(16 939.7 338.7)" cx="939.7" cy="338.7" rx="1.95" ry="1.47" opacity="0.57"/>
<ellipse transform="rotate(50 926.9 339.7)" cx="926.9" cy="339.7" rx="2.56" ry="1.92" opacity="0.55"/>
<ellipse transform="rotate(149 872.0 357.3)" cx="872.0" cy="357.3" rx="1.68" ry="1.26" opacity="0.71"/>
<ellipse transform="rotate(77 895.5 368.7)" cx="895.5" cy="368.7" rx="2.00" ry="1.50" opacity="0.60"/>
<ellipse transform="rotate(52 991.1 322.9)" cx="991.1" cy="322.9" rx="1.98" ry="1.48" opacity="0.73"/>
<ellipse transform="rotate(39 929.9 306.6)" cx="929.9" cy="306.6" rx="1.64" ry="1.23" opacity="0.73"/>
<ellipse transform="rotate(123 971.4 377.1)" cx="971.4" cy="377.1" rx="2.50" ry="1.88" opacity="0.71"/>
<ellipse transform="rotate(32 958.7 358.4)" cx="958.7" cy="358.4" rx="2.36" ry="1.77" opacity="0.72"/>
<ellipse transform="rotate(4 902.2 295.7)" cx="902.2" cy="295.7" rx="2.50" ry="1.88" opacity="0.58"/>
<ellipse transform="rotate(164 907.8 356.4)" cx="907.8" cy="356.4" rx="2.13" ry="1.60" opacity="0.77"/>
<ellipse transform="rotate(20 949.4 275.8)" cx="949.4" cy="275.8" rx="2.20" ry="1.65" opacity="0.79"/>
<ellipse transform="rotate(125 980.8 303.0)" cx="980.8" cy="303.0" rx="1.62" ry="1.22" opacity="0.69"/>
<ellipse transform="rotate(131 996.5 337.7)" cx="996.5" cy="337.7" rx="1.55" ry="1.16" opacity="0.38"/>
<ellipse transform="rotate(157 980.3 353.8)" cx="980.3" cy="353.8" rx="2.34" ry="1.76" opacity="0.61"/>
<ellipse transform="rotate(69 990.8 339.5)" cx="990.8" cy="339.5" rx="1.99" ry="1.49" opacity="0.51"/>
<ellipse transform="rotate(41 863.5 286.5)" cx="863.5" cy="286.5" rx="2.35" ry="1.77" opacity="0.64"/>
<ellipse transform="rotate(57 967.5 345.6)" cx="967.5" cy="345.6" rx="2.02" ry="1.51" opacity="0.47"/>
<ellipse transform="rotate(170 886.2 340.4)" cx="886.2" cy="340.4" rx="2.22" ry="1.67" opacity="0.50"/>
<ellipse transform="rotate(171 988.5 369.7)" cx="988.5" cy="369.7" rx="1.75" ry="1.31" opacity="0.63"/>
<ellipse transform="rotate(50 993.4 354.5)" cx="993.4" cy="354.5" rx="1.80" ry="1.35" opacity="0.59"/>
<ellipse transform="rotate(96 927.8 272.5)" cx="927.8" cy="272.5" rx="2.44" ry="1.83" opacity="0.56"/>
<ellipse transform="rotate(105 963.3 296.3)" cx="963.3" cy="296.3" rx="1.64" ry="1.23" opacity="0.46"/>
<ellipse transform="rotate(64 905.6 276.4)" cx="905.6" cy="276.4" rx="1.46" ry="1.10" opacity="0.59"/>
<ellipse transform="rotate(73 991.5 339.5)" cx="991.5" cy="339.5" rx="1.90" ry="1.42" opacity="0.46"/>
<ellipse transform="rotate(78 925.8 375.0)" cx="925.8" cy="375.0" rx="1.55" ry="1.16" opacity="0.66"/>
<ellipse transform="rotate(169 965.7 330.2)" cx="965.7" cy="330.2" rx="2.17" ry="1.63" opacity="0.76"/>
<ellipse transform="rotate(95 895.0 328.6)" cx="895.0" cy="328.6" rx="2.60" ry="1.95" opacity="0.44"/>
<ellipse transform="rotate(99 966.2 274.9)" cx="966.2" cy="274.9" rx="1.58" ry="1.19" opacity="0.47"/>
<ellipse transform="rotate(138 959.8 349.2)" cx="959.8" cy="349.2" rx="1.78" ry="1.34" opacity="0.64"/>
</g>
<g clip-path="url(#cc2)"><polygon points="917.0,357.3 924.8,355.4 930.6,370.9 920.9,374.8" fill="#f0eeec" opacity="0.6" filter="url(#pblur)"/></g>
<g clip-path="url(#cc2)"><polygon points="882.0,281.5 893.7,283.5 889.8,295.1 880.1,293.2" fill="#f0eeec" opacity="0.5" filter="url(#pblur)"/></g>
<g clip-path="url(#cc2)"><polygon points="979.2,339.8 990.9,337.9 992.8,353.4 981.1,355.4" fill="#f0eeec" opacity="0.5" filter="url(#pblur)"/></g>
<rect x="748.00" y="268.60" width="250.60" height="110.90" fill="none" stroke="#333" stroke-width="1.7" />
<line x1="860.30" y1="268.60" x2="860.30" y2="379.50" stroke="#222" stroke-width="1.1" />
<rect x="783.60" y="301.00" width="25.60" height="18.70" fill="none" stroke="#111" stroke-width="1.6" stroke-dasharray="3.5,2.2"/>
<line x1="809.20" y1="301.00" x2="860.30" y2="268.60" stroke="#222" stroke-width="1.1" />
<line x1="809.20" y1="319.70" x2="860.30" y2="379.50" stroke="#222" stroke-width="1.1" />
<text x="757.50" y="285.80" font-size="15.5" text-anchor="middle" fill="#222" stroke="#222" stroke-width="0.35" >T</text>
<rect x="748.00" y="384.60" width="250.60" height="111.00" fill="#fcfcfc" stroke="none" stroke-width="1" />
<clipPath id="cc3"><ellipse cx="804.30" cy="441.30" rx="50.50" ry="53.00"/></clipPath>
<g clip-path="url(#cc3)"><rect x="748.00" y="384.00" width="112.00" height="112.00" fill="#c08c70"/></g>
<filter id="nf6" x="748.00" y="384.00" width="112.00" height="112.00" filterUnits="userSpaceOnUse" color-interpolation-filters="sRGB"><feTurbulence type="fractalNoise" baseFrequency="0.4" numOctaves="2" seed="8"/><feColorMatrix type="matrix" values="0 0 0 0 0.580 0 0 0 0 0.345 0 0 0 0 0.235 1.8 0 0 0 -0.7"/></filter>
<g clip-path="url(#cc3)" opacity="1.0"><rect x="748.00" y="384.00" width="112.00" height="112.00" filter="url(#nf6)"/></g>
<filter id="nf7" x="748.00" y="384.00" width="112.00" height="112.00" filterUnits="userSpaceOnUse" color-interpolation-filters="sRGB"><feTurbulence type="fractalNoise" baseFrequency="0.4" numOctaves="2" seed="9"/><feColorMatrix type="matrix" values="0 0 0 0 0.957 0 0 0 0 0.925 0 0 0 0 0.902 1.6 0 0 0 -0.62"/></filter>
<g clip-path="url(#cc3)" opacity="1.0"><rect x="748.00" y="384.00" width="112.00" height="112.00" filter="url(#nf7)"/></g>
<filter id="nf8" x="748.00" y="384.00" width="112.00" height="112.00" filterUnits="userSpaceOnUse" color-interpolation-filters="sRGB"><feTurbulence type="fractalNoise" baseFrequency="0.06" numOctaves="1" seed="10"/><feColorMatrix type="matrix" values="0 0 0 0 0.659 0 0 0 0 0.416 0 0 0 0 0.290 2.5 0 0 0 -1.3"/></filter>
<g clip-path="url(#cc3)" opacity="1.0"><rect x="748.00" y="384.00" width="112.00" height="112.00" filter="url(#nf8)"/></g>
<g clip-path="url(#cc3)"><polygon points="809,407 823,407 825,422 812,424 807,416" fill="#d0d6e0" opacity="0.75" filter="url(#pblur)"/></g>
<g clip-path="url(#cc3)"><polygon points="797,454 799,455 787,485 785,484" fill="#e6e2e4" opacity="0.5" filter="url(#pblur)"/></g>
<g clip-path="url(#cc3)"><polygon points="827,445 829,446 816,490 814,489" fill="#e6e2e4" opacity="0.5" filter="url(#pblur)"/></g>
<clipPath id="cc4"><rect x="860.30" y="384.60" width="138.30" height="111.00"/></clipPath>
<g clip-path="url(#cc4)"><rect x="860.30" y="384.60" width="138.30" height="111.00" fill="#c2926c"/></g>
<filter id="nf9" x="860.30" y="384.60" width="138.30" height="111.00" filterUnits="userSpaceOnUse" color-interpolation-filters="sRGB"><feTurbulence type="fractalNoise" baseFrequency="0.07" numOctaves="2" seed="12"/><feColorMatrix type="matrix" values="0 0 0 0 0.604 0 0 0 0 0.353 0 0 0 0 0.188 3.0 0 0 0 -1.5"/></filter>
<g clip-path="url(#cc4)" opacity="1.0"><rect x="860.30" y="384.60" width="138.30" height="111.00" filter="url(#nf9)"/></g>
<filter id="nf10" x="860.30" y="384.60" width="138.30" height="111.00" filterUnits="userSpaceOnUse" color-interpolation-filters="sRGB"><feTurbulence type="fractalNoise" baseFrequency="0.12" numOctaves="3" seed="13"/><feColorMatrix type="matrix" values="0 0 0 0 0.973 0 0 0 0 0.949 0 0 0 0 0.918 2.6 0 0 0 -1.2"/></filter>
<g clip-path="url(#cc4)" opacity="1.0"><rect x="860.30" y="384.60" width="138.30" height="111.00" filter="url(#nf10)"/></g>
<filter id="nf11" x="860.30" y="384.60" width="138.30" height="111.00" filterUnits="userSpaceOnUse" color-interpolation-filters="sRGB"><feTurbulence type="fractalNoise" baseFrequency="0.2" numOctaves="3" seed="14"/><feColorMatrix type="matrix" values="0 0 0 0 0.659 0 0 0 0 0.439 0 0 0 0 0.290 2.0 0 0 0 -0.8"/></filter>
<g clip-path="url(#cc4)" opacity="1.0"><rect x="860.30" y="384.60" width="138.30" height="111.00" filter="url(#nf11)"/></g>
<g clip-path="url(#cc4)" fill="#5a7aa0">
<ellipse transform="rotate(28 993.8 385.9)" cx="993.8" cy="385.9" rx="1.83" ry="1.37" opacity="0.79"/>
<ellipse transform="rotate(154 862.6 482.2)" cx="862.6" cy="482.2" rx="1.77" ry="1.33" opacity="0.80"/>
<ellipse transform="rotate(51 893.5 422.1)" cx="893.5" cy="422.1" rx="1.80" ry="1.35" opacity="0.47"/>
<ellipse transform="rotate(144 891.9 479.8)" cx="891.9" cy="479.8" rx="1.96" ry="1.47" opacity="0.45"/>
<ellipse transform="rotate(82 988.2 441.4)" cx="988.2" cy="441.4" rx="1.34" ry="1.01" opacity="0.54"/>
<ellipse transform="rotate(103 871.2 447.3)" cx="871.2" cy="447.3" rx="1.47" ry="1.10" opacity="0.77"/>
<ellipse transform="rotate(179 949.6 429.6)" cx="949.6" cy="429.6" rx="1.95" ry="1.46" opacity="0.57"/>
<ellipse transform="rotate(31 991.0 386.7)" cx="991.0" cy="386.7" rx="1.25" ry="0.94" opacity="0.77"/>
<ellipse transform="rotate(89 955.8 464.4)" cx="955.8" cy="464.4" rx="1.40" ry="1.05" opacity="0.75"/>
<ellipse transform="rotate(84 874.1 397.5)" cx="874.1" cy="397.5" rx="1.17" ry="0.87" opacity="0.73"/>
<ellipse transform="rotate(32 937.1 429.2)" cx="937.1" cy="429.2" rx="1.60" ry="1.20" opacity="0.78"/>
<ellipse transform="rotate(148 909.2 410.7)" cx="909.2" cy="410.7" rx="1.42" ry="1.06" opacity="0.49"/>
<ellipse transform="rotate(13 985.4 421.9)" cx="985.4" cy="421.9" rx="1.54" ry="1.16" opacity="0.76"/>
<ellipse transform="rotate(89 970.4 437.3)" cx="970.4" cy="437.3" rx="1.23" ry="0.92" opacity="0.52"/>
<ellipse transform="rotate(52 976.5 487.6)" cx="976.5" cy="487.6" rx="1.83" ry="1.37" opacity="0.37"/>
<ellipse transform="rotate(90 983.9 489.4)" cx="983.9" cy="489.4" rx="1.27" ry="0.95" opacity="0.57"/>
<ellipse transform="rotate(152 995.3 389.4)" cx="995.3" cy="389.4" rx="1.18" ry="0.88" opacity="0.61"/>
<ellipse transform="rotate(125 924.2 470.9)" cx="924.2" cy="470.9" rx="1.69" ry="1.27" opacity="0.47"/>
<ellipse transform="rotate(117 872.0 385.6)" cx="872.0" cy="385.6" rx="1.44" ry="1.08" opacity="0.52"/>
<ellipse transform="rotate(107 908.3 453.3)" cx="908.3" cy="453.3" rx="1.80" ry="1.35" opacity="0.49"/>
<ellipse transform="rotate(161 973.9 473.5)" cx="973.9" cy="473.5" rx="1.98" ry="1.48" opacity="0.36"/>
<ellipse transform="rotate(93 952.8 423.2)" cx="952.8" cy="423.2" rx="1.49" ry="1.12" opacity="0.41"/>
<ellipse transform="rotate(164 894.8 494.1)" cx="894.8" cy="494.1" rx="1.44" ry="1.08" opacity="0.66"/>
<ellipse transform="rotate(126 903.8 420.0)" cx="903.8" cy="420.0" rx="1.70" ry="1.28" opacity="0.50"/>
<ellipse transform="rotate(131 868.5 403.7)" cx="868.5" cy="403.7" rx="1.95" ry="1.46" opacity="0.40"/>
<ellipse transform="rotate(161 975.8 448.5)" cx="975.8" cy="448.5" rx="1.44" ry="1.08" opacity="0.41"/>
<ellipse transform="rotate(99 873.9 422.7)" cx="873.9" cy="422.7" rx="1.83" ry="1.37" opacity="0.57"/>
<ellipse transform="rotate(1 985.7 428.3)" cx="985.7" cy="428.3" rx="1.88" ry="1.41" opacity="0.70"/>
<ellipse transform="rotate(118 881.8 457.4)" cx="881.8" cy="457.4" rx="1.92" ry="1.44" opacity="0.61"/>
<ellipse transform="rotate(42 936.4 468.0)" cx="936.4" cy="468.0" rx="1.47" ry="1.11" opacity="0.60"/>
<ellipse transform="rotate(84 932.3 397.5)" cx="932.3" cy="397.5" rx="1.63" ry="1.22" opacity="0.42"/>
<ellipse transform="rotate(156 958.2 471.0)" cx="958.2" cy="471.0" rx="1.45" ry="1.08" opacity="0.79"/>
<ellipse transform="rotate(23 951.9 429.9)" cx="951.9" cy="429.9" rx="1.38" ry="1.04" opacity="0.47"/>
<ellipse transform="rotate(125 998.4 391.3)" cx="998.4" cy="391.3" rx="2.00" ry="1.50" opacity="0.70"/>
<ellipse transform="rotate(122 874.0 456.3)" cx="874.0" cy="456.3" rx="1.32" ry="0.99" opacity="0.71"/>
<ellipse transform="rotate(41 960.1 444.0)" cx="960.1" cy="444.0" rx="1.97" ry="1.48" opacity="0.42"/>
<ellipse transform="rotate(76 980.0 390.8)" cx="980.0" cy="390.8" rx="1.52" ry="1.14" opacity="0.74"/>
<ellipse transform="rotate(86 911.8 447.8)" cx="911.8" cy="447.8" rx="1.60" ry="1.20" opacity="0.56"/>
<ellipse transform="rotate(76 925.1 450.8)" cx="925.1" cy="450.8" rx="1.54" ry="1.15" opacity="0.77"/>
<ellipse transform="rotate(4 995.3 412.0)" cx="995.3" cy="412.0" rx="2.03" ry="1.52" opacity="0.50"/>
<ellipse transform="rotate(179 984.6 403.4)" cx="984.6" cy="403.4" rx="1.76" ry="1.32" opacity="0.63"/>
<ellipse transform="rotate(84 923.9 388.0)" cx="923.9" cy="388.0" rx="1.55" ry="1.16" opacity="0.70"/>
<ellipse transform="rotate(114 914.3 474.0)" cx="914.3" cy="474.0" rx="1.51" ry="1.13" opacity="0.69"/>
<ellipse transform="rotate(86 883.3 490.4)" cx="883.3" cy="490.4" rx="1.55" ry="1.16" opacity="0.79"/>
<ellipse transform="rotate(40 939.3 442.3)" cx="939.3" cy="442.3" rx="1.33" ry="0.99" opacity="0.69"/>
<ellipse transform="rotate(123 930.3 457.7)" cx="930.3" cy="457.7" rx="1.79" ry="1.34" opacity="0.50"/>
<ellipse transform="rotate(156 979.6 434.5)" cx="979.6" cy="434.5" rx="1.29" ry="0.97" opacity="0.76"/>
<ellipse transform="rotate(49 877.0 482.9)" cx="877.0" cy="482.9" rx="1.78" ry="1.34" opacity="0.61"/>
<ellipse transform="rotate(43 987.8 401.5)" cx="987.8" cy="401.5" rx="1.75" ry="1.32" opacity="0.42"/>
<ellipse transform="rotate(143 991.7 495.1)" cx="991.7" cy="495.1" rx="1.75" ry="1.31" opacity="0.53"/>
<ellipse transform="rotate(126 919.5 452.9)" cx="919.5" cy="452.9" rx="1.90" ry="1.43" opacity="0.56"/>
<ellipse transform="rotate(156 947.1 429.3)" cx="947.1" cy="429.3" rx="1.90" ry="1.42" opacity="0.70"/>
<ellipse transform="rotate(68 904.8 426.9)" cx="904.8" cy="426.9" rx="2.06" ry="1.55" opacity="0.65"/>
<ellipse transform="rotate(121 873.6 399.2)" cx="873.6" cy="399.2" rx="1.34" ry="1.00" opacity="0.45"/>
<ellipse transform="rotate(126 951.1 392.7)" cx="951.1" cy="392.7" rx="1.78" ry="1.34" opacity="0.47"/>
<ellipse transform="rotate(33 893.3 412.5)" cx="893.3" cy="412.5" rx="1.59" ry="1.20" opacity="0.46"/>
<ellipse transform="rotate(94 971.5 488.5)" cx="971.5" cy="488.5" rx="1.27" ry="0.96" opacity="0.65"/>
<ellipse transform="rotate(139 991.6 446.7)" cx="991.6" cy="446.7" rx="1.63" ry="1.22" opacity="0.70"/>
<ellipse transform="rotate(8 958.8 453.7)" cx="958.8" cy="453.7" rx="1.90" ry="1.42" opacity="0.70"/>
<ellipse transform="rotate(94 891.0 423.8)" cx="891.0" cy="423.8" rx="1.50" ry="1.12" opacity="0.62"/>
<ellipse transform="rotate(118 941.5 419.7)" cx="941.5" cy="419.7" rx="1.47" ry="1.10" opacity="0.77"/>
<ellipse transform="rotate(160 913.0 385.5)" cx="913.0" cy="385.5" rx="1.94" ry="1.45" opacity="0.73"/>
<ellipse transform="rotate(166 948.3 430.9)" cx="948.3" cy="430.9" rx="1.18" ry="0.89" opacity="0.55"/>
<ellipse transform="rotate(70 877.3 454.0)" cx="877.3" cy="454.0" rx="1.16" ry="0.87" opacity="0.62"/>
<ellipse transform="rotate(62 971.3 424.5)" cx="971.3" cy="424.5" rx="1.31" ry="0.98" opacity="0.72"/>
<ellipse transform="rotate(171 872.9 400.0)" cx="872.9" cy="400.0" rx="1.45" ry="1.09" opacity="0.75"/>
<ellipse transform="rotate(26 994.1 390.0)" cx="994.1" cy="390.0" rx="1.60" ry="1.20" opacity="0.61"/>
<ellipse transform="rotate(123 970.0 438.1)" cx="970.0" cy="438.1" rx="1.78" ry="1.34" opacity="0.58"/>
<ellipse transform="rotate(177 914.2 411.2)" cx="914.2" cy="411.2" rx="1.81" ry="1.36" opacity="0.79"/>
<ellipse transform="rotate(89 988.1 478.7)" cx="988.1" cy="478.7" rx="1.75" ry="1.31" opacity="0.40"/>
<ellipse transform="rotate(154 970.8 405.0)" cx="970.8" cy="405.0" rx="2.01" ry="1.51" opacity="0.48"/>
<ellipse transform="rotate(20 985.7 468.5)" cx="985.7" cy="468.5" rx="1.90" ry="1.42" opacity="0.47"/>
<ellipse transform="rotate(80 881.7 489.1)" cx="881.7" cy="489.1" rx="1.35" ry="1.02" opacity="0.69"/>
<ellipse transform="rotate(68 915.2 454.7)" cx="915.2" cy="454.7" rx="1.72" ry="1.29" opacity="0.77"/>
<ellipse transform="rotate(112 952.8 466.7)" cx="952.8" cy="466.7" rx="1.82" ry="1.37" opacity="0.43"/>
<ellipse transform="rotate(66 986.8 489.2)" cx="986.8" cy="489.2" rx="1.22" ry="0.91" opacity="0.43"/>
<ellipse transform="rotate(24 878.6 448.9)" cx="878.6" cy="448.9" rx="1.54" ry="1.15" opacity="0.57"/>
<ellipse transform="rotate(119 956.5 399.7)" cx="956.5" cy="399.7" rx="1.74" ry="1.31" opacity="0.72"/>
<ellipse transform="rotate(15 998.4 482.4)" cx="998.4" cy="482.4" rx="1.48" ry="1.11" opacity="0.50"/>
<ellipse transform="rotate(101 883.7 479.3)" cx="883.7" cy="479.3" rx="1.47" ry="1.10" opacity="0.68"/>
<ellipse transform="rotate(107 924.0 495.4)" cx="924.0" cy="495.4" rx="1.75" ry="1.31" opacity="0.42"/>
<ellipse transform="rotate(104 893.5 461.0)" cx="893.5" cy="461.0" rx="1.54" ry="1.16" opacity="0.75"/>
<ellipse transform="rotate(12 953.9 477.6)" cx="953.9" cy="477.6" rx="1.47" ry="1.10" opacity="0.47"/>
<ellipse transform="rotate(12 985.5 411.2)" cx="985.5" cy="411.2" rx="1.24" ry="0.93" opacity="0.80"/>
<ellipse transform="rotate(8 889.2 393.1)" cx="889.2" cy="393.1" rx="1.46" ry="1.10" opacity="0.68"/>
<ellipse transform="rotate(3 955.5 431.5)" cx="955.5" cy="431.5" rx="1.82" ry="1.36" opacity="0.71"/>
<ellipse transform="rotate(171 949.1 468.1)" cx="949.1" cy="468.1" rx="1.26" ry="0.94" opacity="0.79"/>
<ellipse transform="rotate(128 926.7 420.1)" cx="926.7" cy="420.1" rx="1.62" ry="1.21" opacity="0.56"/>
<ellipse transform="rotate(70 935.5 490.4)" cx="935.5" cy="490.4" rx="1.80" ry="1.35" opacity="0.76"/>
<ellipse transform="rotate(54 969.2 386.9)" cx="969.2" cy="386.9" rx="1.59" ry="1.20" opacity="0.49"/>
<ellipse transform="rotate(44 911.5 477.4)" cx="911.5" cy="477.4" rx="1.71" ry="1.28" opacity="0.38"/>
<ellipse transform="rotate(90 881.1 426.2)" cx="881.1" cy="426.2" rx="1.64" ry="1.23" opacity="0.54"/>
<ellipse transform="rotate(40 933.3 419.0)" cx="933.3" cy="419.0" rx="2.03" ry="1.53" opacity="0.52"/>
<ellipse transform="rotate(114 951.4 477.7)" cx="951.4" cy="477.7" rx="1.51" ry="1.13" opacity="0.46"/>
<ellipse transform="rotate(137 861.8 492.1)" cx="861.8" cy="492.1" rx="1.18" ry="0.89" opacity="0.36"/>
<ellipse transform="rotate(145 901.7 441.8)" cx="901.7" cy="441.8" rx="1.98" ry="1.49" opacity="0.48"/>
<ellipse transform="rotate(168 861.4 468.2)" cx="861.4" cy="468.2" rx="1.84" ry="1.38" opacity="0.41"/>
<ellipse transform="rotate(153 952.8 453.1)" cx="952.8" cy="453.1" rx="1.96" ry="1.47" opacity="0.70"/>
<ellipse transform="rotate(109 977.8 393.7)" cx="977.8" cy="393.7" rx="2.07" ry="1.55" opacity="0.75"/>
<ellipse transform="rotate(174 881.1 441.9)" cx="881.1" cy="441.9" rx="1.97" ry="1.48" opacity="0.63"/>
<ellipse transform="rotate(46 983.9 387.2)" cx="983.9" cy="387.2" rx="1.22" ry="0.92" opacity="0.74"/>
<ellipse transform="rotate(93 958.9 431.9)" cx="958.9" cy="431.9" rx="2.00" ry="1.50" opacity="0.42"/>
<ellipse transform="rotate(141 990.6 466.6)" cx="990.6" cy="466.6" rx="2.07" ry="1.56" opacity="0.58"/>
<ellipse transform="rotate(48 984.0 399.3)" cx="984.0" cy="399.3" rx="1.13" ry="0.85" opacity="0.78"/>
<ellipse transform="rotate(24 872.5 468.7)" cx="872.5" cy="468.7" rx="1.64" ry="1.23" opacity="0.44"/>
<ellipse transform="rotate(9 959.7 427.8)" cx="959.7" cy="427.8" rx="1.96" ry="1.47" opacity="0.61"/>
<ellipse transform="rotate(104 978.1 411.1)" cx="978.1" cy="411.1" rx="1.39" ry="1.04" opacity="0.43"/>
<ellipse transform="rotate(31 949.8 487.0)" cx="949.8" cy="487.0" rx="1.43" ry="1.07" opacity="0.75"/>
<ellipse transform="rotate(144 867.7 479.2)" cx="867.7" cy="479.2" rx="1.52" ry="1.14" opacity="0.52"/>
<ellipse transform="rotate(13 992.9 457.4)" cx="992.9" cy="457.4" rx="1.69" ry="1.27" opacity="0.61"/>
<ellipse transform="rotate(41 893.0 463.5)" cx="893.0" cy="463.5" rx="1.43" ry="1.07" opacity="0.41"/>
<ellipse transform="rotate(97 895.5 398.5)" cx="895.5" cy="398.5" rx="1.39" ry="1.04" opacity="0.74"/>
<ellipse transform="rotate(63 967.7 424.8)" cx="967.7" cy="424.8" rx="2.01" ry="1.51" opacity="0.54"/>
<ellipse transform="rotate(119 935.7 451.1)" cx="935.7" cy="451.1" rx="1.59" ry="1.19" opacity="0.44"/>
<ellipse transform="rotate(46 889.7 421.9)" cx="889.7" cy="421.9" rx="1.54" ry="1.16" opacity="0.61"/>
<ellipse transform="rotate(109 870.5 431.6)" cx="870.5" cy="431.6" rx="1.56" ry="1.17" opacity="0.41"/>
<ellipse transform="rotate(25 951.0 435.9)" cx="951.0" cy="435.9" rx="2.01" ry="1.51" opacity="0.53"/>
<ellipse transform="rotate(160 968.6 488.4)" cx="968.6" cy="488.4" rx="1.90" ry="1.42" opacity="0.55"/>
<ellipse transform="rotate(119 891.5 413.2)" cx="891.5" cy="413.2" rx="1.73" ry="1.30" opacity="0.54"/>
<ellipse transform="rotate(43 886.7 481.7)" cx="886.7" cy="481.7" rx="1.43" ry="1.07" opacity="0.72"/>
<ellipse transform="rotate(112 967.7 459.1)" cx="967.7" cy="459.1" rx="1.88" ry="1.41" opacity="0.63"/>
<ellipse transform="rotate(19 914.4 403.9)" cx="914.4" cy="403.9" rx="2.01" ry="1.51" opacity="0.70"/>
<ellipse transform="rotate(141 904.2 467.8)" cx="904.2" cy="467.8" rx="1.98" ry="1.49" opacity="0.36"/>
<ellipse transform="rotate(177 981.0 410.3)" cx="981.0" cy="410.3" rx="1.38" ry="1.03" opacity="0.73"/>
<ellipse transform="rotate(113 882.4 479.0)" cx="882.4" cy="479.0" rx="1.37" ry="1.03" opacity="0.72"/>
<ellipse transform="rotate(26 870.1 405.0)" cx="870.1" cy="405.0" rx="1.24" ry="0.93" opacity="0.76"/>
<ellipse transform="rotate(4 864.6 419.8)" cx="864.6" cy="419.8" rx="1.93" ry="1.45" opacity="0.56"/>
<ellipse transform="rotate(10 975.5 486.1)" cx="975.5" cy="486.1" rx="1.91" ry="1.43" opacity="0.37"/>
<ellipse transform="rotate(122 962.8 435.7)" cx="962.8" cy="435.7" rx="1.59" ry="1.19" opacity="0.71"/>
<ellipse transform="rotate(157 898.7 491.1)" cx="898.7" cy="491.1" rx="1.41" ry="1.06" opacity="0.39"/>
<ellipse transform="rotate(114 865.5 451.2)" cx="865.5" cy="451.2" rx="1.84" ry="1.38" opacity="0.38"/>
<ellipse transform="rotate(127 989.1 487.1)" cx="989.1" cy="487.1" rx="1.99" ry="1.49" opacity="0.35"/>
<ellipse transform="rotate(86 921.5 405.4)" cx="921.5" cy="405.4" rx="1.34" ry="1.00" opacity="0.73"/>
<ellipse transform="rotate(17 949.3 493.2)" cx="949.3" cy="493.2" rx="1.46" ry="1.09" opacity="0.71"/>
<ellipse transform="rotate(115 982.2 440.7)" cx="982.2" cy="440.7" rx="1.34" ry="1.01" opacity="0.46"/>
<ellipse transform="rotate(133 915.6 450.1)" cx="915.6" cy="450.1" rx="1.81" ry="1.36" opacity="0.39"/>
<ellipse transform="rotate(12 915.6 441.3)" cx="915.6" cy="441.3" rx="1.42" ry="1.06" opacity="0.47"/>
<ellipse transform="rotate(37 920.7 454.8)" cx="920.7" cy="454.8" rx="2.06" ry="1.55" opacity="0.61"/>
<ellipse transform="rotate(76 889.3 399.2)" cx="889.3" cy="399.2" rx="1.39" ry="1.04" opacity="0.73"/>
<ellipse transform="rotate(72 903.4 489.8)" cx="903.4" cy="489.8" rx="1.87" ry="1.40" opacity="0.74"/>
<ellipse transform="rotate(112 898.0 386.4)" cx="898.0" cy="386.4" rx="1.56" ry="1.17" opacity="0.66"/>
<ellipse transform="rotate(166 862.4 386.1)" cx="862.4" cy="386.1" rx="1.78" ry="1.33" opacity="0.57"/>
<ellipse transform="rotate(84 966.4 404.1)" cx="966.4" cy="404.1" rx="1.26" ry="0.94" opacity="0.78"/>
<ellipse transform="rotate(4 876.3 443.7)" cx="876.3" cy="443.7" rx="1.78" ry="1.33" opacity="0.71"/>
<ellipse transform="rotate(9 887.1 476.7)" cx="887.1" cy="476.7" rx="1.70" ry="1.27" opacity="0.44"/>
<ellipse transform="rotate(76 919.0 390.8)" cx="919.0" cy="390.8" rx="1.83" ry="1.37" opacity="0.41"/>
<ellipse transform="rotate(95 890.3 460.4)" cx="890.3" cy="460.4" rx="1.53" ry="1.15" opacity="0.44"/>
<ellipse transform="rotate(25 898.5 410.7)" cx="898.5" cy="410.7" rx="1.55" ry="1.16" opacity="0.36"/>
<ellipse transform="rotate(161 992.0 492.3)" cx="992.0" cy="492.3" rx="1.16" ry="0.87" opacity="0.48"/>
<ellipse transform="rotate(61 934.3 441.7)" cx="934.3" cy="441.7" rx="1.20" ry="0.90" opacity="0.54"/>
<ellipse transform="rotate(93 936.2 444.9)" cx="936.2" cy="444.9" rx="1.47" ry="1.10" opacity="0.40"/>
<ellipse transform="rotate(82 957.4 450.1)" cx="957.4" cy="450.1" rx="1.30" ry="0.97" opacity="0.58"/>
<ellipse transform="rotate(100 928.6 410.0)" cx="928.6" cy="410.0" rx="1.59" ry="1.19" opacity="0.79"/>
<ellipse transform="rotate(93 979.7 469.6)" cx="979.7" cy="469.6" rx="1.46" ry="1.10" opacity="0.50"/>
<ellipse transform="rotate(171 942.8 472.2)" cx="942.8" cy="472.2" rx="1.87" ry="1.40" opacity="0.69"/>
<ellipse transform="rotate(68 968.5 435.7)" cx="968.5" cy="435.7" rx="1.34" ry="1.00" opacity="0.59"/>
<ellipse transform="rotate(177 926.4 439.9)" cx="926.4" cy="439.9" rx="1.13" ry="0.85" opacity="0.52"/>
<ellipse transform="rotate(140 905.8 478.5)" cx="905.8" cy="478.5" rx="1.50" ry="1.12" opacity="0.40"/>
<ellipse transform="rotate(143 933.9 389.6)" cx="933.9" cy="389.6" rx="1.60" ry="1.20" opacity="0.47"/>
<ellipse transform="rotate(33 949.8 466.5)" cx="949.8" cy="466.5" rx="1.51" ry="1.13" opacity="0.67"/>
<ellipse transform="rotate(158 980.7 488.8)" cx="980.7" cy="488.8" rx="2.07" ry="1.55" opacity="0.51"/>
<ellipse transform="rotate(161 964.5 472.5)" cx="964.5" cy="472.5" rx="1.55" ry="1.16" opacity="0.41"/>
<ellipse transform="rotate(23 963.4 462.5)" cx="963.4" cy="462.5" rx="1.34" ry="1.01" opacity="0.66"/>
<ellipse transform="rotate(133 872.3 418.6)" cx="872.3" cy="418.6" rx="1.99" ry="1.50" opacity="0.52"/>
<ellipse transform="rotate(101 921.7 415.4)" cx="921.7" cy="415.4" rx="1.83" ry="1.38" opacity="0.63"/>
<ellipse transform="rotate(125 892.4 487.6)" cx="892.4" cy="487.6" rx="1.37" ry="1.03" opacity="0.79"/>
<ellipse transform="rotate(129 982.8 389.9)" cx="982.8" cy="389.9" rx="1.64" ry="1.23" opacity="0.55"/>
<ellipse transform="rotate(118 897.4 409.4)" cx="897.4" cy="409.4" rx="1.46" ry="1.10" opacity="0.59"/>
<ellipse transform="rotate(175 977.0 414.8)" cx="977.0" cy="414.8" rx="1.76" ry="1.32" opacity="0.50"/>
<ellipse transform="rotate(35 913.4 421.6)" cx="913.4" cy="421.6" rx="1.19" ry="0.89" opacity="0.70"/>
<ellipse transform="rotate(1 903.9 412.9)" cx="903.9" cy="412.9" rx="1.92" ry="1.44" opacity="0.50"/>
<ellipse transform="rotate(126 885.1 424.9)" cx="885.1" cy="424.9" rx="1.25" ry="0.94" opacity="0.47"/>
<ellipse transform="rotate(21 953.9 399.7)" cx="953.9" cy="399.7" rx="1.94" ry="1.46" opacity="0.70"/>
<ellipse transform="rotate(16 881.4 432.9)" cx="881.4" cy="432.9" rx="1.70" ry="1.28" opacity="0.59"/>
<ellipse transform="rotate(97 947.8 431.1)" cx="947.8" cy="431.1" rx="1.83" ry="1.37" opacity="0.37"/>
<ellipse transform="rotate(30 966.2 492.7)" cx="966.2" cy="492.7" rx="1.26" ry="0.95" opacity="0.61"/>
<ellipse transform="rotate(89 947.9 434.9)" cx="947.9" cy="434.9" rx="1.29" ry="0.97" opacity="0.51"/>
<ellipse transform="rotate(179 933.7 487.7)" cx="933.7" cy="487.7" rx="1.54" ry="1.15" opacity="0.77"/>
<ellipse transform="rotate(26 889.1 440.0)" cx="889.1" cy="440.0" rx="1.24" ry="0.93" opacity="0.60"/>
<ellipse transform="rotate(176 866.9 469.4)" cx="866.9" cy="469.4" rx="1.80" ry="1.35" opacity="0.69"/>
<ellipse transform="rotate(41 976.4 420.8)" cx="976.4" cy="420.8" rx="2.07" ry="1.55" opacity="0.76"/>
<ellipse transform="rotate(36 987.9 468.3)" cx="987.9" cy="468.3" rx="1.89" ry="1.41" opacity="0.71"/>
<ellipse transform="rotate(145 889.5 409.2)" cx="889.5" cy="409.2" rx="1.20" ry="0.90" opacity="0.69"/>
<ellipse transform="rotate(147 921.0 389.3)" cx="921.0" cy="389.3" rx="1.26" ry="0.94" opacity="0.64"/>
<ellipse transform="rotate(7 898.8 486.7)" cx="898.8" cy="486.7" rx="1.65" ry="1.24" opacity="0.79"/>
<ellipse transform="rotate(167 907.1 435.5)" cx="907.1" cy="435.5" rx="1.98" ry="1.48" opacity="0.47"/>
<ellipse transform="rotate(13 983.3 413.7)" cx="983.3" cy="413.7" rx="1.14" ry="0.86" opacity="0.42"/>
<ellipse transform="rotate(70 939.9 414.4)" cx="939.9" cy="414.4" rx="1.93" ry="1.45" opacity="0.38"/>
<ellipse transform="rotate(167 928.7 395.0)" cx="928.7" cy="395.0" rx="1.13" ry="0.85" opacity="0.40"/>
<ellipse transform="rotate(78 876.0 413.4)" cx="876.0" cy="413.4" rx="1.24" ry="0.93" opacity="0.65"/>
<ellipse transform="rotate(29 914.4 445.3)" cx="914.4" cy="445.3" rx="1.17" ry="0.88" opacity="0.47"/>
<ellipse transform="rotate(85 947.0 467.1)" cx="947.0" cy="467.1" rx="2.04" ry="1.53" opacity="0.43"/>
<ellipse transform="rotate(121 909.2 426.7)" cx="909.2" cy="426.7" rx="1.99" ry="1.49" opacity="0.57"/>
<ellipse transform="rotate(165 927.0 465.9)" cx="927.0" cy="465.9" rx="1.80" ry="1.35" opacity="0.58"/>
<ellipse transform="rotate(28 964.9 491.7)" cx="964.9" cy="491.7" rx="1.99" ry="1.49" opacity="0.79"/>
<ellipse transform="rotate(153 936.5 484.4)" cx="936.5" cy="484.4" rx="1.98" ry="1.49" opacity="0.71"/>
<ellipse transform="rotate(47 962.0 495.6)" cx="962.0" cy="495.6" rx="1.68" ry="1.26" opacity="0.61"/>
<ellipse transform="rotate(76 943.8 478.3)" cx="943.8" cy="478.3" rx="1.71" ry="1.28" opacity="0.68"/>
<ellipse transform="rotate(120 926.8 410.6)" cx="926.8" cy="410.6" rx="2.05" ry="1.54" opacity="0.62"/>
<ellipse transform="rotate(10 970.0 446.3)" cx="970.0" cy="446.3" rx="1.56" ry="1.17" opacity="0.63"/>
<ellipse transform="rotate(127 898.3 451.9)" cx="898.3" cy="451.9" rx="1.99" ry="1.49" opacity="0.68"/>
<ellipse transform="rotate(96 874.0 456.8)" cx="874.0" cy="456.8" rx="1.99" ry="1.49" opacity="0.65"/>
<ellipse transform="rotate(94 901.0 462.1)" cx="901.0" cy="462.1" rx="1.37" ry="1.02" opacity="0.70"/>
<ellipse transform="rotate(102 932.8 453.6)" cx="932.8" cy="453.6" rx="1.30" ry="0.97" opacity="0.64"/>
<ellipse transform="rotate(94 955.7 406.4)" cx="955.7" cy="406.4" rx="1.63" ry="1.22" opacity="0.60"/>
<ellipse transform="rotate(55 885.6 478.6)" cx="885.6" cy="478.6" rx="1.70" ry="1.27" opacity="0.79"/>
<ellipse transform="rotate(63 945.4 420.3)" cx="945.4" cy="420.3" rx="1.51" ry="1.14" opacity="0.46"/>
<ellipse transform="rotate(124 880.9 394.7)" cx="880.9" cy="394.7" rx="1.19" ry="0.89" opacity="0.51"/>
<ellipse transform="rotate(166 911.4 427.6)" cx="911.4" cy="427.6" rx="2.04" ry="1.53" opacity="0.47"/>
<ellipse transform="rotate(87 955.1 491.8)" cx="955.1" cy="491.8" rx="1.94" ry="1.46" opacity="0.72"/>
<ellipse transform="rotate(131 890.1 464.7)" cx="890.1" cy="464.7" rx="1.37" ry="1.03" opacity="0.49"/>
<ellipse transform="rotate(37 984.6 398.3)" cx="984.6" cy="398.3" rx="1.43" ry="1.07" opacity="0.57"/>
<ellipse transform="rotate(6 868.5 402.4)" cx="868.5" cy="402.4" rx="1.36" ry="1.02" opacity="0.67"/>
<ellipse transform="rotate(65 977.2 491.6)" cx="977.2" cy="491.6" rx="1.55" ry="1.16" opacity="0.62"/>
<ellipse transform="rotate(142 908.4 385.8)" cx="908.4" cy="385.8" rx="1.50" ry="1.12" opacity="0.46"/>
<ellipse transform="rotate(64 898.6 422.9)" cx="898.6" cy="422.9" rx="1.90" ry="1.43" opacity="0.50"/>
<ellipse transform="rotate(170 893.4 402.0)" cx="893.4" cy="402.0" rx="1.96" ry="1.47" opacity="0.71"/>
<ellipse transform="rotate(100 938.2 418.9)" cx="938.2" cy="418.9" rx="1.72" ry="1.29" opacity="0.47"/>
<ellipse transform="rotate(61 954.9 481.8)" cx="954.9" cy="481.8" rx="1.76" ry="1.32" opacity="0.78"/>
<ellipse transform="rotate(38 984.3 455.7)" cx="984.3" cy="455.7" rx="1.41" ry="1.06" opacity="0.75"/>
<ellipse transform="rotate(151 898.8 394.1)" cx="898.8" cy="394.1" rx="1.39" ry="1.04" opacity="0.72"/>
<ellipse transform="rotate(109 985.5 483.7)" cx="985.5" cy="483.7" rx="1.81" ry="1.36" opacity="0.71"/>
<ellipse transform="rotate(8 938.3 492.6)" cx="938.3" cy="492.6" rx="1.41" ry="1.05" opacity="0.69"/>
<ellipse transform="rotate(106 933.5 485.0)" cx="933.5" cy="485.0" rx="1.56" ry="1.17" opacity="0.42"/>
<ellipse transform="rotate(19 919.7 403.6)" cx="919.7" cy="403.6" rx="1.13" ry="0.85" opacity="0.66"/>
<ellipse transform="rotate(97 982.7 391.4)" cx="982.7" cy="391.4" rx="1.90" ry="1.43" opacity="0.56"/>
<ellipse transform="rotate(26 865.7 494.8)" cx="865.7" cy="494.8" rx="1.74" ry="1.31" opacity="0.58"/>
<ellipse transform="rotate(173 907.5 423.0)" cx="907.5" cy="423.0" rx="1.20" ry="0.90" opacity="0.55"/>
<ellipse transform="rotate(179 877.8 408.6)" cx="877.8" cy="408.6" rx="1.45" ry="1.09" opacity="0.61"/>
<ellipse transform="rotate(120 916.1 480.0)" cx="916.1" cy="480.0" rx="1.13" ry="0.85" opacity="0.37"/>
<ellipse transform="rotate(113 938.2 457.3)" cx="938.2" cy="457.3" rx="1.80" ry="1.35" opacity="0.54"/>
<ellipse transform="rotate(2 996.5 474.9)" cx="996.5" cy="474.9" rx="1.18" ry="0.89" opacity="0.40"/>
<ellipse transform="rotate(9 915.9 401.8)" cx="915.9" cy="401.8" rx="1.40" ry="1.05" opacity="0.48"/>
<ellipse transform="rotate(129 889.5 403.7)" cx="889.5" cy="403.7" rx="1.99" ry="1.49" opacity="0.74"/>
<ellipse transform="rotate(118 916.3 403.5)" cx="916.3" cy="403.5" rx="1.29" ry="0.97" opacity="0.46"/>
<ellipse transform="rotate(52 876.4 427.9)" cx="876.4" cy="427.9" rx="1.48" ry="1.11" opacity="0.54"/>
<ellipse transform="rotate(72 965.5 458.2)" cx="965.5" cy="458.2" rx="1.38" ry="1.04" opacity="0.77"/>
<ellipse transform="rotate(36 994.4 423.5)" cx="994.4" cy="423.5" rx="1.36" ry="1.02" opacity="0.53"/>
<ellipse transform="rotate(134 984.2 395.9)" cx="984.2" cy="395.9" rx="1.64" ry="1.23" opacity="0.38"/>
<ellipse transform="rotate(81 956.9 395.6)" cx="956.9" cy="395.6" rx="1.38" ry="1.04" opacity="0.50"/>
<ellipse transform="rotate(157 899.3 401.8)" cx="899.3" cy="401.8" rx="1.50" ry="1.12" opacity="0.73"/>
<ellipse transform="rotate(88 912.2 395.9)" cx="912.2" cy="395.9" rx="1.74" ry="1.31" opacity="0.69"/>
<ellipse transform="rotate(76 928.5 419.8)" cx="928.5" cy="419.8" rx="1.19" ry="0.89" opacity="0.40"/>
<ellipse transform="rotate(74 883.0 415.7)" cx="883.0" cy="415.7" rx="1.57" ry="1.18" opacity="0.54"/>
<ellipse transform="rotate(39 869.0 401.1)" cx="869.0" cy="401.1" rx="1.21" ry="0.91" opacity="0.51"/>
<ellipse transform="rotate(43 923.9 463.7)" cx="923.9" cy="463.7" rx="1.12" ry="0.84" opacity="0.80"/>
<ellipse transform="rotate(137 944.1 410.3)" cx="944.1" cy="410.3" rx="1.98" ry="1.48" opacity="0.62"/>
<ellipse transform="rotate(43 998.3 426.7)" cx="998.3" cy="426.7" rx="1.61" ry="1.21" opacity="0.72"/>
<ellipse transform="rotate(179 886.3 452.4)" cx="886.3" cy="452.4" rx="1.89" ry="1.42" opacity="0.61"/>
<ellipse transform="rotate(18 908.7 411.3)" cx="908.7" cy="411.3" rx="1.49" ry="1.12" opacity="0.78"/>
<ellipse transform="rotate(15 880.3 486.0)" cx="880.3" cy="486.0" rx="1.50" ry="1.12" opacity="0.75"/>
<ellipse transform="rotate(32 994.4 396.1)" cx="994.4" cy="396.1" rx="2.02" ry="1.51" opacity="0.60"/>
<ellipse transform="rotate(154 914.2 401.0)" cx="914.2" cy="401.0" rx="1.33" ry="1.00" opacity="0.60"/>
<ellipse transform="rotate(88 928.5 403.5)" cx="928.5" cy="403.5" rx="1.79" ry="1.34" opacity="0.64"/>
<ellipse transform="rotate(113 954.2 491.9)" cx="954.2" cy="491.9" rx="1.74" ry="1.30" opacity="0.49"/>
<ellipse transform="rotate(161 881.2 490.8)" cx="881.2" cy="490.8" rx="1.41" ry="1.06" opacity="0.69"/>
<ellipse transform="rotate(68 874.2 477.5)" cx="874.2" cy="477.5" rx="1.33" ry="1.00" opacity="0.43"/>
<ellipse transform="rotate(140 914.3 466.4)" cx="914.3" cy="466.4" rx="1.54" ry="1.15" opacity="0.71"/>
<ellipse transform="rotate(175 901.0 466.1)" cx="901.0" cy="466.1" rx="1.57" ry="1.18" opacity="0.70"/>
<ellipse transform="rotate(126 875.0 456.6)" cx="875.0" cy="456.6" rx="1.18" ry="0.89" opacity="0.38"/>
<ellipse transform="rotate(157 882.6 482.8)" cx="882.6" cy="482.8" rx="1.64" ry="1.23" opacity="0.35"/>
<ellipse transform="rotate(71 931.8 390.1)" cx="931.8" cy="390.1" rx="1.87" ry="1.40" opacity="0.47"/>
<ellipse transform="rotate(129 918.1 394.6)" cx="918.1" cy="394.6" rx="1.67" ry="1.26" opacity="0.71"/>
<ellipse transform="rotate(170 946.0 423.2)" cx="946.0" cy="423.2" rx="2.02" ry="1.52" opacity="0.67"/>
<ellipse transform="rotate(115 981.5 410.3)" cx="981.5" cy="410.3" rx="1.88" ry="1.41" opacity="0.37"/>
<ellipse transform="rotate(167 916.9 456.5)" cx="916.9" cy="456.5" rx="2.07" ry="1.55" opacity="0.80"/>
<ellipse transform="rotate(94 995.0 409.1)" cx="995.0" cy="409.1" rx="1.99" ry="1.49" opacity="0.69"/>
<ellipse transform="rotate(169 936.9 438.7)" cx="936.9" cy="438.7" rx="1.32" ry="0.99" opacity="0.74"/>
<ellipse transform="rotate(77 913.0 434.0)" cx="913.0" cy="434.0" rx="1.94" ry="1.45" opacity="0.45"/>
<ellipse transform="rotate(112 884.7 407.0)" cx="884.7" cy="407.0" rx="1.82" ry="1.37" opacity="0.72"/>
<ellipse transform="rotate(147 929.6 467.7)" cx="929.6" cy="467.7" rx="1.53" ry="1.15" opacity="0.65"/>
<ellipse transform="rotate(173 957.0 483.7)" cx="957.0" cy="483.7" rx="1.48" ry="1.11" opacity="0.61"/>
<ellipse transform="rotate(135 869.8 487.5)" cx="869.8" cy="487.5" rx="1.14" ry="0.85" opacity="0.73"/>
<ellipse transform="rotate(103 927.7 389.5)" cx="927.7" cy="389.5" rx="1.13" ry="0.85" opacity="0.64"/>
<ellipse transform="rotate(155 986.2 488.5)" cx="986.2" cy="488.5" rx="1.56" ry="1.17" opacity="0.56"/>
<ellipse transform="rotate(86 911.5 438.6)" cx="911.5" cy="438.6" rx="1.25" ry="0.94" opacity="0.64"/>
<ellipse transform="rotate(179 880.8 392.5)" cx="880.8" cy="392.5" rx="1.69" ry="1.27" opacity="0.77"/>
<ellipse transform="rotate(138 998.3 459.5)" cx="998.3" cy="459.5" rx="1.87" ry="1.41" opacity="0.61"/>
<ellipse transform="rotate(54 935.2 436.6)" cx="935.2" cy="436.6" rx="1.84" ry="1.38" opacity="0.73"/>
<ellipse transform="rotate(103 980.9 468.5)" cx="980.9" cy="468.5" rx="1.48" ry="1.11" opacity="0.49"/>
<ellipse transform="rotate(48 929.9 392.4)" cx="929.9" cy="392.4" rx="1.12" ry="0.84" opacity="0.44"/>
<ellipse transform="rotate(161 998.3 433.9)" cx="998.3" cy="433.9" rx="1.61" ry="1.20" opacity="0.60"/>
<ellipse transform="rotate(57 876.8 409.3)" cx="876.8" cy="409.3" rx="1.22" ry="0.91" opacity="0.44"/>
<ellipse transform="rotate(143 900.3 413.9)" cx="900.3" cy="413.9" rx="1.89" ry="1.42" opacity="0.69"/>
<ellipse transform="rotate(39 897.3 397.1)" cx="897.3" cy="397.1" rx="1.58" ry="1.18" opacity="0.78"/>
<ellipse transform="rotate(25 958.3 435.7)" cx="958.3" cy="435.7" rx="2.00" ry="1.50" opacity="0.36"/>
<ellipse transform="rotate(89 933.5 493.4)" cx="933.5" cy="493.4" rx="1.43" ry="1.07" opacity="0.44"/>
<ellipse transform="rotate(5 919.4 450.2)" cx="919.4" cy="450.2" rx="1.12" ry="0.84" opacity="0.77"/>
<ellipse transform="rotate(88 985.6 413.2)" cx="985.6" cy="413.2" rx="1.94" ry="1.46" opacity="0.38"/>
<ellipse transform="rotate(18 871.1 401.6)" cx="871.1" cy="401.6" rx="1.69" ry="1.27" opacity="0.60"/>
<ellipse transform="rotate(31 937.1 439.4)" cx="937.1" cy="439.4" rx="1.33" ry="1.00" opacity="0.49"/>
<ellipse transform="rotate(174 931.0 423.3)" cx="931.0" cy="423.3" rx="1.96" ry="1.47" opacity="0.45"/>
<ellipse transform="rotate(65 986.9 457.1)" cx="986.9" cy="457.1" rx="1.64" ry="1.23" opacity="0.79"/>
<ellipse transform="rotate(92 963.0 469.0)" cx="963.0" cy="469.0" rx="1.60" ry="1.20" opacity="0.49"/>
<ellipse transform="rotate(22 913.6 460.4)" cx="913.6" cy="460.4" rx="1.85" ry="1.39" opacity="0.43"/>
<ellipse transform="rotate(80 877.4 470.9)" cx="877.4" cy="470.9" rx="1.86" ry="1.39" opacity="0.42"/>
<ellipse transform="rotate(59 989.4 444.6)" cx="989.4" cy="444.6" rx="1.97" ry="1.48" opacity="0.56"/>
<ellipse transform="rotate(110 959.7 432.7)" cx="959.7" cy="432.7" rx="1.18" ry="0.88" opacity="0.37"/>
<ellipse transform="rotate(36 954.4 440.1)" cx="954.4" cy="440.1" rx="1.76" ry="1.32" opacity="0.45"/>
<ellipse transform="rotate(33 912.4 493.4)" cx="912.4" cy="493.4" rx="1.79" ry="1.34" opacity="0.47"/>
<ellipse transform="rotate(50 938.6 491.3)" cx="938.6" cy="491.3" rx="1.70" ry="1.28" opacity="0.78"/>
<ellipse transform="rotate(132 885.4 406.4)" cx="885.4" cy="406.4" rx="1.35" ry="1.02" opacity="0.72"/>
<ellipse transform="rotate(150 917.8 489.3)" cx="917.8" cy="489.3" rx="1.17" ry="0.88" opacity="0.78"/>
<ellipse transform="rotate(60 882.1 412.5)" cx="882.1" cy="412.5" rx="1.28" ry="0.96" opacity="0.41"/>
<ellipse transform="rotate(150 889.5 391.0)" cx="889.5" cy="391.0" rx="1.86" ry="1.40" opacity="0.61"/>
<ellipse transform="rotate(158 959.9 448.6)" cx="959.9" cy="448.6" rx="1.66" ry="1.24" opacity="0.77"/>
<ellipse transform="rotate(147 900.1 444.1)" cx="900.1" cy="444.1" rx="1.75" ry="1.31" opacity="0.78"/>
<ellipse transform="rotate(91 887.3 421.3)" cx="887.3" cy="421.3" rx="1.91" ry="1.43" opacity="0.80"/>
<ellipse transform="rotate(83 897.4 425.4)" cx="897.4" cy="425.4" rx="1.32" ry="0.99" opacity="0.62"/>
<ellipse transform="rotate(48 910.0 495.2)" cx="910.0" cy="495.2" rx="2.04" ry="1.53" opacity="0.48"/>
<ellipse transform="rotate(46 868.9 416.0)" cx="868.9" cy="416.0" rx="1.94" ry="1.45" opacity="0.67"/>
<ellipse transform="rotate(49 915.4 461.8)" cx="915.4" cy="461.8" rx="1.94" ry="1.45" opacity="0.79"/>
<ellipse transform="rotate(160 882.0 397.5)" cx="882.0" cy="397.5" rx="1.25" ry="0.93" opacity="0.78"/>
<ellipse transform="rotate(146 997.0 483.0)" cx="997.0" cy="483.0" rx="1.66" ry="1.25" opacity="0.50"/>
<ellipse transform="rotate(81 927.2 471.5)" cx="927.2" cy="471.5" rx="1.89" ry="1.42" opacity="0.62"/>
<ellipse transform="rotate(80 946.4 426.3)" cx="946.4" cy="426.3" rx="1.46" ry="1.10" opacity="0.39"/>
<ellipse transform="rotate(104 872.8 494.1)" cx="872.8" cy="494.1" rx="1.30" ry="0.97" opacity="0.44"/>
<ellipse transform="rotate(128 884.0 460.6)" cx="884.0" cy="460.6" rx="1.86" ry="1.40" opacity="0.48"/>
<ellipse transform="rotate(178 871.1 473.8)" cx="871.1" cy="473.8" rx="1.53" ry="1.15" opacity="0.78"/>
<ellipse transform="rotate(160 940.3 403.1)" cx="940.3" cy="403.1" rx="2.05" ry="1.54" opacity="0.44"/>
</g>
<g clip-path="url(#cc4)"><polygon points="932.6,494.7 942.3,494.7 955.9,463.6 971.4,428.6 988.9,388.7 979.2,387.8 961.7,424.7 946.2,461.6" fill="#f2ece4" opacity="0.55" filter="url(#pblur)"/></g>
<g clip-path="url(#cc4)"><polygon points="860.7,399.4 870.4,397.5 875.2,405.3 872.3,411.1 862.6,409.1" fill="#f4f0ea" opacity="0.6" filter="url(#pblur)"/></g>
<g clip-path="url(#cc4)"><polygon points="882.0,389.7 893.7,388.7 898.5,397.5 893.7,402.3 884.0,399.4" fill="#f4f0ea" opacity="0.6" filter="url(#pblur)"/></g>
<g clip-path="url(#cc4)"><polygon points="893.7,415.0 903.4,416.9 908.3,428.6 901.5,432.5 895.6,426.6" fill="#f4f0ea" opacity="0.55" filter="url(#pblur)"/></g>
<g clip-path="url(#cc4)"><polygon points="911.2,437.3 922.8,436.4 925.8,443.2 917.0,446.1" fill="#f4f0ea" opacity="0.55" filter="url(#pblur)"/></g>
<g clip-path="url(#cc4)"><polygon points="866.5,444.1 878.1,442.2 883.0,455.8 878.1,462.6 868.4,457.7" fill="#f4f0ea" opacity="0.6" filter="url(#pblur)"/></g>
<g clip-path="url(#cc4)"><polygon points="917.0,457.7 930.6,456.8 933.5,465.5 922.8,468.4" fill="#f4f0ea" opacity="0.55" filter="url(#pblur)"/></g>
<g clip-path="url(#cc4)"><polygon points="969.5,438.3 977.2,436.4 980.2,453.8 973.4,458.7" fill="#f4f0ea" opacity="0.55" filter="url(#pblur)"/></g>
<g clip-path="url(#cc4)"><polygon points="959.8,467.4 973.4,466.5 976.3,480.1 963.6,482.0" fill="#f4f0ea" opacity="0.5" filter="url(#pblur)"/></g>
<g clip-path="url(#cc4)"><polygon points="887.9,471.3 899.5,469.4 901.5,484.9 889.8,488.8" fill="#f4f0ea" opacity="0.5" filter="url(#pblur)"/></g>
<rect x="748.00" y="384.60" width="250.60" height="111.00" fill="none" stroke="#333" stroke-width="1.7" />
<line x1="860.30" y1="384.60" x2="860.30" y2="495.60" stroke="#222" stroke-width="1.1" />
<rect x="805.80" y="438.00" width="26.50" height="19.60" fill="none" stroke="#111" stroke-width="1.6" stroke-dasharray="3.5,2.2"/>
<line x1="832.30" y1="438.00" x2="860.30" y2="384.60" stroke="#222" stroke-width="1.1" />
<line x1="832.30" y1="457.60" x2="860.30" y2="495.60" stroke="#222" stroke-width="1.1" />
<text x="757.80" y="402.30" font-size="15.5" text-anchor="middle" fill="#222" stroke="#222" stroke-width="0.35" >N</text>
<line x1="1076.30" y1="283.00" x2="1076.30" y2="480.80" stroke="#555" stroke-width="1.6" />
<line x1="1075.30" y1="480.80" x2="1251.20" y2="480.80" stroke="#555" stroke-width="1.6" />
<line x1="1072.30" y1="480.80" x2="1076.30" y2="480.80" stroke="#555" stroke-width="1.4" />
<text x="1069.00" y="485.10" font-size="14" text-anchor="end" fill="#222" stroke="#222" stroke-width="0.35" >0</text>
<line x1="1072.30" y1="415.63" x2="1076.30" y2="415.63" stroke="#555" stroke-width="1.4" />
<text x="1069.00" y="419.93" font-size="14" text-anchor="end" fill="#222" stroke="#222" stroke-width="0.35" >5</text>
<line x1="1072.30" y1="350.47" x2="1076.30" y2="350.47" stroke="#555" stroke-width="1.4" />
<text x="1069.00" y="354.77" font-size="14" text-anchor="end" fill="#222" stroke="#222" stroke-width="0.35" >10</text>
<line x1="1072.30" y1="285.30" x2="1076.30" y2="285.30" stroke="#555" stroke-width="1.4" />
<text x="1069.00" y="289.60" font-size="14" text-anchor="end" fill="#222" stroke="#222" stroke-width="0.35" >15</text>
<line x1="1120.30" y1="480.80" x2="1120.30" y2="484.50" stroke="#555" stroke-width="1.4" />
<text x="1121.30" y="499.30" font-size="15" text-anchor="middle" fill="#1f1f1f" stroke="#1f1f1f" stroke-width="0.35" >N</text>
<line x1="1211.00" y1="480.80" x2="1211.00" y2="484.50" stroke="#555" stroke-width="1.4" />
<text x="1212.00" y="499.30" font-size="15" text-anchor="middle" fill="#1f1f1f" stroke="#1f1f1f" stroke-width="0.35" >T</text>
<text transform="translate(1037.50,387.00) rotate(-90)" x="0" y="0" font-size="16" text-anchor="middle" fill="#1f1f1f" stroke="#1f1f1f" stroke-width="0.35" textLength="133" lengthAdjust="spacingAndGlyphs" >IHC Score of GYS2</text>
<polyline points="1119.6,298.6 1119.6,290 1211.6,290 1211.6,298.6" fill="none" stroke="#555" stroke-width="1.3"/>
<circle cx="1163" cy="284.6" r="1.6" fill="#333"/><circle cx="1169" cy="284.6" r="1.6" fill="#333"/>
<text x="1222.00" y="298.00" font-size="13.5" text-anchor="start" fill="#1f1f1f" stroke="#1f1f1f" stroke-width="0.35" textLength="45" lengthAdjust="spacingAndGlyphs" ><tspan font-style="italic">n</tspan> = 763</text>
<g fill="none" stroke="#bcbcbc" stroke-width="0.8" opacity="0.7">
<circle cx="1127.6" cy="327.2" r="1.25"/>
<circle cx="1108.6" cy="327.5" r="1.25"/>
<circle cx="1132.6" cy="328.5" r="1.25"/>
<circle cx="1140.7" cy="327.3" r="1.25"/>
<circle cx="1116.2" cy="327.2" r="1.25"/>
<circle cx="1105.7" cy="328.1" r="1.25"/>
<circle cx="1095.7" cy="327.5" r="1.25"/>
<circle cx="1128.1" cy="328.2" r="1.25"/>
<circle cx="1105.8" cy="328.3" r="1.25"/>
<circle cx="1136.4" cy="327.1" r="1.25"/>
<circle cx="1136.2" cy="328.5" r="1.25"/>
<circle cx="1112.0" cy="327.4" r="1.25"/>
<circle cx="1144.1" cy="327.8" r="1.25"/>
<circle cx="1099.1" cy="327.3" r="1.25"/>
<circle cx="1138.4" cy="328.3" r="1.25"/>
<circle cx="1136.3" cy="328.6" r="1.25"/>
<circle cx="1122.2" cy="329.0" r="1.25"/>
<circle cx="1114.0" cy="328.2" r="1.25"/>
<circle cx="1137.4" cy="376.1" r="1.25"/>
<circle cx="1139.1" cy="376.0" r="1.25"/>
<circle cx="1130.9" cy="374.7" r="1.25"/>
<circle cx="1106.2" cy="375.3" r="1.25"/>
<circle cx="1098.4" cy="375.2" r="1.25"/>
<circle cx="1099.6" cy="375.3" r="1.25"/>
<circle cx="1127.4" cy="375.5" r="1.25"/>
<circle cx="1113.5" cy="375.1" r="1.25"/>
<circle cx="1108.2" cy="376.8" r="1.25"/>
<circle cx="1128.0" cy="376.1" r="1.25"/>
<circle cx="1103.2" cy="376.3" r="1.25"/>
<circle cx="1102.8" cy="375.5" r="1.25"/>
<circle cx="1145.8" cy="376.1" r="1.25"/>
<circle cx="1123.3" cy="376.2" r="1.25"/>
<circle cx="1138.1" cy="376.5" r="1.25"/>
<circle cx="1106.2" cy="374.7" r="1.25"/>
<circle cx="1110.7" cy="375.2" r="1.25"/>
<circle cx="1105.3" cy="376.9" r="1.25"/>
<circle cx="1139.9" cy="375.4" r="1.25"/>
<circle cx="1128.4" cy="375.5" r="1.25"/>
<circle cx="1141.9" cy="375.7" r="1.25"/>
<circle cx="1108.1" cy="375.2" r="1.25"/>
<circle cx="1123.5" cy="375.2" r="1.25"/>
<circle cx="1124.7" cy="376.8" r="1.25"/>
<circle cx="1115.1" cy="375.1" r="1.25"/>
<circle cx="1146.2" cy="375.8" r="1.25"/>
<circle cx="1099.0" cy="374.7" r="1.25"/>
<circle cx="1100.0" cy="376.1" r="1.25"/>
<circle cx="1135.5" cy="375.6" r="1.25"/>
<circle cx="1097.6" cy="375.5" r="1.25"/>
<circle cx="1146.1" cy="375.9" r="1.25"/>
<circle cx="1144.8" cy="376.7" r="1.25"/>
<circle cx="1094.9" cy="376.3" r="1.25"/>
<circle cx="1129.7" cy="375.9" r="1.25"/>
<circle cx="1108.2" cy="376.1" r="1.25"/>
<circle cx="1100.1" cy="375.6" r="1.25"/>
<circle cx="1117.9" cy="376.9" r="1.25"/>
<circle cx="1139.8" cy="375.2" r="1.25"/>
<circle cx="1120.3" cy="375.0" r="1.25"/>
<circle cx="1141.8" cy="376.7" r="1.25"/>
<circle cx="1109.8" cy="376.1" r="1.25"/>
<circle cx="1126.0" cy="375.0" r="1.25"/>
<circle cx="1134.0" cy="375.9" r="1.25"/>
<circle cx="1134.8" cy="375.9" r="1.25"/>
<circle cx="1094.3" cy="375.4" r="1.25"/>
<circle cx="1095.3" cy="376.8" r="1.25"/>
<circle cx="1140.0" cy="376.6" r="1.25"/>
<circle cx="1110.3" cy="374.7" r="1.25"/>
<circle cx="1140.0" cy="376.9" r="1.25"/>
<circle cx="1098.8" cy="375.8" r="1.25"/>
<circle cx="1097.9" cy="376.4" r="1.25"/>
<circle cx="1134.1" cy="374.9" r="1.25"/>
<circle cx="1119.0" cy="375.9" r="1.25"/>
<circle cx="1108.1" cy="376.7" r="1.25"/>
<circle cx="1116.3" cy="375.1" r="1.25"/>
<circle cx="1122.3" cy="376.4" r="1.25"/>
<circle cx="1104.8" cy="375.3" r="1.25"/>
<circle cx="1146.0" cy="376.2" r="1.25"/>
<circle cx="1117.1" cy="375.8" r="1.25"/>
<circle cx="1100.6" cy="375.1" r="1.25"/>
<circle cx="1111.9" cy="401.4" r="1.25"/>
<circle cx="1106.3" cy="400.6" r="1.25"/>
<circle cx="1098.0" cy="401.5" r="1.25"/>
<circle cx="1106.2" cy="402.0" r="1.25"/>
<circle cx="1139.0" cy="400.3" r="1.25"/>
<circle cx="1106.7" cy="401.5" r="1.25"/>
<circle cx="1105.4" cy="400.5" r="1.25"/>
<circle cx="1142.9" cy="401.3" r="1.25"/>
<circle cx="1118.9" cy="401.8" r="1.25"/>
<circle cx="1136.3" cy="400.6" r="1.25"/>
<circle cx="1099.3" cy="401.1" r="1.25"/>
<circle cx="1116.3" cy="401.1" r="1.25"/>
<circle cx="1132.2" cy="401.5" r="1.25"/>
<circle cx="1145.5" cy="400.4" r="1.25"/>
<circle cx="1115.2" cy="400.9" r="1.25"/>
<circle cx="1139.1" cy="400.7" r="1.25"/>
<circle cx="1104.2" cy="424.4" r="1.25"/>
<circle cx="1116.2" cy="424.0" r="1.25"/>
<circle cx="1107.3" cy="425.5" r="1.25"/>
<circle cx="1117.3" cy="425.4" r="1.25"/>
<circle cx="1122.9" cy="423.4" r="1.25"/>
<circle cx="1146.3" cy="425.3" r="1.25"/>
<circle cx="1144.7" cy="425.5" r="1.25"/>
<circle cx="1138.4" cy="423.7" r="1.25"/>
<circle cx="1119.6" cy="423.8" r="1.25"/>
<circle cx="1115.2" cy="423.4" r="1.25"/>
<circle cx="1114.0" cy="425.7" r="1.25"/>
<circle cx="1108.1" cy="425.2" r="1.25"/>
<circle cx="1118.0" cy="424.3" r="1.25"/>
<circle cx="1144.1" cy="425.7" r="1.25"/>
<circle cx="1123.2" cy="425.0" r="1.25"/>
<circle cx="1102.3" cy="424.0" r="1.25"/>
<circle cx="1144.7" cy="424.7" r="1.25"/>
<circle cx="1122.5" cy="425.1" r="1.25"/>
<circle cx="1097.3" cy="424.7" r="1.25"/>
<circle cx="1120.4" cy="425.3" r="1.25"/>
<circle cx="1102.5" cy="425.6" r="1.25"/>
<circle cx="1098.5" cy="423.7" r="1.25"/>
<circle cx="1125.2" cy="424.9" r="1.25"/>
<circle cx="1106.5" cy="423.6" r="1.25"/>
<circle cx="1140.6" cy="423.9" r="1.25"/>
<circle cx="1125.2" cy="424.8" r="1.25"/>
<circle cx="1116.1" cy="424.7" r="1.25"/>
<circle cx="1121.5" cy="425.5" r="1.25"/>
<circle cx="1104.9" cy="425.0" r="1.25"/>
<circle cx="1106.7" cy="424.2" r="1.25"/>
<circle cx="1129.2" cy="424.0" r="1.25"/>
<circle cx="1110.7" cy="425.1" r="1.25"/>
<circle cx="1098.1" cy="424.4" r="1.25"/>
<circle cx="1146.2" cy="425.7" r="1.25"/>
<circle cx="1098.1" cy="423.8" r="1.25"/>
<circle cx="1108.1" cy="425.5" r="1.25"/>
<circle cx="1140.1" cy="425.4" r="1.25"/>
<circle cx="1113.5" cy="423.7" r="1.25"/>
<circle cx="1137.7" cy="425.0" r="1.25"/>
<circle cx="1126.1" cy="425.7" r="1.25"/>
<circle cx="1128.3" cy="423.3" r="1.25"/>
<circle cx="1136.8" cy="424.0" r="1.25"/>
<circle cx="1128.8" cy="425.6" r="1.25"/>
<circle cx="1101.3" cy="423.6" r="1.25"/>
<circle cx="1099.9" cy="424.6" r="1.25"/>
<circle cx="1108.5" cy="424.8" r="1.25"/>
<circle cx="1131.6" cy="423.8" r="1.25"/>
<circle cx="1127.3" cy="423.9" r="1.25"/>
<circle cx="1119.7" cy="425.5" r="1.25"/>
<circle cx="1138.3" cy="423.5" r="1.25"/>
<circle cx="1116.3" cy="424.0" r="1.25"/>
<circle cx="1094.5" cy="425.2" r="1.25"/>
<circle cx="1127.4" cy="423.9" r="1.25"/>
<circle cx="1132.8" cy="424.6" r="1.25"/>
<circle cx="1116.5" cy="423.3" r="1.25"/>
<circle cx="1098.2" cy="425.4" r="1.25"/>
<circle cx="1141.3" cy="424.6" r="1.25"/>
<circle cx="1137.7" cy="424.7" r="1.25"/>
<circle cx="1102.0" cy="423.6" r="1.25"/>
<circle cx="1110.3" cy="425.5" r="1.25"/>
<circle cx="1135.7" cy="438.2" r="1.25"/>
<circle cx="1141.0" cy="436.6" r="1.25"/>
<circle cx="1107.3" cy="436.3" r="1.25"/>
<circle cx="1134.9" cy="438.2" r="1.25"/>
<circle cx="1115.4" cy="437.6" r="1.25"/>
<circle cx="1102.3" cy="438.3" r="1.25"/>
<circle cx="1139.3" cy="438.4" r="1.25"/>
<circle cx="1136.5" cy="438.2" r="1.25"/>
<circle cx="1095.6" cy="437.9" r="1.25"/>
<circle cx="1111.6" cy="438.3" r="1.25"/>
<circle cx="1136.0" cy="438.2" r="1.25"/>
<circle cx="1136.5" cy="436.7" r="1.25"/>
<circle cx="1135.2" cy="436.4" r="1.25"/>
<circle cx="1139.7" cy="438.2" r="1.25"/>
<circle cx="1105.9" cy="438.1" r="1.25"/>
<circle cx="1118.2" cy="436.8" r="1.25"/>
<circle cx="1135.7" cy="436.6" r="1.25"/>
<circle cx="1095.5" cy="436.6" r="1.25"/>
<circle cx="1111.4" cy="438.2" r="1.25"/>
<circle cx="1144.6" cy="436.8" r="1.25"/>
<circle cx="1127.7" cy="437.1" r="1.25"/>
<circle cx="1145.3" cy="437.4" r="1.25"/>
<circle cx="1143.1" cy="436.4" r="1.25"/>
<circle cx="1144.8" cy="436.5" r="1.25"/>
<circle cx="1144.4" cy="436.7" r="1.25"/>
<circle cx="1099.9" cy="437.1" r="1.25"/>
<circle cx="1132.2" cy="436.9" r="1.25"/>
<circle cx="1125.8" cy="437.3" r="1.25"/>
<circle cx="1114.3" cy="449.1" r="1.25"/>
<circle cx="1107.5" cy="449.4" r="1.25"/>
<circle cx="1094.4" cy="449.9" r="1.25"/>
<circle cx="1122.3" cy="449.4" r="1.25"/>
<circle cx="1132.9" cy="449.3" r="1.25"/>
<circle cx="1113.2" cy="447.9" r="1.25"/>
<circle cx="1128.8" cy="448.5" r="1.25"/>
<circle cx="1110.6" cy="449.7" r="1.25"/>
<circle cx="1131.7" cy="448.4" r="1.25"/>
<circle cx="1110.4" cy="448.7" r="1.25"/>
<circle cx="1115.2" cy="448.4" r="1.25"/>
<circle cx="1100.9" cy="448.7" r="1.25"/>
<circle cx="1143.2" cy="449.3" r="1.25"/>
<circle cx="1141.2" cy="449.2" r="1.25"/>
<circle cx="1109.9" cy="449.0" r="1.25"/>
<circle cx="1094.3" cy="448.4" r="1.25"/>
<circle cx="1116.7" cy="460.2" r="1.25"/>
<circle cx="1128.3" cy="459.9" r="1.25"/>
<circle cx="1117.3" cy="459.3" r="1.25"/>
<circle cx="1118.9" cy="461.0" r="1.25"/>
<circle cx="1135.7" cy="459.2" r="1.25"/>
<circle cx="1098.7" cy="460.0" r="1.25"/>
<circle cx="1127.2" cy="459.6" r="1.25"/>
<circle cx="1136.9" cy="460.6" r="1.25"/>
<circle cx="1129.3" cy="459.3" r="1.25"/>
<circle cx="1104.7" cy="458.9" r="1.25"/>
<circle cx="1107.0" cy="459.9" r="1.25"/>
<circle cx="1138.5" cy="459.0" r="1.25"/>
<circle cx="1115.9" cy="460.3" r="1.25"/>
<circle cx="1104.4" cy="460.5" r="1.25"/>
<circle cx="1120.0" cy="472.6" r="1.25"/>
<circle cx="1128.4" cy="472.0" r="1.25"/>
<circle cx="1133.4" cy="473.8" r="1.25"/>
<circle cx="1099.8" cy="473.0" r="1.25"/>
<circle cx="1103.4" cy="474.3" r="1.25"/>
<circle cx="1121.2" cy="472.1" r="1.25"/>
<circle cx="1107.3" cy="474.0" r="1.25"/>
<circle cx="1118.0" cy="473.9" r="1.25"/>
<circle cx="1129.0" cy="474.4" r="1.25"/>
<circle cx="1125.3" cy="474.3" r="1.25"/>
<circle cx="1140.7" cy="473.5" r="1.25"/>
<circle cx="1131.7" cy="473.2" r="1.25"/>
<circle cx="1137.5" cy="473.3" r="1.25"/>
<circle cx="1141.0" cy="473.8" r="1.25"/>
<circle cx="1119.0" cy="472.6" r="1.25"/>
<circle cx="1107.2" cy="473.5" r="1.25"/>
<circle cx="1225.4" cy="328.1" r="1.25"/>
<circle cx="1217.8" cy="327.6" r="1.25"/>
<circle cx="1188.2" cy="327.7" r="1.25"/>
<circle cx="1198.7" cy="327.7" r="1.25"/>
<circle cx="1213.2" cy="327.4" r="1.25"/>
<circle cx="1196.5" cy="328.5" r="1.25"/>
<circle cx="1222.1" cy="327.2" r="1.25"/>
<circle cx="1206.0" cy="328.2" r="1.25"/>
<circle cx="1206.5" cy="327.5" r="1.25"/>
<circle cx="1206.7" cy="328.9" r="1.25"/>
<circle cx="1215.5" cy="328.5" r="1.25"/>
<circle cx="1230.3" cy="328.6" r="1.25"/>
<circle cx="1204.5" cy="350.5" r="1.25"/>
<circle cx="1203.0" cy="352.0" r="1.25"/>
<circle cx="1230.1" cy="352.4" r="1.25"/>
<circle cx="1206.6" cy="352.0" r="1.25"/>
<circle cx="1213.5" cy="367.8" r="1.25"/>
<circle cx="1195.9" cy="376.1" r="1.25"/>
<circle cx="1207.5" cy="375.6" r="1.25"/>
<circle cx="1202.2" cy="377.3" r="1.25"/>
<circle cx="1205.8" cy="375.9" r="1.25"/>
<circle cx="1209.2" cy="375.8" r="1.25"/>
<circle cx="1217.6" cy="375.6" r="1.25"/>
<circle cx="1205.3" cy="377.0" r="1.25"/>
<circle cx="1185.5" cy="377.2" r="1.25"/>
<circle cx="1191.3" cy="376.7" r="1.25"/>
<circle cx="1186.7" cy="376.5" r="1.25"/>
<circle cx="1195.4" cy="376.3" r="1.25"/>
<circle cx="1225.1" cy="376.5" r="1.25"/>
<circle cx="1224.6" cy="377.7" r="1.25"/>
<circle cx="1197.6" cy="375.7" r="1.25"/>
<circle cx="1185.0" cy="376.9" r="1.25"/>
<circle cx="1238.0" cy="376.4" r="1.25"/>
<circle cx="1219.1" cy="377.5" r="1.25"/>
<circle cx="1219.2" cy="377.5" r="1.25"/>
<circle cx="1235.3" cy="376.0" r="1.25"/>
<circle cx="1185.1" cy="375.9" r="1.25"/>
<circle cx="1190.8" cy="377.2" r="1.25"/>
<circle cx="1214.5" cy="376.1" r="1.25"/>
<circle cx="1221.8" cy="377.5" r="1.25"/>
<circle cx="1193.1" cy="377.1" r="1.25"/>
<circle cx="1224.4" cy="375.8" r="1.25"/>
<circle cx="1228.2" cy="378.0" r="1.25"/>
<circle cx="1189.8" cy="375.6" r="1.25"/>
<circle cx="1200.8" cy="377.3" r="1.25"/>
<circle cx="1235.7" cy="376.5" r="1.25"/>
<circle cx="1222.6" cy="375.7" r="1.25"/>
<circle cx="1221.3" cy="377.1" r="1.25"/>
<circle cx="1189.5" cy="377.5" r="1.25"/>
<circle cx="1229.9" cy="377.1" r="1.25"/>
<circle cx="1190.5" cy="378.1" r="1.25"/>
<circle cx="1226.3" cy="376.4" r="1.25"/>
<circle cx="1207.1" cy="376.5" r="1.25"/>
<circle cx="1211.3" cy="376.4" r="1.25"/>
<circle cx="1229.9" cy="377.6" r="1.25"/>
<circle cx="1189.7" cy="378.0" r="1.25"/>
<circle cx="1218.3" cy="377.7" r="1.25"/>
<circle cx="1222.2" cy="376.6" r="1.25"/>
<circle cx="1223.6" cy="378.0" r="1.25"/>
<circle cx="1198.6" cy="377.6" r="1.25"/>
<circle cx="1213.1" cy="376.8" r="1.25"/>
<circle cx="1207.5" cy="377.4" r="1.25"/>
<circle cx="1198.5" cy="377.7" r="1.25"/>
<circle cx="1228.9" cy="375.7" r="1.25"/>
<circle cx="1231.6" cy="376.1" r="1.25"/>
<circle cx="1209.1" cy="377.1" r="1.25"/>
<circle cx="1204.5" cy="375.6" r="1.25"/>
<circle cx="1230.0" cy="376.0" r="1.25"/>
<circle cx="1195.5" cy="377.6" r="1.25"/>
<circle cx="1202.4" cy="377.8" r="1.25"/>
<circle cx="1221.9" cy="376.2" r="1.25"/>
<circle cx="1184.5" cy="378.0" r="1.25"/>
<circle cx="1188.6" cy="377.4" r="1.25"/>
<circle cx="1210.4" cy="377.5" r="1.25"/>
<circle cx="1221.3" cy="377.2" r="1.25"/>
<circle cx="1210.5" cy="377.6" r="1.25"/>
<circle cx="1189.0" cy="376.1" r="1.25"/>
<circle cx="1221.4" cy="376.3" r="1.25"/>
<circle cx="1215.4" cy="376.7" r="1.25"/>
<circle cx="1212.7" cy="376.6" r="1.25"/>
<circle cx="1224.3" cy="376.4" r="1.25"/>
<circle cx="1222.0" cy="376.2" r="1.25"/>
<circle cx="1197.6" cy="375.8" r="1.25"/>
<circle cx="1194.4" cy="375.8" r="1.25"/>
<circle cx="1212.9" cy="377.5" r="1.25"/>
<circle cx="1194.0" cy="376.1" r="1.25"/>
<circle cx="1210.1" cy="377.4" r="1.25"/>
<circle cx="1236.7" cy="389.1" r="1.25"/>
<circle cx="1199.3" cy="388.0" r="1.25"/>
<circle cx="1194.5" cy="388.3" r="1.25"/>
<circle cx="1193.7" cy="387.8" r="1.25"/>
<circle cx="1212.8" cy="388.5" r="1.25"/>
<circle cx="1236.6" cy="389.1" r="1.25"/>
<circle cx="1221.7" cy="388.1" r="1.25"/>
<circle cx="1230.9" cy="389.0" r="1.25"/>
<circle cx="1231.1" cy="389.2" r="1.25"/>
<circle cx="1209.3" cy="388.9" r="1.25"/>
<circle cx="1194.0" cy="387.9" r="1.25"/>
<circle cx="1234.8" cy="388.9" r="1.25"/>
<circle cx="1228.4" cy="388.8" r="1.25"/>
<circle cx="1188.0" cy="389.3" r="1.25"/>
<circle cx="1186.9" cy="388.2" r="1.25"/>
<circle cx="1214.4" cy="388.5" r="1.25"/>
<circle cx="1237.7" cy="388.1" r="1.25"/>
<circle cx="1225.3" cy="389.3" r="1.25"/>
<circle cx="1226.7" cy="388.3" r="1.25"/>
<circle cx="1212.2" cy="388.9" r="1.25"/>
<circle cx="1207.9" cy="389.9" r="1.25"/>
<circle cx="1237.5" cy="388.5" r="1.25"/>
<circle cx="1217.5" cy="389.3" r="1.25"/>
<circle cx="1224.0" cy="390.1" r="1.25"/>
<circle cx="1195.2" cy="388.3" r="1.25"/>
<circle cx="1219.7" cy="400.4" r="1.25"/>
<circle cx="1193.4" cy="400.2" r="1.25"/>
<circle cx="1184.1" cy="401.1" r="1.25"/>
<circle cx="1216.1" cy="400.7" r="1.25"/>
<circle cx="1196.5" cy="401.7" r="1.25"/>
<circle cx="1222.0" cy="401.1" r="1.25"/>
<circle cx="1221.1" cy="402.2" r="1.25"/>
<circle cx="1226.5" cy="401.5" r="1.25"/>
<circle cx="1219.7" cy="402.2" r="1.25"/>
<circle cx="1207.0" cy="401.3" r="1.25"/>
<circle cx="1219.0" cy="402.2" r="1.25"/>
<circle cx="1228.6" cy="400.2" r="1.25"/>
<circle cx="1193.0" cy="400.7" r="1.25"/>
<circle cx="1224.4" cy="401.4" r="1.25"/>
<circle cx="1199.6" cy="400.3" r="1.25"/>
<circle cx="1221.2" cy="401.7" r="1.25"/>
<circle cx="1234.9" cy="401.2" r="1.25"/>
<circle cx="1210.7" cy="400.2" r="1.25"/>
<circle cx="1186.2" cy="401.0" r="1.25"/>
<circle cx="1201.4" cy="400.6" r="1.25"/>
<circle cx="1188.9" cy="402.3" r="1.25"/>
<circle cx="1229.1" cy="401.4" r="1.25"/>
<circle cx="1235.3" cy="402.4" r="1.25"/>
<circle cx="1220.3" cy="400.6" r="1.25"/>
<circle cx="1186.2" cy="401.8" r="1.25"/>
<circle cx="1209.4" cy="401.6" r="1.25"/>
<circle cx="1233.5" cy="400.4" r="1.25"/>
<circle cx="1215.6" cy="401.5" r="1.25"/>
<circle cx="1210.6" cy="400.2" r="1.25"/>
<circle cx="1202.8" cy="400.8" r="1.25"/>
<circle cx="1220.2" cy="402.1" r="1.25"/>
<circle cx="1201.8" cy="401.7" r="1.25"/>
<circle cx="1199.6" cy="402.3" r="1.25"/>
<circle cx="1227.9" cy="401.3" r="1.25"/>
<circle cx="1208.6" cy="400.8" r="1.25"/>
<circle cx="1201.5" cy="402.3" r="1.25"/>
<circle cx="1205.8" cy="401.2" r="1.25"/>
<circle cx="1237.4" cy="401.6" r="1.25"/>
<circle cx="1213.3" cy="401.0" r="1.25"/>
<circle cx="1194.1" cy="400.9" r="1.25"/>
<circle cx="1224.8" cy="401.5" r="1.25"/>
<circle cx="1225.0" cy="400.5" r="1.25"/>
<circle cx="1213.7" cy="402.2" r="1.25"/>
<circle cx="1207.7" cy="401.7" r="1.25"/>
<circle cx="1190.6" cy="402.3" r="1.25"/>
<circle cx="1216.9" cy="400.6" r="1.25"/>
<circle cx="1192.6" cy="401.3" r="1.25"/>
<circle cx="1213.8" cy="400.2" r="1.25"/>
<circle cx="1237.6" cy="402.2" r="1.25"/>
<circle cx="1208.9" cy="400.3" r="1.25"/>
<circle cx="1228.9" cy="412.3" r="1.25"/>
<circle cx="1222.7" cy="412.3" r="1.25"/>
<circle cx="1198.8" cy="413.3" r="1.25"/>
<circle cx="1236.9" cy="411.5" r="1.25"/>
<circle cx="1213.8" cy="412.0" r="1.25"/>
<circle cx="1233.8" cy="412.3" r="1.25"/>
<circle cx="1231.5" cy="413.4" r="1.25"/>
<circle cx="1198.9" cy="413.2" r="1.25"/>
<circle cx="1206.4" cy="413.6" r="1.25"/>
<circle cx="1211.4" cy="413.3" r="1.25"/>
<circle cx="1199.3" cy="411.7" r="1.25"/>
<circle cx="1215.7" cy="413.8" r="1.25"/>
<circle cx="1210.4" cy="411.2" r="1.25"/>
<circle cx="1213.1" cy="411.8" r="1.25"/>
<circle cx="1213.8" cy="412.4" r="1.25"/>
<circle cx="1208.6" cy="411.8" r="1.25"/>
<circle cx="1194.2" cy="412.9" r="1.25"/>
<circle cx="1214.9" cy="411.5" r="1.25"/>
<circle cx="1225.9" cy="410.9" r="1.25"/>
<circle cx="1224.2" cy="412.9" r="1.25"/>
<circle cx="1227.8" cy="412.0" r="1.25"/>
<circle cx="1219.8" cy="413.3" r="1.25"/>
<circle cx="1237.0" cy="412.3" r="1.25"/>
<circle cx="1186.0" cy="412.3" r="1.25"/>
<circle cx="1215.9" cy="413.4" r="1.25"/>
<circle cx="1231.2" cy="412.1" r="1.25"/>
<circle cx="1212.4" cy="412.2" r="1.25"/>
<circle cx="1223.0" cy="412.0" r="1.25"/>
<circle cx="1219.4" cy="411.3" r="1.25"/>
<circle cx="1209.4" cy="413.7" r="1.25"/>
<circle cx="1202.3" cy="419.6" r="1.25"/>
<circle cx="1219.1" cy="420.1" r="1.25"/>
<circle cx="1230.0" cy="420.1" r="1.25"/>
<circle cx="1204.5" cy="418.4" r="1.25"/>
<circle cx="1222.8" cy="419.8" r="1.25"/>
<circle cx="1231.1" cy="417.6" r="1.25"/>
<circle cx="1187.7" cy="419.4" r="1.25"/>
<circle cx="1233.7" cy="420.5" r="1.25"/>
<circle cx="1224.3" cy="418.8" r="1.25"/>
<circle cx="1189.3" cy="419.4" r="1.25"/>
<circle cx="1231.1" cy="418.8" r="1.25"/>
<circle cx="1221.5" cy="420.2" r="1.25"/>
<circle cx="1186.5" cy="419.9" r="1.25"/>
<circle cx="1199.8" cy="418.6" r="1.25"/>
<circle cx="1191.9" cy="419.1" r="1.25"/>
<circle cx="1214.6" cy="419.9" r="1.25"/>
<circle cx="1193.2" cy="417.7" r="1.25"/>
<circle cx="1231.0" cy="419.4" r="1.25"/>
<circle cx="1197.0" cy="420.2" r="1.25"/>
<circle cx="1191.7" cy="418.9" r="1.25"/>
<circle cx="1197.7" cy="424.9" r="1.25"/>
<circle cx="1184.5" cy="426.2" r="1.25"/>
<circle cx="1232.7" cy="425.9" r="1.25"/>
<circle cx="1192.5" cy="425.4" r="1.25"/>
<circle cx="1202.7" cy="425.7" r="1.25"/>
<circle cx="1218.5" cy="425.3" r="1.25"/>
<circle cx="1197.5" cy="426.3" r="1.25"/>
<circle cx="1194.8" cy="425.2" r="1.25"/>
<circle cx="1210.1" cy="424.9" r="1.25"/>
<circle cx="1214.9" cy="425.7" r="1.25"/>
<circle cx="1237.6" cy="425.0" r="1.25"/>
<circle cx="1236.8" cy="425.9" r="1.25"/>
<circle cx="1198.8" cy="425.7" r="1.25"/>
<circle cx="1221.0" cy="426.1" r="1.25"/>
<circle cx="1186.6" cy="425.8" r="1.25"/>
<circle cx="1210.8" cy="426.5" r="1.25"/>
<circle cx="1199.5" cy="426.2" r="1.25"/>
<circle cx="1216.8" cy="425.1" r="1.25"/>
<circle cx="1218.4" cy="425.8" r="1.25"/>
<circle cx="1220.6" cy="426.0" r="1.25"/>
<circle cx="1219.6" cy="426.3" r="1.25"/>
<circle cx="1217.9" cy="426.5" r="1.25"/>
<circle cx="1218.9" cy="425.0" r="1.25"/>
<circle cx="1207.8" cy="425.7" r="1.25"/>
<circle cx="1223.5" cy="424.5" r="1.25"/>
<circle cx="1199.9" cy="426.1" r="1.25"/>
<circle cx="1193.5" cy="424.6" r="1.25"/>
<circle cx="1213.1" cy="426.6" r="1.25"/>
<circle cx="1212.7" cy="426.5" r="1.25"/>
<circle cx="1228.8" cy="424.9" r="1.25"/>
<circle cx="1228.5" cy="425.5" r="1.25"/>
<circle cx="1227.6" cy="426.1" r="1.25"/>
<circle cx="1202.3" cy="424.6" r="1.25"/>
<circle cx="1236.0" cy="424.6" r="1.25"/>
<circle cx="1236.2" cy="426.4" r="1.25"/>
<circle cx="1223.1" cy="426.7" r="1.25"/>
<circle cx="1236.2" cy="426.2" r="1.25"/>
<circle cx="1203.8" cy="426.2" r="1.25"/>
<circle cx="1184.8" cy="425.6" r="1.25"/>
<circle cx="1208.6" cy="425.9" r="1.25"/>
<circle cx="1220.3" cy="425.7" r="1.25"/>
<circle cx="1228.4" cy="426.6" r="1.25"/>
<circle cx="1189.9" cy="424.9" r="1.25"/>
<circle cx="1185.4" cy="426.4" r="1.25"/>
<circle cx="1214.3" cy="426.5" r="1.25"/>
<circle cx="1196.0" cy="424.5" r="1.25"/>
<circle cx="1228.5" cy="426.5" r="1.25"/>
<circle cx="1200.3" cy="425.3" r="1.25"/>
<circle cx="1191.5" cy="426.6" r="1.25"/>
<circle cx="1200.4" cy="425.5" r="1.25"/>
<circle cx="1189.2" cy="439.9" r="1.25"/>
<circle cx="1191.3" cy="435.5" r="1.25"/>
<circle cx="1220.2" cy="438.4" r="1.25"/>
<circle cx="1235.1" cy="435.2" r="1.25"/>
<circle cx="1224.1" cy="432.5" r="1.25"/>
<circle cx="1206.4" cy="432.0" r="1.25"/>
<circle cx="1210.4" cy="435.1" r="1.25"/>
<circle cx="1235.4" cy="431.3" r="1.25"/>
<circle cx="1204.0" cy="435.4" r="1.25"/>
<circle cx="1235.3" cy="439.6" r="1.25"/>
<circle cx="1189.4" cy="437.9" r="1.25"/>
<circle cx="1213.4" cy="440.8" r="1.25"/>
<circle cx="1203.4" cy="435.0" r="1.25"/>
<circle cx="1194.2" cy="432.2" r="1.25"/>
<circle cx="1229.8" cy="435.5" r="1.25"/>
<circle cx="1219.8" cy="437.4" r="1.25"/>
<circle cx="1216.2" cy="431.2" r="1.25"/>
<circle cx="1226.5" cy="433.4" r="1.25"/>
<circle cx="1190.8" cy="436.6" r="1.25"/>
<circle cx="1187.7" cy="438.7" r="1.25"/>
<circle cx="1195.2" cy="433.2" r="1.25"/>
<circle cx="1231.0" cy="434.3" r="1.25"/>
<circle cx="1192.0" cy="440.0" r="1.25"/>
<circle cx="1184.2" cy="439.6" r="1.25"/>
<circle cx="1191.8" cy="432.3" r="1.25"/>
<circle cx="1197.5" cy="432.7" r="1.25"/>
<circle cx="1219.7" cy="431.3" r="1.25"/>
<circle cx="1184.8" cy="438.9" r="1.25"/>
<circle cx="1196.8" cy="434.2" r="1.25"/>
<circle cx="1193.4" cy="431.5" r="1.25"/>
<circle cx="1224.1" cy="436.3" r="1.25"/>
<circle cx="1224.3" cy="435.8" r="1.25"/>
<circle cx="1226.0" cy="436.1" r="1.25"/>
<circle cx="1189.9" cy="436.0" r="1.25"/>
<circle cx="1235.1" cy="431.4" r="1.25"/>
<circle cx="1226.3" cy="439.7" r="1.25"/>
<circle cx="1212.2" cy="435.6" r="1.25"/>
<circle cx="1236.1" cy="431.6" r="1.25"/>
<circle cx="1209.9" cy="435.0" r="1.25"/>
<circle cx="1221.0" cy="435.9" r="1.25"/>
<circle cx="1233.1" cy="431.7" r="1.25"/>
<circle cx="1188.4" cy="437.1" r="1.25"/>
<circle cx="1187.5" cy="433.8" r="1.25"/>
<circle cx="1218.2" cy="436.5" r="1.25"/>
<circle cx="1201.6" cy="440.9" r="1.25"/>
<circle cx="1212.7" cy="435.5" r="1.25"/>
<circle cx="1216.7" cy="432.0" r="1.25"/>
<circle cx="1221.9" cy="439.5" r="1.25"/>
<circle cx="1219.1" cy="438.7" r="1.25"/>
<circle cx="1222.9" cy="433.2" r="1.25"/>
<circle cx="1208.4" cy="433.3" r="1.25"/>
<circle cx="1202.3" cy="435.5" r="1.25"/>
<circle cx="1206.5" cy="432.0" r="1.25"/>
<circle cx="1207.0" cy="437.7" r="1.25"/>
<circle cx="1204.2" cy="432.5" r="1.25"/>
<circle cx="1233.8" cy="431.7" r="1.25"/>
<circle cx="1228.9" cy="431.9" r="1.25"/>
<circle cx="1189.2" cy="438.4" r="1.25"/>
<circle cx="1227.8" cy="436.6" r="1.25"/>
<circle cx="1215.7" cy="436.6" r="1.25"/>
<circle cx="1201.8" cy="432.2" r="1.25"/>
<circle cx="1203.1" cy="437.7" r="1.25"/>
<circle cx="1224.5" cy="439.7" r="1.25"/>
<circle cx="1222.9" cy="440.7" r="1.25"/>
<circle cx="1216.4" cy="434.5" r="1.25"/>
<circle cx="1215.2" cy="433.1" r="1.25"/>
<circle cx="1219.5" cy="433.2" r="1.25"/>
<circle cx="1189.8" cy="439.5" r="1.25"/>
<circle cx="1203.8" cy="438.6" r="1.25"/>
<circle cx="1215.0" cy="439.1" r="1.25"/>
<circle cx="1229.6" cy="440.7" r="1.25"/>
<circle cx="1228.2" cy="437.1" r="1.25"/>
<circle cx="1218.7" cy="431.3" r="1.25"/>
<circle cx="1234.2" cy="439.3" r="1.25"/>
<circle cx="1198.4" cy="432.8" r="1.25"/>
<circle cx="1221.9" cy="434.1" r="1.25"/>
<circle cx="1202.4" cy="431.1" r="1.25"/>
<circle cx="1231.0" cy="436.7" r="1.25"/>
<circle cx="1205.6" cy="432.4" r="1.25"/>
<circle cx="1218.2" cy="431.3" r="1.25"/>
<circle cx="1224.3" cy="433.2" r="1.25"/>
<circle cx="1206.7" cy="434.4" r="1.25"/>
<circle cx="1204.0" cy="438.2" r="1.25"/>
<circle cx="1225.9" cy="436.7" r="1.25"/>
<circle cx="1188.6" cy="431.5" r="1.25"/>
<circle cx="1192.5" cy="437.2" r="1.25"/>
<circle cx="1220.4" cy="433.7" r="1.25"/>
<circle cx="1219.7" cy="435.9" r="1.25"/>
<circle cx="1207.9" cy="433.7" r="1.25"/>
<circle cx="1224.8" cy="432.1" r="1.25"/>
<circle cx="1207.2" cy="452.0" r="1.25"/>
<circle cx="1220.6" cy="454.8" r="1.25"/>
<circle cx="1220.0" cy="448.6" r="1.25"/>
<circle cx="1205.3" cy="456.4" r="1.25"/>
<circle cx="1184.4" cy="452.2" r="1.25"/>
<circle cx="1195.4" cy="449.9" r="1.25"/>
<circle cx="1197.8" cy="452.6" r="1.25"/>
<circle cx="1184.4" cy="458.5" r="1.25"/>
<circle cx="1193.5" cy="453.3" r="1.25"/>
<circle cx="1222.0" cy="455.0" r="1.25"/>
<circle cx="1229.0" cy="459.3" r="1.25"/>
<circle cx="1187.9" cy="460.1" r="1.25"/>
<circle cx="1186.3" cy="448.3" r="1.25"/>
<circle cx="1233.7" cy="460.1" r="1.25"/>
<circle cx="1215.1" cy="456.0" r="1.25"/>
<circle cx="1222.3" cy="453.8" r="1.25"/>
<circle cx="1190.2" cy="448.3" r="1.25"/>
<circle cx="1201.5" cy="459.2" r="1.25"/>
<circle cx="1217.4" cy="459.6" r="1.25"/>
<circle cx="1233.7" cy="449.2" r="1.25"/>
<circle cx="1229.6" cy="451.4" r="1.25"/>
<circle cx="1215.8" cy="455.3" r="1.25"/>
<circle cx="1205.4" cy="452.3" r="1.25"/>
<circle cx="1202.3" cy="452.7" r="1.25"/>
<circle cx="1193.1" cy="455.1" r="1.25"/>
<circle cx="1190.2" cy="455.1" r="1.25"/>
<circle cx="1232.9" cy="452.9" r="1.25"/>
<circle cx="1223.3" cy="459.5" r="1.25"/>
<circle cx="1228.0" cy="451.3" r="1.25"/>
<circle cx="1191.9" cy="450.8" r="1.25"/>
<circle cx="1216.5" cy="458.6" r="1.25"/>
<circle cx="1219.4" cy="450.5" r="1.25"/>
<circle cx="1225.7" cy="454.9" r="1.25"/>
<circle cx="1224.7" cy="458.6" r="1.25"/>
<circle cx="1208.2" cy="460.9" r="1.25"/>
<circle cx="1214.5" cy="456.9" r="1.25"/>
<circle cx="1217.7" cy="460.1" r="1.25"/>
<circle cx="1217.9" cy="450.1" r="1.25"/>
<circle cx="1187.7" cy="454.2" r="1.25"/>
<circle cx="1200.4" cy="451.8" r="1.25"/>
<circle cx="1187.0" cy="455.1" r="1.25"/>
<circle cx="1200.8" cy="454.3" r="1.25"/>
<circle cx="1187.1" cy="459.6" r="1.25"/>
<circle cx="1188.1" cy="460.1" r="1.25"/>
<circle cx="1230.2" cy="456.6" r="1.25"/>
<circle cx="1211.4" cy="454.5" r="1.25"/>
<circle cx="1213.9" cy="459.1" r="1.25"/>
<circle cx="1232.4" cy="454.3" r="1.25"/>
<circle cx="1227.7" cy="457.1" r="1.25"/>
<circle cx="1201.4" cy="454.7" r="1.25"/>
<circle cx="1192.1" cy="448.9" r="1.25"/>
<circle cx="1189.6" cy="460.6" r="1.25"/>
<circle cx="1202.5" cy="458.0" r="1.25"/>
<circle cx="1211.2" cy="450.4" r="1.25"/>
<circle cx="1197.4" cy="454.1" r="1.25"/>
<circle cx="1207.7" cy="455.3" r="1.25"/>
<circle cx="1192.6" cy="453.2" r="1.25"/>
<circle cx="1199.3" cy="453.7" r="1.25"/>
<circle cx="1202.3" cy="456.4" r="1.25"/>
<circle cx="1226.6" cy="457.1" r="1.25"/>
<circle cx="1187.6" cy="449.3" r="1.25"/>
<circle cx="1220.6" cy="452.0" r="1.25"/>
<circle cx="1223.1" cy="457.2" r="1.25"/>
<circle cx="1232.9" cy="460.2" r="1.25"/>
<circle cx="1202.0" cy="456.2" r="1.25"/>
<circle cx="1191.6" cy="452.9" r="1.25"/>
<circle cx="1236.3" cy="457.8" r="1.25"/>
<circle cx="1205.2" cy="456.3" r="1.25"/>
<circle cx="1234.7" cy="452.3" r="1.25"/>
<circle cx="1204.3" cy="459.1" r="1.25"/>
<circle cx="1227.9" cy="457.4" r="1.25"/>
<circle cx="1228.8" cy="458.3" r="1.25"/>
<circle cx="1221.0" cy="455.4" r="1.25"/>
<circle cx="1218.9" cy="453.9" r="1.25"/>
<circle cx="1203.5" cy="453.1" r="1.25"/>
<circle cx="1193.7" cy="451.0" r="1.25"/>
<circle cx="1235.2" cy="454.8" r="1.25"/>
<circle cx="1196.2" cy="449.9" r="1.25"/>
<circle cx="1188.2" cy="459.8" r="1.25"/>
<circle cx="1189.5" cy="458.8" r="1.25"/>
<circle cx="1229.1" cy="460.4" r="1.25"/>
<circle cx="1186.0" cy="452.7" r="1.25"/>
<circle cx="1225.4" cy="449.8" r="1.25"/>
<circle cx="1204.3" cy="450.3" r="1.25"/>
<circle cx="1228.9" cy="458.8" r="1.25"/>
<circle cx="1227.7" cy="450.3" r="1.25"/>
<circle cx="1207.6" cy="453.8" r="1.25"/>
<circle cx="1220.5" cy="451.3" r="1.25"/>
<circle cx="1208.0" cy="452.0" r="1.25"/>
<circle cx="1224.4" cy="454.3" r="1.25"/>
<circle cx="1212.8" cy="472.0" r="1.25"/>
<circle cx="1227.7" cy="472.8" r="1.25"/>
<circle cx="1229.1" cy="472.3" r="1.25"/>
<circle cx="1235.1" cy="475.4" r="1.25"/>
<circle cx="1208.9" cy="471.9" r="1.25"/>
<circle cx="1204.6" cy="473.1" r="1.25"/>
<circle cx="1236.2" cy="474.6" r="1.25"/>
<circle cx="1227.3" cy="471.2" r="1.25"/>
<circle cx="1197.5" cy="473.7" r="1.25"/>
<circle cx="1231.2" cy="473.3" r="1.25"/>
<circle cx="1189.5" cy="474.7" r="1.25"/>
<circle cx="1230.0" cy="471.9" r="1.25"/>
<circle cx="1225.2" cy="471.9" r="1.25"/>
<circle cx="1232.9" cy="471.2" r="1.25"/>
<circle cx="1207.6" cy="475.2" r="1.25"/>
<circle cx="1196.0" cy="472.8" r="1.25"/>
<circle cx="1202.9" cy="470.6" r="1.25"/>
<circle cx="1186.9" cy="473.0" r="1.25"/>
<circle cx="1196.7" cy="475.5" r="1.25"/>
<circle cx="1204.2" cy="470.6" r="1.25"/>
<circle cx="1234.3" cy="474.7" r="1.25"/>
<circle cx="1219.1" cy="474.5" r="1.25"/>
<circle cx="1191.4" cy="471.9" r="1.25"/>
<circle cx="1228.8" cy="474.0" r="1.25"/>
<circle cx="1191.5" cy="474.0" r="1.25"/>
<circle cx="1208.2" cy="470.5" r="1.25"/>
<circle cx="1188.3" cy="471.8" r="1.25"/>
<circle cx="1229.1" cy="473.2" r="1.25"/>
<circle cx="1223.3" cy="473.1" r="1.25"/>
<circle cx="1190.0" cy="471.9" r="1.25"/>
</g>
<rect x="1094.10" y="375.80" width="53.80" height="49.30" fill="none" stroke="#27358f" stroke-width="1.9" />
<polygon points="1094.1,374.6 1106.1,377.6 1135.9,377.6 1147.9,374.6 1147.9,380.6 1135.9,377.6 1106.1,377.6 1094.1,380.6" fill="#27358f" stroke="#27358f" stroke-width="1.2"/>
<line x1="1094.10" y1="377.60" x2="1147.90" y2="377.60" stroke="#27358f" stroke-width="2.4" />
<line x1="1120.30" y1="329.10" x2="1120.30" y2="375.80" stroke="#27358f" stroke-width="1.9" />
<line x1="1120.30" y1="425.10" x2="1120.30" y2="473.20" stroke="#27358f" stroke-width="1.9" />
<path d="M1183,401.2 L1237.2,401.2 L1237.2,422.3 L1233.2,425.5 L1237.2,428.7 L1237.2,443.2 L1183,443.2 L1183,428.7 L1187,425.5 L1183,422.3 Z" fill="none" stroke="#e0262b" stroke-width="1.9" stroke-linejoin="round"/>
<line x1="1187.00" y1="425.50" x2="1233.20" y2="425.50" stroke="#e0262b" stroke-width="2.4" />
<line x1="1211.00" y1="353.50" x2="1211.00" y2="401.20" stroke="#e0262b" stroke-width="1.9" />
<line x1="1211.00" y1="443.20" x2="1211.00" y2="474.30" stroke="#e0262b" stroke-width="1.9" />
<circle cx="1210.4" cy="328.7" r="1.7" fill="#e0262b"/>
<text x="16.50" y="567.80" font-size="32.5" text-anchor="start" fill="#000" font-weight="bold" >F</text>
<text x="164.30" y="567.80" font-size="17" text-anchor="middle" fill="#1f1f1f" stroke="#1f1f1f" stroke-width="0.35" textLength="104" lengthAdjust="spacingAndGlyphs" >Glycogen-high</text>
<text x="397.80" y="567.80" font-size="17" text-anchor="middle" fill="#1f1f1f" stroke="#1f1f1f" stroke-width="0.35" textLength="100" lengthAdjust="spacingAndGlyphs" >Glycogen-low</text>
<text transform="translate(36.00,626.70) rotate(-90)" x="0" y="0" font-size="17" text-anchor="middle" fill="#1f1f1f" stroke="#1f1f1f" stroke-width="0.35" textLength="28" lengthAdjust="spacingAndGlyphs" >PAS</text>
<text transform="translate(36.00,737.10) rotate(-90)" x="0" y="0" font-size="17" text-anchor="middle" fill="#1f1f1f" stroke="#1f1f1f" stroke-width="0.35" textLength="68.6" lengthAdjust="spacingAndGlyphs" >GYS2 IHC</text>
<rect x="40.30" y="572.60" width="232.70" height="105.90" fill="#fcfcfd" stroke="none" stroke-width="1" />
<clipPath id="cc5"><ellipse cx="89.30" cy="626.60" rx="46.00" ry="50.00"/></clipPath>
<g clip-path="url(#cc5)"><rect x="40.30" y="572.60" width="98.40" height="105.90" fill="#a07ac4"/></g>
<filter id="nf12" x="40.30" y="572.60" width="98.40" height="105.90" filterUnits="userSpaceOnUse" color-interpolation-filters="sRGB"><feTurbulence type="fractalNoise" baseFrequency="0.35" numOctaves="2" seed="21"/><feColorMatrix type="matrix" values="0 0 0 0 0.416 0 0 0 0 0.227 0 0 0 0 0.596 2.0 0 0 0 -0.8"/></filter>
<g clip-path="url(#cc5)" opacity="1.0"><rect x="40.30" y="572.60" width="98.40" height="105.90" filter="url(#nf12)"/></g>
<filter id="nf13" x="40.30" y="572.60" width="98.40" height="105.90" filterUnits="userSpaceOnUse" color-interpolation-filters="sRGB"><feTurbulence type="fractalNoise" baseFrequency="0.3" numOctaves="2" seed="22"/><feColorMatrix type="matrix" values="0 0 0 0 0.933 0 0 0 0 0.902 0 0 0 0 0.957 2.0 0 0 0 -0.75"/></filter>
<g clip-path="url(#cc5)" opacity="1.0"><rect x="40.30" y="572.60" width="98.40" height="105.90" filter="url(#nf13)"/></g>
<g clip-path="url(#cc5)"><polygon points="63.9,645.5 83.1,635.9 105.5,629.5 124.7,626.3 126.3,631.1 105.5,635.9 83.1,642.3 67.1,650.3" fill="#f4f2f8" opacity="0.95" filter="url(#pblur)"/></g>
<g clip-path="url(#cc5)"><polygon points="79.9,607.1 92.7,602.3 95.9,616.7 86.3,635.9 76.7,632.7 70.3,619.9" fill="#f4f2f8" opacity="0.9" filter="url(#pblur)"/></g>
<g clip-path="url(#cc5)"><polygon points="95.9,600.7 108.7,603.9 105.5,613.5 95.9,610.3" fill="#f0ecf6" opacity="0.7" filter="url(#pblur)"/></g>
<g clip-path="url(#cc5)"><polygon points="48,608.7 73.5,600.7 75.1,605.5 51.2,615.1" fill="#f0ecf6" opacity="0.6" filter="url(#pblur)"/></g>
<g clip-path="url(#cc5)"><polygon points="63.9,655 105.5,655 110,676 60,676" fill="#dcc4e4" opacity="0.5" filter="url(#pblur)"/></g>
<g clip-path="url(#cc5)"><polygon points="110,640 136,640 136,676 110,676" fill="#c8b4dc" opacity="0.4" filter="url(#pblur)"/></g>
<filter id="mblurmk6" x="-5%" y="-5%" width="110%" height="110%"><feGaussianBlur stdDeviation="1.2"/></filter>
<mask id="mk6" maskUnits="userSpaceOnUse" x="138.7" y="572.6" width="134.3" height="105.89999999999998"><g filter="url(#mblurmk6)" fill="#fff"><polygon points="140.7,578.4 153.5,574.5 179.0,584.8 175.2,600.7 159.8,598.2 140.7,588.6"/><polygon points="140.0,602.3 151.9,605.5 155.1,616.7 150.3,626.3 140.0,624.7"/><polygon points="177.4,575.2 223.8,573.6 252.6,578.4 255.8,600.7 243.0,615.1 223.8,618.3 204.6,610.3 188.6,599.1 179.0,588.0"/><polygon points="140.0,635.9 159.8,621.5 172.6,623.8 179.0,635.9 188.6,661.5 195.7,680.7 140.0,680.7"/><polygon points="188.6,618.3 204.6,621.5 223.8,645.5 233.4,667.9 238.2,680.7 196.6,680.7 188.6,648.7 186.1,629.5"/><polygon points="220.6,631.1 236.6,632.7 246.8,642.9 243.0,651.3 227.6,646.1"/><polygon points="252.6,575.2 274.9,572.0 274.9,680.7 248.7,680.7 246.2,658.3 237.2,642.3 243.0,626.3 255.8,613.5"/></g></mask>
<clipPath id="cc7"><rect x="138.70" y="572.60" width="134.30" height="105.90"/></clipPath>
<g mask="url(#mk6)">
<g clip-path="url(#cc7)"><rect x="138.70" y="572.60" width="134.30" height="105.90" fill="#9a6cbc"/></g>
<filter id="nf14" x="138.70" y="572.60" width="134.30" height="105.90" filterUnits="userSpaceOnUse" color-interpolation-filters="sRGB"><feTurbulence type="fractalNoise" baseFrequency="0.2" numOctaves="3" seed="23"/><feColorMatrix type="matrix" values="0 0 0 0 0.369 0 0 0 0 0.173 0 0 0 0 0.549 2.0 0 0 0 -0.8"/></filter>
<g clip-path="url(#cc7)" opacity="1.0"><rect x="138.70" y="572.60" width="134.30" height="105.90" filter="url(#nf14)"/></g>
<filter id="nf15" x="138.70" y="572.60" width="134.30" height="105.90" filterUnits="userSpaceOnUse" color-interpolation-filters="sRGB"><feTurbulence type="fractalNoise" baseFrequency="0.22" numOctaves="3" seed="24"/><feColorMatrix type="matrix" values="0 0 0 0 0.925 0 0 0 0 0.894 0 0 0 0 0.949 2.0 0 0 0 -0.8"/></filter>
<g clip-path="url(#cc7)" opacity="1.0"><rect x="138.70" y="572.60" width="134.30" height="105.90" filter="url(#nf15)"/></g>
<filter id="nf16" x="138.70" y="572.60" width="134.30" height="105.90" filterUnits="userSpaceOnUse" color-interpolation-filters="sRGB"><feTurbulence type="fractalNoise" baseFrequency="0.06" numOctaves="1" seed="25"/><feColorMatrix type="matrix" values="0 0 0 0 0.416 0 0 0 0 0.478 0 0 0 0 0.753 3 0 0 0 -1.9"/></filter>
<g clip-path="url(#cc7)" opacity="1.0"><rect x="138.70" y="572.60" width="134.30" height="105.90" filter="url(#nf16)"/></g>
<g clip-path="url(#cc7)"><polygon points="255.8,572.0 274.9,572.0 274.9,680.7 249.4,680.7 246.2,658.3 237.2,642.3 243.0,626.3 255.8,613.5" fill="#efe8f4" opacity="0.45" filter="url(#pblur)"/></g>
</g>
<rect x="40.30" y="572.60" width="232.70" height="105.90" fill="none" stroke="#333" stroke-width="1.6" />
<line x1="138.70" y1="572.60" x2="138.70" y2="678.50" stroke="#333" stroke-width="1.0" />
<rect x="89.50" y="593.90" width="42.90" height="31.70" fill="none" stroke="#111" stroke-width="1.6" stroke-dasharray="3.5,2.2"/>
<line x1="132.40" y1="593.90" x2="138.70" y2="573.00" stroke="#222" stroke-width="1.1" stroke-dasharray="3.5,2.2"/>
<line x1="132.40" y1="625.60" x2="138.70" y2="678.00" stroke="#222" stroke-width="1.1" stroke-dasharray="3.5,2.2"/>
<rect x="40.30" y="682.30" width="232.70" height="106.70" fill="#fcfcfc" stroke="none" stroke-width="1" />
<clipPath id="cc8"><ellipse cx="90.30" cy="735.50" rx="46.40" ry="51.60"/></clipPath>
<g clip-path="url(#cc8)"><rect x="40.30" y="682.30" width="98.40" height="106.70" fill="#c4a08a"/></g>
<filter id="nf17" x="40.30" y="682.30" width="98.40" height="106.70" filterUnits="userSpaceOnUse" color-interpolation-filters="sRGB"><feTurbulence type="fractalNoise" baseFrequency="0.35" numOctaves="2" seed="31"/><feColorMatrix type="matrix" values="0 0 0 0 0.541 0 0 0 0 0.353 0 0 0 0 0.251 1.8 0 0 0 -0.75"/></filter>
<g clip-path="url(#cc8)" opacity="1.0"><rect x="40.30" y="682.30" width="98.40" height="106.70" filter="url(#nf17)"/></g>
<filter id="nf18" x="40.30" y="682.30" width="98.40" height="106.70" filterUnits="userSpaceOnUse" color-interpolation-filters="sRGB"><feTurbulence type="fractalNoise" baseFrequency="0.3" numOctaves="2" seed="32"/><feColorMatrix type="matrix" values="0 0 0 0 0.965 0 0 0 0 0.949 0 0 0 0 0.933 2.0 0 0 0 -0.7"/></filter>
<g clip-path="url(#cc8)" opacity="1.0"><rect x="40.30" y="682.30" width="98.40" height="106.70" filter="url(#nf18)"/></g>
<g clip-path="url(#cc8)"><polygon points="51.2,763.8 63.9,747.8 83.1,741.4 102.3,744.6 115.1,763.8 121.5,790 51.2,790" fill="#f6f6f8" opacity="0.97" filter="url(#pblur)"/></g>
<g clip-path="url(#cc8)"><polygon points="62.3,706.2 76.7,699.9 83.1,712.6 73.5,722.2 62.3,719" fill="#f6f6f8" opacity="0.8" filter="url(#pblur)"/></g>
<g clip-path="url(#cc8)"><polygon points="48,732 73.5,725.4 83.1,731.8 63.9,744.6 48,751" fill="#f6f6f8" opacity="0.75" filter="url(#pblur)"/></g>
<g clip-path="url(#cc8)"><polygon points="96,727 128,724 126,735 100,740" fill="#f2f0f0" opacity="0.6" filter="url(#pblur)"/></g>
<g clip-path="url(#cc8)"><polygon points="110,705 125,700 128,712 112,716" fill="#f2f0f0" opacity="0.5" filter="url(#pblur)"/></g>
<clipPath id="cc9"><rect x="138.70" y="682.30" width="134.30" height="106.70"/></clipPath>
<g clip-path="url(#cc9)"><rect x="138.70" y="682.30" width="134.30" height="106.70" fill="#c6a08a"/></g>
<filter id="nf19" x="138.70" y="682.30" width="134.30" height="106.70" filterUnits="userSpaceOnUse" color-interpolation-filters="sRGB"><feTurbulence type="fractalNoise" baseFrequency="0.2" numOctaves="3" seed="33"/><feColorMatrix type="matrix" values="0 0 0 0 0.580 0 0 0 0 0.384 0 0 0 0 0.267 1.8 0 0 0 -0.75"/></filter>
<g clip-path="url(#cc9)" opacity="1.0"><rect x="138.70" y="682.30" width="134.30" height="106.70" filter="url(#nf19)"/></g>
<filter id="nf20" x="138.70" y="682.30" width="134.30" height="106.70" filterUnits="userSpaceOnUse" color-interpolation-filters="sRGB"><feTurbulence type="fractalNoise" baseFrequency="0.2" numOctaves="3" seed="34"/><feColorMatrix type="matrix" values="0 0 0 0 0.933 0 0 0 0 0.910 0 0 0 0 0.902 2.0 0 0 0 -0.85"/></filter>
<g clip-path="url(#cc9)" opacity="1.0"><rect x="138.70" y="682.30" width="134.30" height="106.70" filter="url(#nf20)"/></g>
<filter id="nf21" x="138.70" y="682.30" width="134.30" height="106.70" filterUnits="userSpaceOnUse" color-interpolation-filters="sRGB"><feTurbulence type="fractalNoise" baseFrequency="0.25" numOctaves="2" seed="35"/><feColorMatrix type="matrix" values="0 0 0 0 0.596 0 0 0 0 0.643 0 0 0 0 0.753 1.2 0 0 0 -0.45"/></filter>
<g clip-path="url(#cc9)" opacity="1.0"><rect x="138.70" y="682.30" width="134.30" height="106.70" filter="url(#nf21)"/></g>
<g clip-path="url(#cc9)"><polygon points="239.3,682.0 274.8,682.0 274.8,712.3 256.4,699.1" fill="#f4f6f8" opacity="0.95" filter="url(#pblur)"/></g>
<g clip-path="url(#cc9)"><polygon points="141.9,704.4 155.1,703.1 177.5,704.4 193.3,707.0 206.4,712.3 216.9,718.8 230.1,729.4 243.3,734.6 249.8,741.2 247.2,743.8 232.7,737.3 219.6,728.1 209.1,721.5 195.9,718.8 182.7,716.2 170.9,712.3 155.1,710.9 141.9,714.9" fill="#f4f6f8" opacity="0.95" filter="url(#pblur)"/></g>
<g clip-path="url(#cc9)"><polygon points="161.7,684.6 177.5,685.9 193.3,688.6 206.4,693.8 205.1,696.5 190.6,693.2 176.2,691.2 164.3,689.9" fill="#f4f6f8" opacity="0.9" filter="url(#pblur)"/></g>
<g clip-path="url(#cc9)"><polygon points="138.0,726.7 156.4,725.4 172.2,728.1 180.1,734.6 172.2,739.9 165.6,745.2 164.3,755.7 161.7,759.6 151.2,753.1 138.0,747.8" fill="#f4f6f8" opacity="0.95" filter="url(#pblur)"/></g>
<g clip-path="url(#cc9)"><polygon points="138.0,774.1 156.4,771.5 172.2,774.1 185.4,776.7 190.6,784.6 177.5,787.3 157.7,782.0 138.0,779.4" fill="#f4f6f8" opacity="0.9" filter="url(#pblur)"/></g>
<g clip-path="url(#cc9)"><polygon points="245.9,763.6 251.2,767.5 256.4,789.9 249.8,789.9" fill="#f4f6f8" opacity="0.9" filter="url(#pblur)"/></g>
<g clip-path="url(#cc9)"><polygon points="209.1,739.9 216.9,750.4 219.6,760.9 215.6,760.9 209.1,750.4" fill="#f4f6f8" opacity="0.8" filter="url(#pblur)"/></g>
<rect x="40.30" y="682.30" width="232.70" height="106.70" fill="none" stroke="#333" stroke-width="1.6" />
<line x1="138.70" y1="682.30" x2="138.70" y2="789.00" stroke="#333" stroke-width="1.0" />
<rect x="80.20" y="690.00" width="44.80" height="31.80" fill="none" stroke="#111" stroke-width="1.6" stroke-dasharray="3.5,2.2"/>
<line x1="125.00" y1="690.00" x2="138.70" y2="683.00" stroke="#222" stroke-width="1.1" />
<line x1="125.00" y1="721.80" x2="138.70" y2="788.00" stroke="#222" stroke-width="1.1" />
<rect x="276.80" y="572.60" width="235.90" height="105.90" fill="#fcfcfd" stroke="none" stroke-width="1" />
<clipPath id="cc10"><ellipse cx="326.30" cy="625.50" rx="47.00" ry="49.00"/></clipPath>
<g clip-path="url(#cc10)"><rect x="276.80" y="572.60" width="99.50" height="105.90" fill="#bcc4e2"/></g>
<filter id="nf22" x="276.80" y="572.60" width="99.50" height="105.90" filterUnits="userSpaceOnUse" color-interpolation-filters="sRGB"><feTurbulence type="fractalNoise" baseFrequency="0.4" numOctaves="2" seed="41"/><feColorMatrix type="matrix" values="0 0 0 0 0.533 0 0 0 0 0.565 0 0 0 0 0.769 1.6 0 0 0 -0.6"/></filter>
<g clip-path="url(#cc10)" opacity="1.0"><rect x="276.80" y="572.60" width="99.50" height="105.90" filter="url(#nf22)"/></g>
<filter id="nf23" x="276.80" y="572.60" width="99.50" height="105.90" filterUnits="userSpaceOnUse" color-interpolation-filters="sRGB"><feTurbulence type="fractalNoise" baseFrequency="0.4" numOctaves="2" seed="42"/><feColorMatrix type="matrix" values="0 0 0 0 0.894 0 0 0 0 0.910 0 0 0 0 0.957 1.6 0 0 0 -0.6"/></filter>
<g clip-path="url(#cc10)" opacity="1.0"><rect x="276.80" y="572.60" width="99.50" height="105.90" filter="url(#nf23)"/></g>
<filter id="nf24" x="276.80" y="572.60" width="99.50" height="105.90" filterUnits="userSpaceOnUse" color-interpolation-filters="sRGB"><feTurbulence type="fractalNoise" baseFrequency="0.05" numOctaves="1" seed="43"/><feColorMatrix type="matrix" values="0 0 0 0 0.627 0 0 0 0 0.659 0 0 0 0 0.831 2.5 0 0 0 -1.4"/></filter>
<g clip-path="url(#cc10)" opacity="1.0"><rect x="276.80" y="572.60" width="99.50" height="105.90" filter="url(#nf24)"/></g>
<clipPath id="cc11"><rect x="376.30" y="572.60" width="136.40" height="105.90"/></clipPath>
<g clip-path="url(#cc11)"><rect x="376.30" y="572.60" width="136.40" height="105.90" fill="#a6aed6"/></g>
<filter id="nf25" x="376.30" y="572.60" width="136.40" height="105.90" filterUnits="userSpaceOnUse" color-interpolation-filters="sRGB"><feTurbulence type="fractalNoise" baseFrequency="0.15" numOctaves="3" seed="44"/><feColorMatrix type="matrix" values="0 0 0 0 0.439 0 0 0 0 0.471 0 0 0 0 0.706 2.0 0 0 0 -0.75"/></filter>
<g clip-path="url(#cc11)" opacity="1.0"><rect x="376.30" y="572.60" width="136.40" height="105.90" filter="url(#nf25)"/></g>
<filter id="nf26" x="376.30" y="572.60" width="136.40" height="105.90" filterUnits="userSpaceOnUse" color-interpolation-filters="sRGB"><feTurbulence type="fractalNoise" baseFrequency="0.15" numOctaves="3" seed="45"/><feColorMatrix type="matrix" values="0 0 0 0 0.878 0 0 0 0 0.886 0 0 0 0 0.941 2.0 0 0 0 -0.75"/></filter>
<g clip-path="url(#cc11)" opacity="1.0"><rect x="376.30" y="572.60" width="136.40" height="105.90" filter="url(#nf26)"/></g>
<filter id="nf27" x="376.30" y="572.60" width="136.40" height="105.90" filterUnits="userSpaceOnUse" color-interpolation-filters="sRGB"><feTurbulence type="fractalNoise" baseFrequency="0.05" numOctaves="1" seed="46"/><feColorMatrix type="matrix" values="0 0 0 0 0.533 0 0 0 0 0.565 0 0 0 0 0.769 3 0 0 0 -1.6"/></filter>
<g clip-path="url(#cc11)" opacity="1.0"><rect x="376.30" y="572.60" width="136.40" height="105.90" filter="url(#nf27)"/></g>
<g clip-path="url(#cc11)"><polygon points="376.0,572.7 403.3,572.7 406.1,611.0 395.1,651.9 403.3,679.2 376.0,679.2" fill="#d8d8ea" opacity="0.75" filter="url(#pblur)"/></g>
<g clip-path="url(#cc11)"><polygon points="422.4,619.1 433.4,624.6 438.8,651.9 430.6,657.4" fill="#dcdff0" opacity="0.6" filter="url(#pblur)"/></g>
<rect x="276.80" y="572.60" width="235.90" height="105.90" fill="none" stroke="#333" stroke-width="1.6" />
<line x1="376.30" y1="572.60" x2="376.30" y2="678.50" stroke="#333" stroke-width="1.0" />
<rect x="309.60" y="614.40" width="44.70" height="30.60" fill="none" stroke="#111" stroke-width="1.6" stroke-dasharray="3.5,2.2"/>
<line x1="354.30" y1="614.40" x2="376.30" y2="573.00" stroke="#222" stroke-width="1.1" stroke-dasharray="3.5,2.2"/>
<line x1="354.30" y1="645.00" x2="376.30" y2="678.00" stroke="#222" stroke-width="1.1" />
<rect x="276.80" y="682.20" width="235.90" height="106.60" fill="#fcfcfd" stroke="none" stroke-width="1" />
<clipPath id="cc12"><ellipse cx="326.30" cy="735.50" rx="47.00" ry="51.00"/></clipPath>
<g clip-path="url(#cc12)"><rect x="276.80" y="682.20" width="99.50" height="106.60" fill="#d2dce6"/></g>
<filter id="nf28" x="276.80" y="682.20" width="99.50" height="106.60" filterUnits="userSpaceOnUse" color-interpolation-filters="sRGB"><feTurbulence type="fractalNoise" baseFrequency="0.4" numOctaves="2" seed="51"/><feColorMatrix type="matrix" values="0 0 0 0 0.643 0 0 0 0 0.690 0 0 0 0 0.753 1.6 0 0 0 -0.6"/></filter>
<g clip-path="url(#cc12)" opacity="1.0"><rect x="276.80" y="682.20" width="99.50" height="106.60" filter="url(#nf28)"/></g>
<filter id="nf29" x="276.80" y="682.20" width="99.50" height="106.60" filterUnits="userSpaceOnUse" color-interpolation-filters="sRGB"><feTurbulence type="fractalNoise" baseFrequency="0.4" numOctaves="2" seed="52"/><feColorMatrix type="matrix" values="0 0 0 0 0.933 0 0 0 0 0.949 0 0 0 0 0.965 1.6 0 0 0 -0.6"/></filter>
<g clip-path="url(#cc12)" opacity="1.0"><rect x="276.80" y="682.20" width="99.50" height="106.60" filter="url(#nf29)"/></g>
<filter id="nf30" x="276.80" y="682.20" width="99.50" height="106.60" filterUnits="userSpaceOnUse" color-interpolation-filters="sRGB"><feTurbulence type="fractalNoise" baseFrequency="0.05" numOctaves="1" seed="53"/><feColorMatrix type="matrix" values="0 0 0 0 0.722 0 0 0 0 0.753 0 0 0 0 0.800 2.5 0 0 0 -1.4"/></filter>
<g clip-path="url(#cc12)" opacity="1.0"><rect x="276.80" y="682.20" width="99.50" height="106.60" filter="url(#nf30)"/></g>
<clipPath id="cc13"><rect x="376.30" y="682.20" width="136.40" height="106.60"/></clipPath>
<g clip-path="url(#cc13)"><rect x="376.30" y="682.20" width="136.40" height="106.60" fill="#d6dae2"/></g>
<filter id="nf31" x="376.30" y="682.20" width="136.40" height="106.60" filterUnits="userSpaceOnUse" color-interpolation-filters="sRGB"><feTurbulence type="fractalNoise" baseFrequency="0.06" numOctaves="2" seed="54"/><feColorMatrix type="matrix" values="0 0 0 0 0.659 0 0 0 0 0.659 0 0 0 0 0.737 3 0 0 0 -1.5"/></filter>
<g clip-path="url(#cc13)" opacity="1.0"><rect x="376.30" y="682.20" width="136.40" height="106.60" filter="url(#nf31)"/></g>
<filter id="nf32" x="376.30" y="682.20" width="136.40" height="106.60" filterUnits="userSpaceOnUse" color-interpolation-filters="sRGB"><feTurbulence type="fractalNoise" baseFrequency="0.2" numOctaves="3" seed="55"/><feColorMatrix type="matrix" values="0 0 0 0 0.722 0 0 0 0 0.604 0 0 0 0 0.533 1.4 0 0 0 -0.55"/></filter>
<g clip-path="url(#cc13)" opacity="1.0"><rect x="376.30" y="682.20" width="136.40" height="106.60" filter="url(#nf32)"/></g>
<filter id="nf33" x="376.30" y="682.20" width="136.40" height="106.60" filterUnits="userSpaceOnUse" color-interpolation-filters="sRGB"><feTurbulence type="fractalNoise" baseFrequency="0.2" numOctaves="3" seed="56"/><feColorMatrix type="matrix" values="0 0 0 0 0.941 0 0 0 0 0.949 0 0 0 0 0.965 2.0 0 0 0 -0.75"/></filter>
<g clip-path="url(#cc13)" opacity="1.0"><rect x="376.30" y="682.20" width="136.40" height="106.60" filter="url(#nf33)"/></g>
<g clip-path="url(#cc13)" fill="#8a9ab8">
<ellipse transform="rotate(93 382.1 745.1)" cx="382.1" cy="745.1" rx="0.85" ry="0.64" opacity="0.79"/>
<ellipse transform="rotate(159 415.9 786.1)" cx="415.9" cy="786.1" rx="1.30" ry="0.97" opacity="0.36"/>
<ellipse transform="rotate(68 476.6 737.3)" cx="476.6" cy="737.3" rx="1.28" ry="0.96" opacity="0.79"/>
<ellipse transform="rotate(98 465.7 759.5)" cx="465.7" cy="759.5" rx="1.33" ry="1.00" opacity="0.72"/>
<ellipse transform="rotate(100 460.4 742.5)" cx="460.4" cy="742.5" rx="0.94" ry="0.71" opacity="0.42"/>
<ellipse transform="rotate(106 456.3 727.7)" cx="456.3" cy="727.7" rx="1.39" ry="1.04" opacity="0.51"/>
<ellipse transform="rotate(154 447.0 705.6)" cx="447.0" cy="705.6" rx="1.55" ry="1.16" opacity="0.53"/>
<ellipse transform="rotate(80 406.0 729.8)" cx="406.0" cy="729.8" rx="1.30" ry="0.97" opacity="0.77"/>
<ellipse transform="rotate(8 383.2 718.6)" cx="383.2" cy="718.6" rx="1.21" ry="0.91" opacity="0.56"/>
<ellipse transform="rotate(63 454.4 714.6)" cx="454.4" cy="714.6" rx="1.56" ry="1.17" opacity="0.52"/>
<ellipse transform="rotate(28 457.4 710.4)" cx="457.4" cy="710.4" rx="1.18" ry="0.88" opacity="0.38"/>
<ellipse transform="rotate(46 469.7 711.9)" cx="469.7" cy="711.9" rx="0.96" ry="0.72" opacity="0.54"/>
<ellipse transform="rotate(175 396.3 756.3)" cx="396.3" cy="756.3" rx="1.36" ry="1.02" opacity="0.37"/>
<ellipse transform="rotate(45 419.3 753.9)" cx="419.3" cy="753.9" rx="1.45" ry="1.09" opacity="0.74"/>
<ellipse transform="rotate(29 382.0 740.6)" cx="382.0" cy="740.6" rx="0.86" ry="0.64" opacity="0.67"/>
<ellipse transform="rotate(80 437.2 779.3)" cx="437.2" cy="779.3" rx="1.52" ry="1.14" opacity="0.59"/>
<ellipse transform="rotate(143 427.9 699.9)" cx="427.9" cy="699.9" rx="1.14" ry="0.86" opacity="0.54"/>
<ellipse transform="rotate(176 486.0 696.6)" cx="486.0" cy="696.6" rx="0.92" ry="0.69" opacity="0.45"/>
<ellipse transform="rotate(159 395.8 776.6)" cx="395.8" cy="776.6" rx="1.38" ry="1.04" opacity="0.74"/>
<ellipse transform="rotate(48 392.9 743.4)" cx="392.9" cy="743.4" rx="1.30" ry="0.98" opacity="0.62"/>
<ellipse transform="rotate(100 424.6 716.3)" cx="424.6" cy="716.3" rx="1.12" ry="0.84" opacity="0.43"/>
<ellipse transform="rotate(75 476.9 721.5)" cx="476.9" cy="721.5" rx="1.13" ry="0.84" opacity="0.60"/>
<ellipse transform="rotate(22 507.8 776.7)" cx="507.8" cy="776.7" rx="1.21" ry="0.91" opacity="0.38"/>
<ellipse transform="rotate(92 492.0 683.2)" cx="492.0" cy="683.2" rx="1.03" ry="0.78" opacity="0.35"/>
<ellipse transform="rotate(126 463.5 776.9)" cx="463.5" cy="776.9" rx="1.32" ry="0.99" opacity="0.68"/>
<ellipse transform="rotate(137 462.6 683.4)" cx="462.6" cy="683.4" rx="0.86" ry="0.65" opacity="0.69"/>
<ellipse transform="rotate(4 489.2 760.3)" cx="489.2" cy="760.3" rx="1.01" ry="0.76" opacity="0.60"/>
<ellipse transform="rotate(124 382.1 753.0)" cx="382.1" cy="753.0" rx="1.06" ry="0.80" opacity="0.69"/>
<ellipse transform="rotate(32 504.9 737.4)" cx="504.9" cy="737.4" rx="1.18" ry="0.89" opacity="0.46"/>
<ellipse transform="rotate(136 382.7 785.2)" cx="382.7" cy="785.2" rx="0.95" ry="0.71" opacity="0.36"/>
<ellipse transform="rotate(22 439.1 702.1)" cx="439.1" cy="702.1" rx="1.38" ry="1.04" opacity="0.69"/>
<ellipse transform="rotate(80 485.7 740.5)" cx="485.7" cy="740.5" rx="1.23" ry="0.92" opacity="0.66"/>
<ellipse transform="rotate(21 437.2 775.2)" cx="437.2" cy="775.2" rx="0.97" ry="0.73" opacity="0.62"/>
<ellipse transform="rotate(176 402.2 703.0)" cx="402.2" cy="703.0" rx="1.29" ry="0.97" opacity="0.41"/>
<ellipse transform="rotate(115 412.4 708.6)" cx="412.4" cy="708.6" rx="1.09" ry="0.82" opacity="0.59"/>
<ellipse transform="rotate(57 406.7 779.2)" cx="406.7" cy="779.2" rx="0.97" ry="0.73" opacity="0.74"/>
<ellipse transform="rotate(39 477.8 755.6)" cx="477.8" cy="755.6" rx="1.01" ry="0.75" opacity="0.66"/>
<ellipse transform="rotate(88 415.9 704.2)" cx="415.9" cy="704.2" rx="1.22" ry="0.92" opacity="0.52"/>
<ellipse transform="rotate(64 495.7 713.2)" cx="495.7" cy="713.2" rx="1.53" ry="1.15" opacity="0.36"/>
<ellipse transform="rotate(60 428.5 709.3)" cx="428.5" cy="709.3" rx="0.92" ry="0.69" opacity="0.53"/>
<ellipse transform="rotate(18 411.5 758.0)" cx="411.5" cy="758.0" rx="1.55" ry="1.16" opacity="0.41"/>
<ellipse transform="rotate(133 422.0 774.1)" cx="422.0" cy="774.1" rx="1.09" ry="0.82" opacity="0.48"/>
<ellipse transform="rotate(87 405.5 689.4)" cx="405.5" cy="689.4" rx="0.92" ry="0.69" opacity="0.66"/>
<ellipse transform="rotate(132 471.8 696.0)" cx="471.8" cy="696.0" rx="1.01" ry="0.75" opacity="0.73"/>
<ellipse transform="rotate(170 461.9 705.9)" cx="461.9" cy="705.9" rx="1.37" ry="1.03" opacity="0.37"/>
<ellipse transform="rotate(134 457.3 700.8)" cx="457.3" cy="700.8" rx="1.41" ry="1.06" opacity="0.62"/>
<ellipse transform="rotate(96 489.6 743.6)" cx="489.6" cy="743.6" rx="1.54" ry="1.15" opacity="0.38"/>
<ellipse transform="rotate(26 423.7 705.7)" cx="423.7" cy="705.7" rx="1.34" ry="1.01" opacity="0.52"/>
<ellipse transform="rotate(130 377.1 785.9)" cx="377.1" cy="785.9" rx="1.29" ry="0.97" opacity="0.67"/>
<ellipse transform="rotate(48 467.9 686.6)" cx="467.9" cy="686.6" rx="1.00" ry="0.75" opacity="0.68"/>
<ellipse transform="rotate(82 398.7 706.7)" cx="398.7" cy="706.7" rx="1.03" ry="0.77" opacity="0.43"/>
<ellipse transform="rotate(16 426.3 781.8)" cx="426.3" cy="781.8" rx="1.38" ry="1.03" opacity="0.71"/>
<ellipse transform="rotate(154 468.8 764.9)" cx="468.8" cy="764.9" rx="1.05" ry="0.79" opacity="0.77"/>
<ellipse transform="rotate(164 426.8 724.0)" cx="426.8" cy="724.0" rx="1.12" ry="0.84" opacity="0.46"/>
<ellipse transform="rotate(2 377.6 691.5)" cx="377.6" cy="691.5" rx="0.94" ry="0.70" opacity="0.40"/>
<ellipse transform="rotate(102 449.5 700.7)" cx="449.5" cy="700.7" rx="1.48" ry="1.11" opacity="0.49"/>
<ellipse transform="rotate(152 445.9 715.2)" cx="445.9" cy="715.2" rx="1.34" ry="1.00" opacity="0.54"/>
<ellipse transform="rotate(162 496.1 768.3)" cx="496.1" cy="768.3" rx="1.37" ry="1.03" opacity="0.65"/>
<ellipse transform="rotate(31 391.5 774.6)" cx="391.5" cy="774.6" rx="1.44" ry="1.08" opacity="0.55"/>
<ellipse transform="rotate(127 445.2 775.4)" cx="445.2" cy="775.4" rx="0.97" ry="0.73" opacity="0.51"/>
<ellipse transform="rotate(150 505.7 699.8)" cx="505.7" cy="699.8" rx="1.05" ry="0.79" opacity="0.39"/>
<ellipse transform="rotate(177 422.8 780.0)" cx="422.8" cy="780.0" rx="0.95" ry="0.71" opacity="0.38"/>
<ellipse transform="rotate(72 453.0 736.3)" cx="453.0" cy="736.3" rx="1.54" ry="1.16" opacity="0.55"/>
<ellipse transform="rotate(135 464.0 732.0)" cx="464.0" cy="732.0" rx="1.09" ry="0.82" opacity="0.42"/>
<ellipse transform="rotate(64 428.1 736.2)" cx="428.1" cy="736.2" rx="1.02" ry="0.77" opacity="0.48"/>
<ellipse transform="rotate(52 500.0 682.3)" cx="500.0" cy="682.3" rx="0.94" ry="0.71" opacity="0.40"/>
<ellipse transform="rotate(12 505.3 788.2)" cx="505.3" cy="788.2" rx="1.52" ry="1.14" opacity="0.75"/>
<ellipse transform="rotate(71 505.6 762.7)" cx="505.6" cy="762.7" rx="1.50" ry="1.13" opacity="0.67"/>
<ellipse transform="rotate(45 493.9 743.9)" cx="493.9" cy="743.9" rx="0.87" ry="0.66" opacity="0.40"/>
<ellipse transform="rotate(137 458.5 715.1)" cx="458.5" cy="715.1" rx="1.34" ry="1.00" opacity="0.56"/>
<ellipse transform="rotate(94 378.8 756.2)" cx="378.8" cy="756.2" rx="1.54" ry="1.16" opacity="0.72"/>
<ellipse transform="rotate(153 469.8 763.9)" cx="469.8" cy="763.9" rx="1.06" ry="0.80" opacity="0.55"/>
<ellipse transform="rotate(91 442.1 699.0)" cx="442.1" cy="699.0" rx="1.44" ry="1.08" opacity="0.64"/>
<ellipse transform="rotate(13 469.0 683.2)" cx="469.0" cy="683.2" rx="1.19" ry="0.89" opacity="0.55"/>
<ellipse transform="rotate(76 440.4 745.0)" cx="440.4" cy="745.0" rx="1.03" ry="0.77" opacity="0.76"/>
<ellipse transform="rotate(74 485.4 762.4)" cx="485.4" cy="762.4" rx="1.27" ry="0.95" opacity="0.46"/>
<ellipse transform="rotate(143 380.5 734.8)" cx="380.5" cy="734.8" rx="1.44" ry="1.08" opacity="0.41"/>
<ellipse transform="rotate(156 402.0 707.5)" cx="402.0" cy="707.5" rx="1.30" ry="0.97" opacity="0.45"/>
<ellipse transform="rotate(145 413.2 724.1)" cx="413.2" cy="724.1" rx="1.47" ry="1.11" opacity="0.46"/>
<ellipse transform="rotate(151 474.5 715.2)" cx="474.5" cy="715.2" rx="1.50" ry="1.13" opacity="0.80"/>
<ellipse transform="rotate(50 386.1 682.6)" cx="386.1" cy="682.6" rx="1.32" ry="0.99" opacity="0.38"/>
<ellipse transform="rotate(117 416.5 760.4)" cx="416.5" cy="760.4" rx="1.32" ry="0.99" opacity="0.56"/>
<ellipse transform="rotate(81 489.1 744.8)" cx="489.1" cy="744.8" rx="1.54" ry="1.16" opacity="0.39"/>
<ellipse transform="rotate(153 440.4 785.4)" cx="440.4" cy="785.4" rx="1.50" ry="1.12" opacity="0.42"/>
<ellipse transform="rotate(56 387.6 725.5)" cx="387.6" cy="725.5" rx="1.24" ry="0.93" opacity="0.59"/>
<ellipse transform="rotate(43 420.8 691.6)" cx="420.8" cy="691.6" rx="1.01" ry="0.76" opacity="0.75"/>
<ellipse transform="rotate(60 445.5 769.2)" cx="445.5" cy="769.2" rx="1.27" ry="0.95" opacity="0.39"/>
<ellipse transform="rotate(40 495.6 731.4)" cx="495.6" cy="731.4" rx="1.31" ry="0.98" opacity="0.65"/>
<ellipse transform="rotate(141 401.8 690.0)" cx="401.8" cy="690.0" rx="1.52" ry="1.14" opacity="0.42"/>
<ellipse transform="rotate(4 436.2 772.7)" cx="436.2" cy="772.7" rx="1.38" ry="1.04" opacity="0.49"/>
<ellipse transform="rotate(155 477.3 694.1)" cx="477.3" cy="694.1" rx="1.53" ry="1.15" opacity="0.61"/>
<ellipse transform="rotate(114 449.1 704.6)" cx="449.1" cy="704.6" rx="1.08" ry="0.81" opacity="0.47"/>
<ellipse transform="rotate(36 451.9 702.2)" cx="451.9" cy="702.2" rx="0.89" ry="0.67" opacity="0.55"/>
<ellipse transform="rotate(111 436.1 765.1)" cx="436.1" cy="765.1" rx="1.03" ry="0.77" opacity="0.76"/>
<ellipse transform="rotate(56 448.9 690.9)" cx="448.9" cy="690.9" rx="1.50" ry="1.12" opacity="0.49"/>
<ellipse transform="rotate(54 487.2 758.0)" cx="487.2" cy="758.0" rx="1.06" ry="0.80" opacity="0.49"/>
<ellipse transform="rotate(162 501.8 702.4)" cx="501.8" cy="702.4" rx="1.42" ry="1.06" opacity="0.73"/>
<ellipse transform="rotate(129 379.4 782.4)" cx="379.4" cy="782.4" rx="1.08" ry="0.81" opacity="0.68"/>
<ellipse transform="rotate(108 503.9 726.5)" cx="503.9" cy="726.5" rx="1.03" ry="0.77" opacity="0.41"/>
<ellipse transform="rotate(156 446.6 729.6)" cx="446.6" cy="729.6" rx="1.15" ry="0.86" opacity="0.39"/>
<ellipse transform="rotate(26 510.7 705.1)" cx="510.7" cy="705.1" rx="1.25" ry="0.94" opacity="0.59"/>
<ellipse transform="rotate(149 475.8 783.3)" cx="475.8" cy="783.3" rx="1.00" ry="0.75" opacity="0.53"/>
<ellipse transform="rotate(125 439.5 766.9)" cx="439.5" cy="766.9" rx="1.40" ry="1.05" opacity="0.71"/>
<ellipse transform="rotate(101 488.4 701.1)" cx="488.4" cy="701.1" rx="1.53" ry="1.15" opacity="0.49"/>
<ellipse transform="rotate(84 477.4 756.5)" cx="477.4" cy="756.5" rx="1.40" ry="1.05" opacity="0.36"/>
<ellipse transform="rotate(34 412.8 706.6)" cx="412.8" cy="706.6" rx="1.13" ry="0.85" opacity="0.47"/>
<ellipse transform="rotate(13 422.3 727.3)" cx="422.3" cy="727.3" rx="1.25" ry="0.94" opacity="0.44"/>
<ellipse transform="rotate(32 468.5 740.8)" cx="468.5" cy="740.8" rx="0.84" ry="0.63" opacity="0.38"/>
<ellipse transform="rotate(114 406.2 772.7)" cx="406.2" cy="772.7" rx="0.91" ry="0.69" opacity="0.51"/>
<ellipse transform="rotate(110 448.4 730.3)" cx="448.4" cy="730.3" rx="1.12" ry="0.84" opacity="0.78"/>
<ellipse transform="rotate(91 410.7 695.0)" cx="410.7" cy="695.0" rx="1.06" ry="0.79" opacity="0.48"/>
<ellipse transform="rotate(101 480.4 688.5)" cx="480.4" cy="688.5" rx="1.26" ry="0.95" opacity="0.76"/>
<ellipse transform="rotate(169 454.0 688.8)" cx="454.0" cy="688.8" rx="1.19" ry="0.89" opacity="0.37"/>
<ellipse transform="rotate(23 378.5 698.1)" cx="378.5" cy="698.1" rx="1.29" ry="0.97" opacity="0.73"/>
<ellipse transform="rotate(53 404.0 684.1)" cx="404.0" cy="684.1" rx="1.06" ry="0.80" opacity="0.61"/>
<ellipse transform="rotate(55 467.1 717.7)" cx="467.1" cy="717.7" rx="1.12" ry="0.84" opacity="0.57"/>
<ellipse transform="rotate(82 399.5 781.5)" cx="399.5" cy="781.5" rx="1.16" ry="0.87" opacity="0.73"/>
<ellipse transform="rotate(17 448.1 762.6)" cx="448.1" cy="762.6" rx="0.90" ry="0.68" opacity="0.68"/>
<ellipse transform="rotate(71 413.7 752.7)" cx="413.7" cy="752.7" rx="1.08" ry="0.81" opacity="0.49"/>
<ellipse transform="rotate(26 499.6 731.7)" cx="499.6" cy="731.7" rx="1.47" ry="1.10" opacity="0.69"/>
</g>
<rect x="276.80" y="682.20" width="235.90" height="106.60" fill="none" stroke="#333" stroke-width="1.6" />
<line x1="376.30" y1="682.20" x2="376.30" y2="788.80" stroke="#333" stroke-width="1.0" />
<rect x="310.30" y="725.00" width="44.70" height="31.00" fill="none" stroke="#111" stroke-width="1.6" stroke-dasharray="3.5,2.2"/>
<line x1="355.00" y1="725.00" x2="376.30" y2="683.00" stroke="#222" stroke-width="1.1" />
<line x1="355.00" y1="756.00" x2="376.30" y2="788.00" stroke="#222" stroke-width="1.1" />
<line x1="119.80" y1="671.50" x2="135.30" y2="671.50" stroke="#1a1a1a" stroke-width="1.4" />
<rect x="120.8" y="673.0" width="13.5" height="2" fill="#888" opacity="0.5"/>
<line x1="257.40" y1="672.00" x2="270.70" y2="672.00" stroke="#1a1a1a" stroke-width="1.4" />
<rect x="258.4" y="673.5" width="11.3" height="2" fill="#888" opacity="0.5"/>
<line x1="119.80" y1="780.50" x2="135.30" y2="780.50" stroke="#1a1a1a" stroke-width="1.4" />
<rect x="120.8" y="782.0" width="13.5" height="2" fill="#888" opacity="0.5"/>
<line x1="257.40" y1="782.50" x2="270.70" y2="782.50" stroke="#1a1a1a" stroke-width="1.4" />
<rect x="258.4" y="784.0" width="11.3" height="2" fill="#888" opacity="0.5"/>
<line x1="355.80" y1="670.50" x2="371.40" y2="670.50" stroke="#1a1a1a" stroke-width="1.4" />
<rect x="356.8" y="672.0" width="13.6" height="2" fill="#888" opacity="0.5"/>
<line x1="494.40" y1="671.50" x2="508.20" y2="671.50" stroke="#1a1a1a" stroke-width="1.4" />
<rect x="495.4" y="673.0" width="11.8" height="2" fill="#888" opacity="0.5"/>
<line x1="355.80" y1="780.50" x2="371.40" y2="780.50" stroke="#1a1a1a" stroke-width="1.4" />
<rect x="356.8" y="782.0" width="13.6" height="2" fill="#888" opacity="0.5"/>
<line x1="494.40" y1="781.50" x2="508.20" y2="781.50" stroke="#1a1a1a" stroke-width="1.4" />
<rect x="495.4" y="783.0" width="11.8" height="2" fill="#888" opacity="0.5"/>
<line x1="835.40" y1="370.50" x2="851.00" y2="370.50" stroke="#1a1a1a" stroke-width="1.4" />
<rect x="836.4" y="372.0" width="13.6" height="2" fill="#888" opacity="0.5"/>
<line x1="984.00" y1="371.50" x2="994.70" y2="371.50" stroke="#1a1a1a" stroke-width="1.4" />
<rect x="985.0" y="373.0" width="8.7" height="2" fill="#888" opacity="0.5"/>
<line x1="835.40" y1="490.30" x2="851.00" y2="490.30" stroke="#1a1a1a" stroke-width="1.4" />
<rect x="836.4" y="491.8" width="13.6" height="2" fill="#888" opacity="0.5"/>
<line x1="986.00" y1="490.80" x2="996.50" y2="490.80" stroke="#1a1a1a" stroke-width="1.4" />
<rect x="987.0" y="492.3" width="8.5" height="2" fill="#888" opacity="0.5"/>
<line x1="592.20" y1="588.50" x2="592.20" y2="759.80" stroke="#333" stroke-width="1.8" />
<line x1="591.20" y1="759.80" x2="746.30" y2="759.80" stroke="#333" stroke-width="1.8" />
<line x1="588.20" y1="759.80" x2="592.20" y2="759.80" stroke="#333" stroke-width="1.5" />
<text x="584.50" y="765.00" font-size="14.5" text-anchor="end" fill="#222" stroke="#222" stroke-width="0.35" textLength="8.5" lengthAdjust="spacingAndGlyphs" >0</text>
<line x1="588.20" y1="703.07" x2="592.20" y2="703.07" stroke="#333" stroke-width="1.5" />
<text x="584.50" y="708.27" font-size="14.5" text-anchor="end" fill="#222" stroke="#222" stroke-width="0.35" textLength="25.5" lengthAdjust="spacingAndGlyphs" >200</text>
<line x1="588.20" y1="646.33" x2="592.20" y2="646.33" stroke="#333" stroke-width="1.5" />
<text x="584.50" y="651.53" font-size="14.5" text-anchor="end" fill="#222" stroke="#222" stroke-width="0.35" textLength="25.5" lengthAdjust="spacingAndGlyphs" >400</text>
<line x1="588.20" y1="589.60" x2="592.20" y2="589.60" stroke="#333" stroke-width="1.5" />
<text x="584.50" y="594.80" font-size="14.5" text-anchor="end" fill="#222" stroke="#222" stroke-width="0.35" textLength="25.5" lengthAdjust="spacingAndGlyphs" >600</text>
<rect x="612.50" y="647.75" width="39.70" height="112.05" fill="#0f7a8b" stroke="none" stroke-width="1" />
<rect x="612.50" y="647.75" width="39.70" height="31.77" fill="#c800c8" stroke="none" stroke-width="1" />
<rect x="686.10" y="671.30" width="39.70" height="88.50" fill="#0f7a8b" stroke="none" stroke-width="1" />
<rect x="686.10" y="671.30" width="39.70" height="34.04" fill="#c800c8" stroke="none" stroke-width="1" />
<line x1="632.40" y1="759.80" x2="632.40" y2="763.80" stroke="#333" stroke-width="1.5" />
<line x1="706.00" y1="759.80" x2="706.00" y2="763.80" stroke="#333" stroke-width="1.5" />
<text x="632.40" y="666.00" font-size="13" text-anchor="middle" fill="#2a1a3a" stroke="#2a1a3a" stroke-width="0.35" textLength="37" lengthAdjust="spacingAndGlyphs" >28.3%</text>
<text x="632.40" y="720.50" font-size="13" text-anchor="middle" fill="#0a2a3a" stroke="#0a2a3a" stroke-width="0.35" textLength="37" lengthAdjust="spacingAndGlyphs" >71.7%</text>
<text x="706.00" y="692.50" font-size="13" text-anchor="middle" fill="#2a1a3a" stroke="#2a1a3a" stroke-width="0.35" textLength="37" lengthAdjust="spacingAndGlyphs" >38.3%</text>
<text x="706.00" y="735.00" font-size="13" text-anchor="middle" fill="#0a2a3a" stroke="#0a2a3a" stroke-width="0.35" textLength="37" lengthAdjust="spacingAndGlyphs" >61.7%</text>
<text x="576.80" y="786.50" font-size="16" text-anchor="middle" fill="#1f1f1f" stroke="#1f1f1f" stroke-width="0.35" textLength="37" lengthAdjust="spacingAndGlyphs" >GYS2</text>
<text x="632.40" y="786.00" font-size="14.5" text-anchor="middle" fill="#1f1f1f" stroke="#1f1f1f" stroke-width="0.35" textLength="27" lengthAdjust="spacingAndGlyphs" >Low</text>
<text x="706.00" y="786.00" font-size="14.5" text-anchor="middle" fill="#1f1f1f" stroke="#1f1f1f" stroke-width="0.35" textLength="30" lengthAdjust="spacingAndGlyphs" >High</text>
<text transform="translate(550.00,676.00) rotate(-90)" x="0" y="0" font-size="16.5" text-anchor="middle" fill="#1f1f1f" stroke="#1f1f1f" stroke-width="0.35" textLength="123" lengthAdjust="spacingAndGlyphs" >Number of cases</text>
<text x="602.00" y="582.00" font-size="14.5" text-anchor="start" fill="#1f1f1f" stroke="#1f1f1f" stroke-width="0.35" textLength="63" lengthAdjust="spacingAndGlyphs" ><tspan font-style="italic">P</tspan> = 0.005</text>
<text x="602.00" y="599.50" font-size="14.5" text-anchor="start" fill="#1f1f1f" stroke="#1f1f1f" stroke-width="0.35" textLength="75" lengthAdjust="spacingAndGlyphs" ><tspan font-style="italic">χ</tspan><tspan font-size="9" dy="-5">2</tspan><tspan dy="5"> = 7.888</tspan></text>
<rect x="599.90" y="608.80" width="11.10" height="9.70" fill="#0f7a8b" stroke="none" stroke-width="1" />
<rect x="599.90" y="626.70" width="11.10" height="10.20" fill="#c800c8" stroke="none" stroke-width="1" />
<text x="617.20" y="618.50" font-size="14" text-anchor="start" fill="#1f1f1f" stroke="#1f1f1f" stroke-width="0.35" textLength="61" lengthAdjust="spacingAndGlyphs" >PAS Low</text>
<text x="617.20" y="636.50" font-size="14" text-anchor="start" fill="#1f1f1f" stroke="#1f1f1f" stroke-width="0.35" textLength="65" lengthAdjust="spacingAndGlyphs" >PAS High</text>
<text x="774.00" y="548.80" font-size="32.5" text-anchor="start" fill="#000" font-weight="bold" >G</text>
<rect x="831.70" y="577.60" width="187.30" height="172.00" fill="none" stroke="#333" stroke-width="1.6" />
<text x="928.50" y="572.50" font-size="16" text-anchor="middle" fill="#1f1f1f" stroke="#1f1f1f" stroke-width="0.35" textLength="57" lengthAdjust="spacingAndGlyphs" >SYSUCC</text>
<line x1="828.20" y1="741.20" x2="831.70" y2="741.20" stroke="#333" stroke-width="1.3" />
<text x="824.40" y="746.20" font-size="14" text-anchor="end" fill="#222" stroke="#222" stroke-width="0.35" textLength="8.5" lengthAdjust="spacingAndGlyphs" >0</text>
<line x1="828.20" y1="710.10" x2="831.70" y2="710.10" stroke="#333" stroke-width="1.3" />
<text x="824.40" y="715.10" font-size="14" text-anchor="end" fill="#222" stroke="#222" stroke-width="0.35" textLength="15.5" lengthAdjust="spacingAndGlyphs" >20</text>
<line x1="828.20" y1="679.00" x2="831.70" y2="679.00" stroke="#333" stroke-width="1.3" />
<text x="824.40" y="684.00" font-size="14" text-anchor="end" fill="#222" stroke="#222" stroke-width="0.35" textLength="15.5" lengthAdjust="spacingAndGlyphs" >40</text>
<line x1="828.20" y1="647.90" x2="831.70" y2="647.90" stroke="#333" stroke-width="1.3" />
<text x="824.40" y="652.90" font-size="14" text-anchor="end" fill="#222" stroke="#222" stroke-width="0.35" textLength="15.5" lengthAdjust="spacingAndGlyphs" >60</text>
<line x1="828.20" y1="616.80" x2="831.70" y2="616.80" stroke="#333" stroke-width="1.3" />
<text x="824.40" y="621.80" font-size="14" text-anchor="end" fill="#222" stroke="#222" stroke-width="0.35" textLength="15.5" lengthAdjust="spacingAndGlyphs" >80</text>
<line x1="828.20" y1="585.70" x2="831.70" y2="585.70" stroke="#333" stroke-width="1.3" />
<text x="824.40" y="590.70" font-size="14" text-anchor="end" fill="#222" stroke="#222" stroke-width="0.35" textLength="21.5" lengthAdjust="spacingAndGlyphs" >100</text>
<line x1="840.80" y1="749.60" x2="840.80" y2="753.10" stroke="#333" stroke-width="1.3" />
<text x="840.80" y="765.50" font-size="13" text-anchor="middle" fill="#222" stroke="#222" stroke-width="0.35" textLength="7.5" lengthAdjust="spacingAndGlyphs" >0</text>
<line x1="864.83" y1="749.60" x2="864.83" y2="753.10" stroke="#333" stroke-width="1.3" />
<text x="864.83" y="765.50" font-size="13" text-anchor="middle" fill="#222" stroke="#222" stroke-width="0.35" textLength="12.5" lengthAdjust="spacingAndGlyphs" >25</text>
<line x1="888.86" y1="749.60" x2="888.86" y2="753.10" stroke="#333" stroke-width="1.3" />
<text x="888.86" y="765.50" font-size="13" text-anchor="middle" fill="#222" stroke="#222" stroke-width="0.35" textLength="12.5" lengthAdjust="spacingAndGlyphs" >50</text>
<line x1="912.89" y1="749.60" x2="912.89" y2="753.10" stroke="#333" stroke-width="1.3" />
<text x="912.89" y="765.50" font-size="13" text-anchor="middle" fill="#222" stroke="#222" stroke-width="0.35" textLength="12.5" lengthAdjust="spacingAndGlyphs" >75</text>
<line x1="936.92" y1="749.60" x2="936.92" y2="753.10" stroke="#333" stroke-width="1.3" />
<text x="936.92" y="765.50" font-size="13" text-anchor="middle" fill="#222" stroke="#222" stroke-width="0.35" textLength="17.5" lengthAdjust="spacingAndGlyphs" >100</text>
<line x1="960.95" y1="749.60" x2="960.95" y2="753.10" stroke="#333" stroke-width="1.3" />
<text x="960.95" y="765.50" font-size="13" text-anchor="middle" fill="#222" stroke="#222" stroke-width="0.35" textLength="17.5" lengthAdjust="spacingAndGlyphs" >125</text>
<line x1="984.98" y1="749.60" x2="984.98" y2="753.10" stroke="#333" stroke-width="1.3" />
<text x="984.98" y="765.50" font-size="13" text-anchor="middle" fill="#222" stroke="#222" stroke-width="0.35" textLength="17.5" lengthAdjust="spacingAndGlyphs" >150</text>
<line x1="1009.01" y1="749.60" x2="1009.01" y2="753.10" stroke="#333" stroke-width="1.3" />
<text x="1009.01" y="765.50" font-size="13" text-anchor="middle" fill="#222" stroke="#222" stroke-width="0.35" textLength="17.5" lengthAdjust="spacingAndGlyphs" >175</text>
<text x="925.40" y="788.70" font-size="17" text-anchor="middle" fill="#1f1f1f" stroke="#1f1f1f" stroke-width="0.35" textLength="108" lengthAdjust="spacingAndGlyphs" >Time (months)</text>
<text transform="translate(787.50,663.40) rotate(-90)" x="0" y="0" font-size="17" text-anchor="middle" fill="#1f1f1f" stroke="#1f1f1f" stroke-width="0.35" textLength="207" lengthAdjust="spacingAndGlyphs" >Overall survival (probability)</text>
<polyline points="840.80,585.70 841.76,587.57 843.59,593.79 846.76,609.65 849.93,630.80 853.10,649.92 857.33,664.69 861.56,677.29 864.83,685.53 867.91,692.22 871.08,697.66 874.25,702.79 878.29,709.32 882.71,715.39 886.94,718.96 891.17,721.76 895.40,723.94 899.63,725.96 903.85,727.36 908.08,728.60 916.54,730.16 925.00,732.34 933.46,734.51 941.92,736.07 950.38,737.00 958.84,737.62 963.06,739.02 981.04,739.02" fill="none" stroke="#3650b8" stroke-width="1.7"/>
<polyline points="840.80,585.70 841.76,587.26 843.59,594.87 846.76,609.65 850.99,624.58 855.22,641.37 859.45,654.12 863.68,664.69 867.91,675.27 872.14,684.75 875.40,689.11 878.48,692.22 883.09,695.64 886.94,698.44 890.78,701.08 895.40,703.72 899.43,706.06 903.85,709.01 908.08,711.66 912.31,714.30 915.77,715.39 920.77,716.48 925.39,718.03 929.23,719.59 933.08,721.30 937.69,722.85 944.61,723.47 950.38,723.94 954.61,725.96 992.67,725.96" fill="none" stroke="#ee2a2a" stroke-width="1.8"/>
<line x1="921.40" y1="592.70" x2="938.40" y2="592.70" stroke="#ee2a2a" stroke-width="3" />
<text x="942.60" y="596.20" font-size="14" text-anchor="start" fill="#e8303a" stroke="#e8303a" stroke-width="0.2" textLength="65" lengthAdjust="spacingAndGlyphs" >High GYS2</text>
<line x1="921.40" y1="610.40" x2="938.40" y2="610.40" stroke="#2a3a8a" stroke-width="3" />
<text x="942.60" y="614.00" font-size="14" text-anchor="start" fill="#3a3c92" stroke="#3a3c92" stroke-width="0.2" textLength="65" lengthAdjust="spacingAndGlyphs" >Low&#160;&#160;GYS2</text>
<text x="1008.00" y="638.30" font-size="16" text-anchor="end" fill="#1f1f1f" stroke="#1f1f1f" stroke-width="0.2" textLength="63" lengthAdjust="spacingAndGlyphs" ><tspan font-style="italic">P</tspan> = 0.000</text>
<rect x="1102.00" y="576.80" width="184.80" height="171.80" fill="none" stroke="#333" stroke-width="1.6" />
<text x="1196.40" y="572.50" font-size="16" text-anchor="middle" fill="#1f1f1f" stroke="#1f1f1f" stroke-width="0.35" textLength="40" lengthAdjust="spacingAndGlyphs" >TCGA</text>
<line x1="1098.50" y1="740.60" x2="1102.00" y2="740.60" stroke="#333" stroke-width="1.3" />
<text x="1094.70" y="745.60" font-size="14" text-anchor="end" fill="#222" stroke="#222" stroke-width="0.35" textLength="8.5" lengthAdjust="spacingAndGlyphs" >0</text>
<line x1="1098.50" y1="709.62" x2="1102.00" y2="709.62" stroke="#333" stroke-width="1.3" />
<text x="1094.70" y="714.62" font-size="14" text-anchor="end" fill="#222" stroke="#222" stroke-width="0.35" textLength="15.5" lengthAdjust="spacingAndGlyphs" >20</text>
<line x1="1098.50" y1="678.64" x2="1102.00" y2="678.64" stroke="#333" stroke-width="1.3" />
<text x="1094.70" y="683.64" font-size="14" text-anchor="end" fill="#222" stroke="#222" stroke-width="0.35" textLength="15.5" lengthAdjust="spacingAndGlyphs" >40</text>
<line x1="1098.50" y1="647.66" x2="1102.00" y2="647.66" stroke="#333" stroke-width="1.3" />
<text x="1094.70" y="652.66" font-size="14" text-anchor="end" fill="#222" stroke="#222" stroke-width="0.35" textLength="15.5" lengthAdjust="spacingAndGlyphs" >60</text>
<line x1="1098.50" y1="616.68" x2="1102.00" y2="616.68" stroke="#333" stroke-width="1.3" />
<text x="1094.70" y="621.68" font-size="14" text-anchor="end" fill="#222" stroke="#222" stroke-width="0.35" textLength="15.5" lengthAdjust="spacingAndGlyphs" >80</text>
<line x1="1098.50" y1="585.70" x2="1102.00" y2="585.70" stroke="#333" stroke-width="1.3" />
<text x="1094.70" y="590.70" font-size="14" text-anchor="end" fill="#222" stroke="#222" stroke-width="0.35" textLength="21.5" lengthAdjust="spacingAndGlyphs" >100</text>
<line x1="1110.80" y1="748.60" x2="1110.80" y2="752.10" stroke="#333" stroke-width="1.3" />
<text x="1110.80" y="765.50" font-size="13" text-anchor="middle" fill="#222" stroke="#222" stroke-width="0.35" textLength="7.5" lengthAdjust="spacingAndGlyphs" >0</text>
<line x1="1138.00" y1="748.60" x2="1138.00" y2="752.10" stroke="#333" stroke-width="1.3" />
<text x="1138.00" y="765.50" font-size="13" text-anchor="middle" fill="#222" stroke="#222" stroke-width="0.35" textLength="12.5" lengthAdjust="spacingAndGlyphs" >25</text>
<line x1="1165.20" y1="748.60" x2="1165.20" y2="752.10" stroke="#333" stroke-width="1.3" />
<text x="1165.20" y="765.50" font-size="13" text-anchor="middle" fill="#222" stroke="#222" stroke-width="0.35" textLength="12.5" lengthAdjust="spacingAndGlyphs" >50</text>
<line x1="1192.40" y1="748.60" x2="1192.40" y2="752.10" stroke="#333" stroke-width="1.3" />
<text x="1192.40" y="765.50" font-size="13" text-anchor="middle" fill="#222" stroke="#222" stroke-width="0.35" textLength="12.5" lengthAdjust="spacingAndGlyphs" >75</text>
<line x1="1219.60" y1="748.60" x2="1219.60" y2="752.10" stroke="#333" stroke-width="1.3" />
<text x="1219.60" y="765.50" font-size="13" text-anchor="middle" fill="#222" stroke="#222" stroke-width="0.35" textLength="17.5" lengthAdjust="spacingAndGlyphs" >100</text>
<line x1="1246.80" y1="748.60" x2="1246.80" y2="752.10" stroke="#333" stroke-width="1.3" />
<text x="1246.80" y="765.50" font-size="13" text-anchor="middle" fill="#222" stroke="#222" stroke-width="0.35" textLength="17.5" lengthAdjust="spacingAndGlyphs" >125</text>
<line x1="1274.00" y1="748.60" x2="1274.00" y2="752.10" stroke="#333" stroke-width="1.3" />
<text x="1274.00" y="765.50" font-size="13" text-anchor="middle" fill="#222" stroke="#222" stroke-width="0.35" textLength="17.5" lengthAdjust="spacingAndGlyphs" >150</text>
<text x="1200.50" y="788.70" font-size="17" text-anchor="middle" fill="#1f1f1f" stroke="#1f1f1f" stroke-width="0.35" textLength="108" lengthAdjust="spacingAndGlyphs" >Time (months)</text>
<text transform="translate(1058.20,663.40) rotate(-90)" x="0" y="0" font-size="17" text-anchor="middle" fill="#1f1f1f" stroke="#1f1f1f" stroke-width="0.35" textLength="207" lengthAdjust="spacingAndGlyphs" >Overall survival (probability)</text>
<polyline points="1110.80,585.70 1112.76,585.70 1112.76,589.57 1114.72,589.57 1114.72,593.91 1116.78,593.91 1116.78,599.18 1118.96,599.18 1118.96,604.44 1121.14,604.44 1121.14,612.03 1123.20,612.03 1123.20,619.31 1125.27,619.31 1125.27,625.66 1127.45,625.66 1127.45,632.02 1130.38,632.02 1130.38,637.28 1133.76,637.28 1133.76,642.55 1136.91,642.55 1136.91,646.89 1140.07,646.89 1140.07,651.07 1143.22,651.07 1143.22,654.17 1146.49,654.17 1146.49,657.42 1150.51,657.42 1150.51,659.59 1154.97,659.59 1154.97,661.60 1158.13,661.60 1158.13,662.69 1161.28,662.69 1161.28,663.77 1164.44,663.77 1164.44,665.94 1167.59,665.94 1167.59,667.95 1170.64,667.95 1170.64,671.20 1174.01,671.20 1174.01,674.30 1177.17,674.30 1177.17,677.56 1180.32,677.56 1180.32,680.65 1201.54,680.65 1201.54,680.65 1202.52,680.65 1202.52,688.09 1230.04,688.09 1230.04,688.09 1230.04,688.09 1230.04,700.79 1245.93,700.79 1245.93,700.79" fill="none" stroke="#3650b8" stroke-width="1.7"/>
<polyline points="1110.80,585.70 1112.43,585.70 1112.43,588.02 1113.63,588.02 1113.63,590.81 1116.24,590.81 1116.24,592.67 1118.42,592.67 1118.42,594.22 1121.03,594.22 1121.03,596.08 1123.86,596.08 1123.86,598.09 1127.12,598.09 1127.12,599.64 1131.69,599.64 1131.69,602.43 1133.65,602.43 1133.65,605.84 1135.82,605.84 1135.82,608.78 1137.46,608.78 1137.46,612.81 1139.09,612.81 1139.09,616.68 1140.72,616.68 1140.72,620.55 1142.24,620.55 1142.24,624.58 1146.70,624.58 1146.70,624.89 1152.80,624.89 1152.80,625.66 1154.86,625.66 1154.86,629.07 1157.04,629.07 1157.04,632.48 1159.11,632.48 1159.11,636.20 1161.94,636.20 1161.94,639.14 1164.66,639.14 1164.66,641.93 1167.59,641.93 1167.59,644.72 1170.64,644.72 1170.64,646.89 1173.36,646.89 1173.36,649.21 1176.08,649.21 1176.08,651.07 1181.52,651.07 1181.52,651.53 1187.72,651.53 1187.72,652.15 1188.81,652.15 1188.81,663.77 1200.45,663.77 1200.45,663.77 1201.54,663.77 1201.54,676.47 1203.61,676.47 1203.61,701.88 1224.82,701.88 1224.82,701.88 1224.82,701.88 1224.82,720.93 1232.22,720.93 1232.22,720.93" fill="none" stroke="#ee2a2a" stroke-width="1.8"/>
<line x1="1189.20" y1="592.70" x2="1206.20" y2="592.70" stroke="#ee2a2a" stroke-width="3" />
<text x="1210.40" y="596.20" font-size="14" text-anchor="start" fill="#e8303a" stroke="#e8303a" stroke-width="0.2" textLength="65" lengthAdjust="spacingAndGlyphs" >High GYS2</text>
<line x1="1189.20" y1="610.40" x2="1206.20" y2="610.40" stroke="#2a3a8a" stroke-width="3" />
<text x="1210.40" y="614.00" font-size="14" text-anchor="start" fill="#3a3c92" stroke="#3a3c92" stroke-width="0.2" textLength="65" lengthAdjust="spacingAndGlyphs" >Low&#160;&#160;GYS2</text>
<text x="1275.80" y="638.30" font-size="16" text-anchor="end" fill="#1f1f1f" stroke="#1f1f1f" stroke-width="0.2" textLength="63" lengthAdjust="spacingAndGlyphs" ><tspan font-style="italic">P</tspan> = 0.000</text>
</svg></body></html>
